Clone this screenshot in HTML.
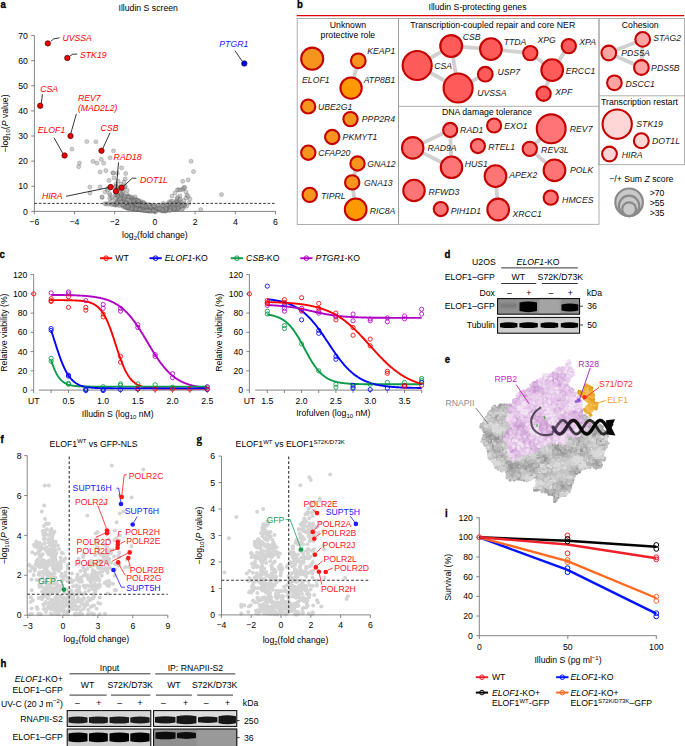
<!DOCTYPE html>
<html><head><meta charset="utf-8"><style>
html,body{margin:0;padding:0;background:#fff;}
svg{display:block;}
svg{font-family:"Liberation Sans",sans-serif;font-size:8.7px;}
</style></head><body>
<svg width="685" height="746" viewBox="0 0 685 746">
<defs>
<filter id="bl" x="-20%" y="-50%" width="140%" height="200%"><feGaussianBlur stdDeviation="0.6"/></filter>
<filter id="bl2" x="-20%" y="-50%" width="140%" height="200%"><feGaussianBlur stdDeviation="1.2"/></filter>
</defs>
<rect width="685" height="746" fill="#fff"/>
<text transform="matrix(1,0,0,1.042,0.60,7.90)" font-size="9.6" font-weight="bold" stroke="#000" stroke-width="0.3">a</text>
<text transform="matrix(1,0,0,1.042,148.20,10.71)" text-anchor="middle">Illudin S screen</text>
<line x1="34.40" y1="35.60" x2="34.40" y2="211.40" stroke="#666" stroke-width="0.8" />
<line x1="34.40" y1="211.40" x2="275.60" y2="211.40" stroke="#666" stroke-width="0.8" />
<line x1="31.20" y1="211.40" x2="34.40" y2="211.40" stroke="#666" stroke-width="0.8" />
<text transform="matrix(1,0,0,1.042,27.80,214.51)" text-anchor="end">0</text>
<line x1="31.20" y1="186.27" x2="34.40" y2="186.27" stroke="#666" stroke-width="0.8" />
<text transform="matrix(1,0,0,1.042,27.80,189.38)" text-anchor="end">10</text>
<line x1="31.20" y1="161.14" x2="34.40" y2="161.14" stroke="#666" stroke-width="0.8" />
<text transform="matrix(1,0,0,1.042,27.80,164.25)" text-anchor="end">20</text>
<line x1="31.20" y1="136.01" x2="34.40" y2="136.01" stroke="#666" stroke-width="0.8" />
<text transform="matrix(1,0,0,1.042,27.80,139.12)" text-anchor="end">30</text>
<line x1="31.20" y1="110.88" x2="34.40" y2="110.88" stroke="#666" stroke-width="0.8" />
<text transform="matrix(1,0,0,1.042,27.80,113.99)" text-anchor="end">40</text>
<line x1="31.20" y1="85.75" x2="34.40" y2="85.75" stroke="#666" stroke-width="0.8" />
<text transform="matrix(1,0,0,1.042,27.80,88.86)" text-anchor="end">50</text>
<line x1="31.20" y1="60.62" x2="34.40" y2="60.62" stroke="#666" stroke-width="0.8" />
<text transform="matrix(1,0,0,1.042,27.80,63.73)" text-anchor="end">60</text>
<line x1="31.20" y1="35.49" x2="34.40" y2="35.49" stroke="#666" stroke-width="0.8" />
<text transform="matrix(1,0,0,1.042,27.80,38.60)" text-anchor="end">70</text>
<line x1="34.30" y1="211.40" x2="34.30" y2="214.30" stroke="#666" stroke-width="0.8" />
<text transform="matrix(1,0,0,1.042,34.30,224.71)" text-anchor="middle">−6</text>
<line x1="74.50" y1="211.40" x2="74.50" y2="214.30" stroke="#666" stroke-width="0.8" />
<text transform="matrix(1,0,0,1.042,74.50,224.71)" text-anchor="middle">−4</text>
<line x1="114.70" y1="211.40" x2="114.70" y2="214.30" stroke="#666" stroke-width="0.8" />
<text transform="matrix(1,0,0,1.042,114.70,224.71)" text-anchor="middle">−2</text>
<line x1="154.90" y1="211.40" x2="154.90" y2="214.30" stroke="#666" stroke-width="0.8" />
<text transform="matrix(1,0,0,1.042,154.90,224.71)" text-anchor="middle">0</text>
<line x1="195.10" y1="211.40" x2="195.10" y2="214.30" stroke="#666" stroke-width="0.8" />
<text transform="matrix(1,0,0,1.042,195.10,224.71)" text-anchor="middle">2</text>
<line x1="235.30" y1="211.40" x2="235.30" y2="214.30" stroke="#666" stroke-width="0.8" />
<text transform="matrix(1,0,0,1.042,235.30,224.71)" text-anchor="middle">4</text>
<line x1="275.50" y1="211.40" x2="275.50" y2="214.30" stroke="#666" stroke-width="0.8" />
<text transform="matrix(1,0,0,1.042,275.50,224.71)" text-anchor="middle">6</text>
<text transform="matrix(1,0,0,1.042,154.90,238.11)" text-anchor="middle">log<tspan font-size="6" dy="2">2</tspan><tspan dy="-2">(fold change)</tspan></text>
<text transform="translate(7.6,123.5) rotate(-90)" text-anchor="middle" y="0">−log<tspan font-size="6" dy="2">10</tspan><tspan dy="-2">(</tspan><tspan font-style="italic">P</tspan> value)</text>
<g fill="#9a9a9a" stroke="#484848" stroke-width="0.6" fill-opacity="0.48" stroke-opacity="0.42">
<circle cx="86.8" cy="141.5" r="2.05"/>
<circle cx="95.9" cy="141.8" r="2.05"/>
<circle cx="72.0" cy="149.1" r="2.05"/>
<circle cx="113.5" cy="150.8" r="2.05"/>
<circle cx="79.4" cy="163.1" r="2.05"/>
<circle cx="78.7" cy="166.7" r="2.05"/>
<circle cx="93.1" cy="161.4" r="2.05"/>
<circle cx="97.0" cy="163.1" r="2.05"/>
<circle cx="103.7" cy="163.1" r="2.05"/>
<circle cx="110.1" cy="157.8" r="2.05"/>
<circle cx="101.2" cy="159.3" r="2.05"/>
<circle cx="100.1" cy="172.0" r="2.05"/>
<circle cx="105.8" cy="170.6" r="2.05"/>
<circle cx="121.6" cy="167.9" r="2.05"/>
<circle cx="125.7" cy="173.5" r="2.05"/>
<circle cx="113.2" cy="173.0" r="2.05"/>
<circle cx="117.3" cy="173.3" r="2.05"/>
<circle cx="89.8" cy="187.1" r="2.05"/>
<circle cx="90.0" cy="193.1" r="2.05"/>
<circle cx="100.1" cy="186.9" r="2.05"/>
<circle cx="102.2" cy="197.4" r="2.05"/>
<circle cx="109.0" cy="180.4" r="2.05"/>
<circle cx="125.2" cy="178.9" r="2.05"/>
<circle cx="101.9" cy="197.0" r="2.05"/>
<circle cx="191.0" cy="161.3" r="2.05"/>
<circle cx="193.5" cy="171.6" r="2.05"/>
<circle cx="182.7" cy="181.3" r="2.05"/>
<circle cx="188.2" cy="179.9" r="2.05"/>
<circle cx="178.5" cy="189.6" r="2.05"/>
<circle cx="182.1" cy="189.6" r="2.05"/>
<circle cx="184.0" cy="187.7" r="2.05"/>
<circle cx="221.5" cy="194.6" r="2.05"/>
<circle cx="200.7" cy="209.6" r="2.05"/>
<circle cx="112.9" cy="172.9" r="2.05"/>
<circle cx="118.0" cy="181.0" r="2.05"/>
<circle cx="121.0" cy="184.0" r="2.05"/>
<circle cx="124.0" cy="182.0" r="2.05"/>
<circle cx="108.0" cy="188.0" r="2.05"/>
<circle cx="105.0" cy="192.0" r="2.05"/>
<circle cx="110.0" cy="195.0" r="2.05"/>
<circle cx="114.0" cy="178.0" r="2.05"/>
<circle cx="116.0" cy="184.0" r="2.05"/>
<circle cx="177.4" cy="190.0" r="2.05"/>
<circle cx="179.9" cy="190.0" r="2.05"/>
<circle cx="183.4" cy="188.7" r="2.05"/>
<circle cx="184.8" cy="187.3" r="2.05"/>
<circle cx="186.0" cy="192.0" r="2.05"/>
<circle cx="187.0" cy="195.0" r="2.05"/>
<circle cx="175.0" cy="193.0" r="2.05"/>
<circle cx="172.0" cy="196.0" r="2.05"/>
<circle cx="180.0" cy="196.0" r="2.05"/>
<circle cx="186.0" cy="198.0" r="2.05"/>
<circle cx="190.0" cy="199.0" r="2.05"/>
<circle cx="189.0" cy="203.0" r="2.05"/>
<circle cx="184.0" cy="204.0" r="2.05"/>
<circle cx="147.9" cy="210.9" r="2.05"/>
<circle cx="152.2" cy="210.1" r="2.05"/>
<circle cx="133.2" cy="205.9" r="2.05"/>
<circle cx="136.6" cy="209.3" r="2.05"/>
<circle cx="139.9" cy="209.2" r="2.05"/>
<circle cx="130.9" cy="196.9" r="2.05"/>
<circle cx="108.3" cy="204.1" r="2.05"/>
<circle cx="186.6" cy="206.2" r="2.05"/>
<circle cx="145.1" cy="205.1" r="2.05"/>
<circle cx="144.4" cy="207.3" r="2.05"/>
<circle cx="125.4" cy="207.5" r="2.05"/>
<circle cx="148.6" cy="210.5" r="2.05"/>
<circle cx="126.6" cy="201.7" r="2.05"/>
<circle cx="141.8" cy="209.0" r="2.05"/>
<circle cx="167.6" cy="207.1" r="2.05"/>
<circle cx="127.5" cy="196.5" r="2.05"/>
<circle cx="163.3" cy="210.9" r="2.05"/>
<circle cx="172.4" cy="203.6" r="2.05"/>
<circle cx="133.1" cy="202.8" r="2.05"/>
<circle cx="170.2" cy="206.6" r="2.05"/>
<circle cx="163.9" cy="207.6" r="2.05"/>
<circle cx="155.4" cy="209.6" r="2.05"/>
<circle cx="180.7" cy="202.3" r="2.05"/>
<circle cx="131.8" cy="201.8" r="2.05"/>
<circle cx="161.1" cy="210.3" r="2.05"/>
<circle cx="135.8" cy="203.8" r="2.05"/>
<circle cx="129.1" cy="207.9" r="2.05"/>
<circle cx="138.7" cy="203.5" r="2.05"/>
<circle cx="137.0" cy="201.3" r="2.05"/>
<circle cx="149.8" cy="209.3" r="2.05"/>
<circle cx="154.8" cy="206.4" r="2.05"/>
<circle cx="120.6" cy="202.5" r="2.05"/>
<circle cx="161.4" cy="210.9" r="2.05"/>
<circle cx="115.0" cy="203.7" r="2.05"/>
<circle cx="119.5" cy="204.4" r="2.05"/>
<circle cx="138.5" cy="207.4" r="2.05"/>
<circle cx="107.3" cy="189.9" r="2.05"/>
<circle cx="123.7" cy="199.9" r="2.05"/>
<circle cx="163.2" cy="205.8" r="2.05"/>
<circle cx="177.1" cy="201.3" r="2.05"/>
<circle cx="131.9" cy="202.9" r="2.05"/>
<circle cx="140.4" cy="210.0" r="2.05"/>
<circle cx="143.0" cy="210.4" r="2.05"/>
<circle cx="147.0" cy="210.5" r="2.05"/>
<circle cx="134.9" cy="200.3" r="2.05"/>
<circle cx="139.1" cy="209.5" r="2.05"/>
<circle cx="129.7" cy="208.0" r="2.05"/>
<circle cx="177.8" cy="197.4" r="2.05"/>
<circle cx="131.3" cy="208.4" r="2.05"/>
<circle cx="137.4" cy="208.5" r="2.05"/>
<circle cx="171.1" cy="201.1" r="2.05"/>
<circle cx="139.2" cy="209.5" r="2.05"/>
<circle cx="152.6" cy="205.2" r="2.05"/>
<circle cx="172.1" cy="204.6" r="2.05"/>
<circle cx="131.5" cy="200.5" r="2.05"/>
<circle cx="142.7" cy="204.7" r="2.05"/>
<circle cx="140.8" cy="201.4" r="2.05"/>
<circle cx="188.1" cy="196.5" r="2.05"/>
<circle cx="169.5" cy="207.3" r="2.05"/>
<circle cx="127.5" cy="208.0" r="2.05"/>
<circle cx="135.0" cy="203.2" r="2.05"/>
<circle cx="177.6" cy="206.4" r="2.05"/>
<circle cx="134.4" cy="208.2" r="2.05"/>
<circle cx="139.7" cy="205.6" r="2.05"/>
<circle cx="176.4" cy="200.9" r="2.05"/>
<circle cx="123.4" cy="207.0" r="2.05"/>
<circle cx="117.6" cy="189.6" r="2.05"/>
<circle cx="170.0" cy="210.0" r="2.05"/>
<circle cx="158.5" cy="210.2" r="2.05"/>
<circle cx="179.9" cy="206.4" r="2.05"/>
<circle cx="168.2" cy="205.3" r="2.05"/>
<circle cx="142.0" cy="203.0" r="2.05"/>
<circle cx="174.1" cy="209.7" r="2.05"/>
<circle cx="184.6" cy="206.0" r="2.05"/>
<circle cx="134.5" cy="208.8" r="2.05"/>
<circle cx="155.4" cy="209.1" r="2.05"/>
<circle cx="167.3" cy="208.5" r="2.05"/>
<circle cx="173.2" cy="209.2" r="2.05"/>
<circle cx="128.8" cy="206.9" r="2.05"/>
<circle cx="136.0" cy="209.1" r="2.05"/>
<circle cx="180.4" cy="206.9" r="2.05"/>
<circle cx="112.3" cy="199.5" r="2.05"/>
<circle cx="159.1" cy="209.0" r="2.05"/>
<circle cx="134.3" cy="206.2" r="2.05"/>
<circle cx="136.4" cy="209.5" r="2.05"/>
<circle cx="175.3" cy="203.2" r="2.05"/>
<circle cx="149.9" cy="210.0" r="2.05"/>
<circle cx="115.3" cy="205.2" r="2.05"/>
<circle cx="129.0" cy="206.9" r="2.05"/>
<circle cx="139.0" cy="206.1" r="2.05"/>
<circle cx="158.1" cy="205.5" r="2.05"/>
<circle cx="125.0" cy="202.3" r="2.05"/>
<circle cx="126.7" cy="203.8" r="2.05"/>
<circle cx="141.1" cy="203.0" r="2.05"/>
<circle cx="169.2" cy="202.0" r="2.05"/>
<circle cx="182.8" cy="208.5" r="2.05"/>
<circle cx="132.1" cy="207.6" r="2.05"/>
<circle cx="138.6" cy="204.7" r="2.05"/>
<circle cx="174.6" cy="203.5" r="2.05"/>
<circle cx="132.2" cy="208.3" r="2.05"/>
<circle cx="176.9" cy="198.6" r="2.05"/>
<circle cx="134.9" cy="205.8" r="2.05"/>
<circle cx="172.9" cy="207.6" r="2.05"/>
<circle cx="130.1" cy="206.2" r="2.05"/>
<circle cx="128.1" cy="208.2" r="2.05"/>
<circle cx="155.8" cy="209.7" r="2.05"/>
<circle cx="127.9" cy="203.3" r="2.05"/>
<circle cx="152.7" cy="205.2" r="2.05"/>
<circle cx="174.6" cy="208.8" r="2.05"/>
<circle cx="135.7" cy="202.2" r="2.05"/>
<circle cx="146.2" cy="204.4" r="2.05"/>
<circle cx="177.6" cy="208.4" r="2.05"/>
<circle cx="151.7" cy="207.6" r="2.05"/>
<circle cx="128.5" cy="208.1" r="2.05"/>
<circle cx="132.3" cy="197.9" r="2.05"/>
<circle cx="139.1" cy="203.2" r="2.05"/>
<circle cx="139.8" cy="202.7" r="2.05"/>
<circle cx="133.0" cy="206.9" r="2.05"/>
<circle cx="146.1" cy="210.5" r="2.05"/>
<circle cx="132.2" cy="207.7" r="2.05"/>
<circle cx="139.0" cy="209.2" r="2.05"/>
<circle cx="140.4" cy="208.7" r="2.05"/>
<circle cx="167.0" cy="210.3" r="2.05"/>
<circle cx="151.7" cy="211.3" r="2.05"/>
<circle cx="157.9" cy="208.7" r="2.05"/>
<circle cx="138.9" cy="207.0" r="2.05"/>
<circle cx="184.6" cy="204.8" r="2.05"/>
<circle cx="151.8" cy="206.5" r="2.05"/>
<circle cx="116.9" cy="186.8" r="2.05"/>
<circle cx="136.0" cy="201.5" r="2.05"/>
<circle cx="128.1" cy="205.6" r="2.05"/>
<circle cx="126.8" cy="207.4" r="2.05"/>
<circle cx="136.2" cy="208.9" r="2.05"/>
<circle cx="126.8" cy="196.9" r="2.05"/>
<circle cx="166.1" cy="210.1" r="2.05"/>
<circle cx="127.5" cy="204.0" r="2.05"/>
<circle cx="127.2" cy="194.4" r="2.05"/>
<circle cx="172.6" cy="206.3" r="2.05"/>
<circle cx="147.8" cy="209.6" r="2.05"/>
<circle cx="134.4" cy="206.8" r="2.05"/>
<circle cx="128.1" cy="203.5" r="2.05"/>
<circle cx="136.7" cy="208.3" r="2.05"/>
<circle cx="133.7" cy="209.1" r="2.05"/>
<circle cx="139.1" cy="209.0" r="2.05"/>
<circle cx="115.4" cy="195.2" r="2.05"/>
<circle cx="132.8" cy="199.3" r="2.05"/>
<circle cx="119.4" cy="205.7" r="2.05"/>
<circle cx="160.7" cy="205.2" r="2.05"/>
<circle cx="143.6" cy="205.5" r="2.05"/>
<circle cx="177.8" cy="205.6" r="2.05"/>
<circle cx="179.4" cy="200.3" r="2.05"/>
<circle cx="151.6" cy="207.8" r="2.05"/>
<circle cx="122.9" cy="205.7" r="2.05"/>
<circle cx="145.1" cy="210.5" r="2.05"/>
<circle cx="177.0" cy="205.1" r="2.05"/>
<circle cx="123.0" cy="202.0" r="2.05"/>
<circle cx="122.7" cy="195.6" r="2.05"/>
<circle cx="157.5" cy="207.9" r="2.05"/>
<circle cx="136.5" cy="203.1" r="2.05"/>
<circle cx="146.0" cy="206.2" r="2.05"/>
<circle cx="141.4" cy="204.8" r="2.05"/>
<circle cx="160.1" cy="209.1" r="2.05"/>
<circle cx="137.3" cy="203.0" r="2.05"/>
<circle cx="133.5" cy="208.6" r="2.05"/>
<circle cx="132.7" cy="201.5" r="2.05"/>
<circle cx="134.9" cy="209.2" r="2.05"/>
<circle cx="136.0" cy="203.8" r="2.05"/>
<circle cx="131.9" cy="204.6" r="2.05"/>
<circle cx="127.1" cy="203.7" r="2.05"/>
<circle cx="143.6" cy="202.7" r="2.05"/>
<circle cx="165.8" cy="211.0" r="2.05"/>
<circle cx="151.4" cy="209.5" r="2.05"/>
<circle cx="145.3" cy="207.5" r="2.05"/>
<circle cx="133.8" cy="205.0" r="2.05"/>
<circle cx="182.5" cy="204.3" r="2.05"/>
<circle cx="183.8" cy="200.5" r="2.05"/>
<circle cx="148.9" cy="211.1" r="2.05"/>
<circle cx="127.8" cy="203.6" r="2.05"/>
<circle cx="134.5" cy="207.2" r="2.05"/>
<circle cx="143.6" cy="204.3" r="2.05"/>
<circle cx="136.9" cy="209.3" r="2.05"/>
<circle cx="150.8" cy="207.4" r="2.05"/>
<circle cx="167.6" cy="208.8" r="2.05"/>
<circle cx="179.4" cy="204.0" r="2.05"/>
<circle cx="127.4" cy="208.0" r="2.05"/>
<circle cx="141.4" cy="203.6" r="2.05"/>
<circle cx="145.9" cy="209.9" r="2.05"/>
<circle cx="132.9" cy="208.2" r="2.05"/>
<circle cx="162.9" cy="205.5" r="2.05"/>
<circle cx="129.4" cy="196.8" r="2.05"/>
<circle cx="154.7" cy="211.3" r="2.05"/>
<circle cx="165.1" cy="208.7" r="2.05"/>
<circle cx="164.9" cy="211.0" r="2.05"/>
<circle cx="163.5" cy="210.8" r="2.05"/>
<circle cx="130.7" cy="200.7" r="2.05"/>
<circle cx="177.0" cy="208.5" r="2.05"/>
<circle cx="131.6" cy="206.0" r="2.05"/>
<circle cx="152.6" cy="211.0" r="2.05"/>
<circle cx="149.5" cy="210.5" r="2.05"/>
<circle cx="163.4" cy="203.2" r="2.05"/>
<circle cx="142.3" cy="210.2" r="2.05"/>
<circle cx="143.4" cy="210.3" r="2.05"/>
<circle cx="135.9" cy="200.6" r="2.05"/>
<circle cx="183.0" cy="205.5" r="2.05"/>
<circle cx="124.2" cy="204.7" r="2.05"/>
<circle cx="134.9" cy="207.9" r="2.05"/>
<circle cx="178.3" cy="203.7" r="2.05"/>
<circle cx="178.4" cy="208.6" r="2.05"/>
<circle cx="136.9" cy="206.8" r="2.05"/>
<circle cx="180.1" cy="199.2" r="2.05"/>
<circle cx="172.5" cy="204.3" r="2.05"/>
<circle cx="170.3" cy="207.6" r="2.05"/>
<circle cx="149.8" cy="205.2" r="2.05"/>
<circle cx="170.0" cy="203.0" r="2.05"/>
<circle cx="170.0" cy="210.2" r="2.05"/>
<circle cx="143.1" cy="205.9" r="2.05"/>
<circle cx="167.4" cy="205.0" r="2.05"/>
<circle cx="118.2" cy="199.0" r="2.05"/>
<circle cx="138.7" cy="201.4" r="2.05"/>
<circle cx="127.5" cy="206.0" r="2.05"/>
<circle cx="136.6" cy="203.7" r="2.05"/>
<circle cx="155.4" cy="211.3" r="2.05"/>
<circle cx="125.6" cy="206.4" r="2.05"/>
<circle cx="130.4" cy="208.6" r="2.05"/>
<circle cx="144.9" cy="204.3" r="2.05"/>
<circle cx="137.8" cy="200.3" r="2.05"/>
<circle cx="146.6" cy="209.7" r="2.05"/>
<circle cx="117.2" cy="201.3" r="2.05"/>
<circle cx="137.0" cy="204.2" r="2.05"/>
<circle cx="170.4" cy="208.9" r="2.05"/>
<circle cx="140.2" cy="205.1" r="2.05"/>
<circle cx="143.1" cy="207.7" r="2.05"/>
<circle cx="116.3" cy="186.8" r="2.05"/>
<circle cx="140.8" cy="209.4" r="2.05"/>
<circle cx="163.4" cy="210.0" r="2.05"/>
<circle cx="163.5" cy="210.4" r="2.05"/>
<circle cx="137.0" cy="204.3" r="2.05"/>
<circle cx="176.1" cy="209.0" r="2.05"/>
<circle cx="178.0" cy="209.2" r="2.05"/>
<circle cx="149.0" cy="205.3" r="2.05"/>
<circle cx="173.7" cy="203.6" r="2.05"/>
<circle cx="178.1" cy="208.9" r="2.05"/>
<circle cx="166.2" cy="205.5" r="2.05"/>
<circle cx="130.3" cy="205.9" r="2.05"/>
<circle cx="125.9" cy="206.9" r="2.05"/>
<circle cx="134.5" cy="198.8" r="2.05"/>
<circle cx="148.8" cy="204.5" r="2.05"/>
<circle cx="121.7" cy="194.5" r="2.05"/>
<circle cx="155.8" cy="211.3" r="2.05"/>
<circle cx="116.4" cy="204.5" r="2.05"/>
<circle cx="157.8" cy="205.7" r="2.05"/>
<circle cx="116.6" cy="193.0" r="2.05"/>
<circle cx="149.5" cy="211.1" r="2.05"/>
<circle cx="145.6" cy="206.0" r="2.05"/>
<circle cx="166.2" cy="209.4" r="2.05"/>
<circle cx="154.3" cy="210.7" r="2.05"/>
<circle cx="132.1" cy="206.9" r="2.05"/>
<circle cx="158.7" cy="205.3" r="2.05"/>
<circle cx="137.3" cy="200.4" r="2.05"/>
<circle cx="138.3" cy="200.6" r="2.05"/>
<circle cx="181.3" cy="206.3" r="2.05"/>
<circle cx="123.0" cy="192.6" r="2.05"/>
<circle cx="143.3" cy="204.7" r="2.05"/>
<circle cx="177.6" cy="204.2" r="2.05"/>
<circle cx="116.6" cy="202.8" r="2.05"/>
<circle cx="137.9" cy="209.0" r="2.05"/>
<circle cx="166.0" cy="210.1" r="2.05"/>
<circle cx="153.0" cy="210.3" r="2.05"/>
<circle cx="172.7" cy="201.6" r="2.05"/>
<circle cx="169.6" cy="210.5" r="2.05"/>
<circle cx="142.3" cy="205.4" r="2.05"/>
<circle cx="138.2" cy="205.2" r="2.05"/>
<circle cx="150.3" cy="207.0" r="2.05"/>
<circle cx="167.4" cy="204.0" r="2.05"/>
<circle cx="131.1" cy="203.6" r="2.05"/>
<circle cx="136.2" cy="208.4" r="2.05"/>
<circle cx="128.1" cy="207.5" r="2.05"/>
<circle cx="162.1" cy="209.5" r="2.05"/>
<circle cx="165.8" cy="208.1" r="2.05"/>
<circle cx="143.6" cy="202.5" r="2.05"/>
<circle cx="119.1" cy="200.9" r="2.05"/>
<circle cx="182.0" cy="209.1" r="2.05"/>
<circle cx="112.4" cy="204.4" r="2.05"/>
<circle cx="153.8" cy="205.8" r="2.05"/>
<circle cx="133.9" cy="200.0" r="2.05"/>
<circle cx="135.4" cy="199.4" r="2.05"/>
<circle cx="159.4" cy="208.2" r="2.05"/>
<circle cx="139.3" cy="209.5" r="2.05"/>
<circle cx="149.1" cy="210.3" r="2.05"/>
<circle cx="131.7" cy="208.8" r="2.05"/>
<circle cx="129.6" cy="201.3" r="2.05"/>
<circle cx="133.5" cy="201.0" r="2.05"/>
<circle cx="145.0" cy="210.6" r="2.05"/>
<circle cx="123.7" cy="199.5" r="2.05"/>
<circle cx="146.9" cy="210.5" r="2.05"/>
<circle cx="127.8" cy="206.0" r="2.05"/>
<circle cx="174.4" cy="208.5" r="2.05"/>
<circle cx="128.4" cy="197.2" r="2.05"/>
<circle cx="178.1" cy="207.3" r="2.05"/>
<circle cx="135.6" cy="209.4" r="2.05"/>
<circle cx="115.7" cy="186.4" r="2.05"/>
<circle cx="109.8" cy="198.5" r="2.05"/>
<circle cx="124.9" cy="187.0" r="2.05"/>
<circle cx="116.2" cy="205.0" r="2.05"/>
<circle cx="120.6" cy="195.3" r="2.05"/>
<circle cx="111.3" cy="204.2" r="2.05"/>
<circle cx="109.5" cy="193.6" r="2.05"/>
<circle cx="114.8" cy="203.4" r="2.05"/>
<circle cx="124.9" cy="201.0" r="2.05"/>
<circle cx="106.1" cy="203.9" r="2.05"/>
<circle cx="117.9" cy="196.7" r="2.05"/>
<circle cx="125.0" cy="202.5" r="2.05"/>
<circle cx="104.9" cy="203.7" r="2.05"/>
<circle cx="135.1" cy="196.8" r="2.05"/>
<circle cx="114.0" cy="204.6" r="2.05"/>
<circle cx="125.1" cy="186.4" r="2.05"/>
<circle cx="117.1" cy="193.6" r="2.05"/>
<circle cx="121.3" cy="189.5" r="2.05"/>
<circle cx="116.5" cy="202.1" r="2.05"/>
<circle cx="110.1" cy="188.4" r="2.05"/>
<circle cx="126.3" cy="202.8" r="2.05"/>
<circle cx="120.9" cy="196.0" r="2.05"/>
<circle cx="125.7" cy="199.0" r="2.05"/>
<circle cx="123.0" cy="191.1" r="2.05"/>
<circle cx="122.9" cy="186.6" r="2.05"/>
<circle cx="127.2" cy="190.2" r="2.05"/>
<circle cx="121.7" cy="204.8" r="2.05"/>
<circle cx="121.3" cy="194.1" r="2.05"/>
<circle cx="117.2" cy="195.3" r="2.05"/>
<circle cx="116.1" cy="198.2" r="2.05"/>
<circle cx="116.0" cy="194.5" r="2.05"/>
<circle cx="111.8" cy="197.6" r="2.05"/>
<circle cx="123.7" cy="197.8" r="2.05"/>
<circle cx="128.0" cy="196.7" r="2.05"/>
<circle cx="121.0" cy="201.9" r="2.05"/>
<circle cx="120.6" cy="197.4" r="2.05"/>
<circle cx="109.3" cy="202.8" r="2.05"/>
<circle cx="116.9" cy="203.6" r="2.05"/>
<circle cx="120.2" cy="198.0" r="2.05"/>
<circle cx="125.2" cy="196.2" r="2.05"/>
<circle cx="123.3" cy="204.8" r="2.05"/>
<circle cx="118.1" cy="190.8" r="2.05"/>
<circle cx="117.8" cy="189.7" r="2.05"/>
<circle cx="117.7" cy="196.4" r="2.05"/>
<circle cx="119.6" cy="199.1" r="2.05"/>
</g>
<line x1="34.40" y1="203.40" x2="275.60" y2="203.40" stroke="#222" stroke-width="0.9" stroke-dasharray="2.6 1.8"/>
<polyline points="50.80,41.40 53.50,39.00 59.50,37.80" fill="none" stroke="#111" stroke-width="0.85" />
<circle cx="47.80" cy="43.40" r="2.70" fill="#e60000" stroke="#5a0000" stroke-width="0.7" />
<text transform="matrix(1,0,0,1.042,62.40,41.21)" fill="#ff0000" font-style="italic">UVSSA</text>
<polyline points="69.90,56.20 72.50,54.30 77.20,54.00" fill="none" stroke="#111" stroke-width="0.85" />
<circle cx="67.30" cy="58.00" r="2.70" fill="#e60000" stroke="#5a0000" stroke-width="0.7" />
<text transform="matrix(1,0,0,1.042,80.00,58.11)" fill="#ff0000" font-style="italic">STK19</text>
<polyline points="42.40,94.20 41.30,103.50" fill="none" stroke="#111" stroke-width="0.85" />
<circle cx="40.20" cy="105.80" r="2.70" fill="#e60000" stroke="#5a0000" stroke-width="0.7" />
<text transform="matrix(1,0,0,1.042,40.20,92.41)" fill="#ff0000" font-style="italic">CSA</text>
<polyline points="76.40,113.80 70.80,133.50" fill="none" stroke="#111" stroke-width="0.85" />
<circle cx="70.50" cy="136.00" r="2.70" fill="#e60000" stroke="#5a0000" stroke-width="0.7" />
<text transform="matrix(1,0,0,1.042,77.90,100.51)" fill="#ff0000" font-style="italic">REV7</text>
<text transform="matrix(1,0,0,1.042,77.90,111.11)" fill="#ff0000" font-style="italic">(MAD2L2)</text>
<polyline points="54.00,137.70 62.70,153.20" fill="none" stroke="#111" stroke-width="0.85" />
<circle cx="64.60" cy="155.50" r="2.70" fill="#e60000" stroke="#5a0000" stroke-width="0.7" />
<text transform="matrix(1,0,0,1.042,37.70,132.71)" fill="#ff0000" font-style="italic">ELOF1</text>
<polyline points="110.00,132.80 102.90,148.40" fill="none" stroke="#111" stroke-width="0.85" />
<circle cx="101.50" cy="150.70" r="2.70" fill="#e60000" stroke="#5a0000" stroke-width="0.7" />
<text transform="matrix(1,0,0,1.042,100.60,130.61)" fill="#ff0000" font-style="italic">CSB</text>
<polyline points="118.50,162.40 116.20,189.00" fill="none" stroke="#111" stroke-width="0.85" />
<polyline points="66.00,196.30 108.30,187.60" fill="none" stroke="#111" stroke-width="0.85" />
<polyline points="136.40,178.20 132.20,178.20 123.60,186.20" fill="none" stroke="#111" stroke-width="0.85" />
<circle cx="110.70" cy="187.00" r="2.70" fill="#e60000" stroke="#5a0000" stroke-width="0.7" />
<circle cx="115.90" cy="191.20" r="2.70" fill="#e60000" stroke="#5a0000" stroke-width="0.7" />
<circle cx="121.50" cy="187.70" r="2.70" fill="#e60000" stroke="#5a0000" stroke-width="0.7" />
<text transform="matrix(1,0,0,1.042,113.60,160.31)" fill="#ff0000" font-style="italic">RAD18</text>
<text transform="matrix(1,0,0,1.042,139.90,182.51)" fill="#ff0000" font-style="italic">DOT1L</text>
<text transform="matrix(1,0,0,1.042,41.90,198.81)" fill="#ff0000" font-style="italic">HIRA</text>
<polyline points="235.00,50.80 242.20,61.20" fill="none" stroke="#111" stroke-width="0.85" />
<circle cx="244.30" cy="63.50" r="2.70" fill="#0000e6" stroke="#00005a" stroke-width="0.7" />
<text transform="matrix(1,0,0,1.042,219.30,46.71)" fill="#1a1aff" font-style="italic">PTGR1</text>
<text transform="matrix(1,0,0,1.042,297.00,7.90)" font-size="9.6" font-weight="bold" stroke="#000" stroke-width="0.3">b</text>
<text transform="matrix(1,0,0,1.042,477.50,9.81)" text-anchor="middle">Illudin S-protecting genes</text>
<line x1="296.80" y1="15.60" x2="684.20" y2="15.60" stroke="#e00000" stroke-width="1.1" />
<rect x="297.20" y="18.50" width="101.30" height="205.90" fill="none" stroke="#999" stroke-width="0.8" />
<rect x="398.50" y="18.50" width="200.50" height="205.80" fill="none" stroke="#999" stroke-width="0.8" />
<line x1="398.50" y1="106.30" x2="599.00" y2="106.30" stroke="#999" stroke-width="0.8" />
<rect x="599.00" y="18.50" width="85.40" height="146.20" fill="none" stroke="#999" stroke-width="0.8" />
<line x1="599.00" y1="95.80" x2="684.40" y2="95.80" stroke="#999" stroke-width="0.8" />
<text transform="matrix(1,0,0,1.042,347.90,28.11)" text-anchor="middle">Unknown</text>
<text transform="matrix(1,0,0,1.042,347.90,37.71)" text-anchor="middle">protective role</text>
<text transform="matrix(1,0,0,1.042,410.30,28.01)">Transcription-coupled repair and core NER</text>
<text transform="matrix(1,0,0,1.042,442.00,114.91)">DNA damage tolerance</text>
<text transform="matrix(1,0,0,1.042,640.20,28.01)" text-anchor="middle">Cohesion</text>
<text transform="matrix(1,0,0,1.042,601.00,104.81)">Transcription restart</text>
<text transform="matrix(1,0,0,1.042,641.30,181.71)" text-anchor="middle">−/+ Sum <tspan font-style="italic">Z</tspan> score</text>
<line x1="358.30" y1="60.80" x2="351.10" y2="88.10" stroke="#d0d0d0" stroke-width="3.8" />
<line x1="357.50" y1="163.50" x2="352.20" y2="182.40" stroke="#d0d0d0" stroke-width="3.8" />
<line x1="352.20" y1="182.40" x2="355.70" y2="209.40" stroke="#d0d0d0" stroke-width="3.8" />
<line x1="417.20" y1="65.50" x2="451.20" y2="46.10" stroke="#d0d0d0" stroke-width="3.8" />
<line x1="417.20" y1="65.50" x2="458.10" y2="88.00" stroke="#d0d0d0" stroke-width="3.8" />
<line x1="451.20" y1="46.10" x2="458.10" y2="88.00" stroke="#d0d0d0" stroke-width="3.8" />
<line x1="458.10" y1="88.00" x2="485.30" y2="74.20" stroke="#d0d0d0" stroke-width="3.8" />
<line x1="451.20" y1="46.10" x2="490.90" y2="49.10" stroke="#d0d0d0" stroke-width="3.8" />
<line x1="490.90" y1="49.10" x2="530.30" y2="53.10" stroke="#d0d0d0" stroke-width="3.8" />
<line x1="530.30" y1="53.10" x2="552.20" y2="70.10" stroke="#d0d0d0" stroke-width="3.8" />
<line x1="552.20" y1="70.10" x2="568.80" y2="46.10" stroke="#d0d0d0" stroke-width="3.8" />
<line x1="552.20" y1="70.10" x2="543.60" y2="93.70" stroke="#d0d0d0" stroke-width="3.8" />
<line x1="412.70" y1="147.90" x2="450.20" y2="129.90" stroke="#d0d0d0" stroke-width="3.8" />
<line x1="412.70" y1="147.90" x2="451.50" y2="167.30" stroke="#d0d0d0" stroke-width="3.8" />
<line x1="450.20" y1="129.90" x2="451.50" y2="167.30" stroke="#d0d0d0" stroke-width="3.8" />
<line x1="495.50" y1="176.10" x2="498.20" y2="209.50" stroke="#d0d0d0" stroke-width="3.8" />
<line x1="551.20" y1="128.80" x2="529.80" y2="148.90" stroke="#d0d0d0" stroke-width="3.8" />
<line x1="529.80" y1="148.90" x2="554.50" y2="170.30" stroke="#d0d0d0" stroke-width="3.8" />
<line x1="608.80" y1="53.00" x2="642.70" y2="39.40" stroke="#d0d0d0" stroke-width="3.8" />
<line x1="608.80" y1="53.00" x2="641.40" y2="67.50" stroke="#d0d0d0" stroke-width="3.8" />
<line x1="642.70" y1="39.40" x2="641.40" y2="67.50" stroke="#d0d0d0" stroke-width="3.8" />
<circle cx="312.20" cy="58.70" r="11.05" fill="#f7941d" stroke="#c40000" stroke-width="2.1" />
<circle cx="358.30" cy="60.80" r="7.35" fill="#f7941d" stroke="#c40000" stroke-width="2.1" />
<circle cx="351.10" cy="88.10" r="10.65" fill="#ff9900" stroke="#c40000" stroke-width="2.1" />
<circle cx="308.20" cy="106.50" r="7.05" fill="#f7941d" stroke="#c40000" stroke-width="2.1" />
<circle cx="350.50" cy="119.10" r="7.15" fill="#f7941d" stroke="#c40000" stroke-width="2.1" />
<circle cx="332.20" cy="137.00" r="7.15" fill="#f7941d" stroke="#c40000" stroke-width="2.1" />
<circle cx="308.30" cy="152.70" r="7.15" fill="#f7941d" stroke="#c40000" stroke-width="2.1" />
<circle cx="357.50" cy="163.50" r="7.15" fill="#f7941d" stroke="#c40000" stroke-width="2.1" />
<circle cx="352.20" cy="182.40" r="7.15" fill="#f7941d" stroke="#c40000" stroke-width="2.1" />
<circle cx="309.70" cy="194.90" r="7.15" fill="#f7941d" stroke="#c40000" stroke-width="2.1" />
<circle cx="355.70" cy="209.40" r="10.85" fill="#ff9900" stroke="#c40000" stroke-width="2.1" />
<circle cx="417.20" cy="65.50" r="14.55" fill="#ff5b5b" stroke="#c40000" stroke-width="2.1" />
<circle cx="451.20" cy="46.10" r="10.95" fill="#ff5b5b" stroke="#c40000" stroke-width="2.1" />
<circle cx="490.90" cy="49.10" r="10.85" fill="#ff5b5b" stroke="#c40000" stroke-width="2.1" />
<circle cx="458.10" cy="88.00" r="14.55" fill="#ff5b5b" stroke="#c40000" stroke-width="2.1" />
<circle cx="485.30" cy="74.20" r="7.35" fill="#ff5b5b" stroke="#c40000" stroke-width="2.1" />
<circle cx="530.30" cy="53.10" r="7.15" fill="#ff5b5b" stroke="#c40000" stroke-width="2.1" />
<circle cx="568.80" cy="46.10" r="7.15" fill="#ff5b5b" stroke="#c40000" stroke-width="2.1" />
<circle cx="552.20" cy="70.10" r="10.85" fill="#ff5b5b" stroke="#c40000" stroke-width="2.1" />
<circle cx="543.60" cy="93.70" r="7.15" fill="#ff5b5b" stroke="#c40000" stroke-width="2.1" />
<circle cx="450.20" cy="129.90" r="7.05" fill="#ff7474" stroke="#c40000" stroke-width="2.1" />
<circle cx="412.70" cy="147.90" r="10.75" fill="#ff7474" stroke="#c40000" stroke-width="2.1" />
<circle cx="451.50" cy="167.30" r="10.75" fill="#ff7474" stroke="#c40000" stroke-width="2.1" />
<circle cx="414.00" cy="190.50" r="10.75" fill="#ff7474" stroke="#c40000" stroke-width="2.1" />
<circle cx="440.80" cy="209.10" r="7.05" fill="#ff7474" stroke="#c40000" stroke-width="2.1" />
<circle cx="494.10" cy="125.50" r="7.05" fill="#ff7474" stroke="#c40000" stroke-width="2.1" />
<circle cx="477.90" cy="146.10" r="7.05" fill="#ff7474" stroke="#c40000" stroke-width="2.1" />
<circle cx="551.20" cy="128.80" r="14.45" fill="#ff7474" stroke="#c40000" stroke-width="2.1" />
<circle cx="529.80" cy="148.90" r="7.15" fill="#ff7474" stroke="#c40000" stroke-width="2.1" />
<circle cx="554.50" cy="170.30" r="10.85" fill="#ff7474" stroke="#c40000" stroke-width="2.1" />
<circle cx="495.50" cy="176.10" r="10.85" fill="#ff7474" stroke="#c40000" stroke-width="2.1" />
<circle cx="498.20" cy="209.50" r="10.85" fill="#ff7474" stroke="#c40000" stroke-width="2.1" />
<circle cx="550.80" cy="197.60" r="7.15" fill="#ff7474" stroke="#c40000" stroke-width="2.1" />
<circle cx="642.70" cy="39.40" r="7.35" fill="#ffa3a3" stroke="#c40000" stroke-width="2.1" />
<circle cx="608.80" cy="53.00" r="7.35" fill="#ffa3a3" stroke="#c40000" stroke-width="2.1" />
<circle cx="641.40" cy="67.50" r="7.35" fill="#ffa3a3" stroke="#c40000" stroke-width="2.1" />
<circle cx="614.40" cy="82.80" r="7.35" fill="#ffa3a3" stroke="#c40000" stroke-width="2.1" />
<circle cx="617.20" cy="124.20" r="14.65" fill="#ffd6d6" stroke="#c40000" stroke-width="2.1" />
<circle cx="641.30" cy="140.70" r="7.45" fill="#ffd6d6" stroke="#c40000" stroke-width="2.1" />
<circle cx="609.50" cy="154.00" r="7.35" fill="#ffd6d6" stroke="#c40000" stroke-width="2.1" />
<text transform="matrix(1,0,0,1.042,302.00,83.11)" fill="#1a1a1a" font-style="italic">ELOF1</text>
<text transform="matrix(1,0,0,1.042,367.20,53.81)" fill="#1a1a1a" font-style="italic">KEAP1</text>
<text transform="matrix(1,0,0,1.042,363.70,83.11)" fill="#1a1a1a" font-style="italic">ATP8B1</text>
<text transform="matrix(1,0,0,1.042,318.00,109.61)" fill="#1a1a1a" font-style="italic">UBE2G1</text>
<text transform="matrix(1,0,0,1.042,361.80,122.11)" fill="#1a1a1a" font-style="italic">PPP2R4</text>
<text transform="matrix(1,0,0,1.042,342.60,140.11)" fill="#1a1a1a" font-style="italic">PKMYT1</text>
<text transform="matrix(1,0,0,1.042,318.20,156.31)" fill="#1a1a1a" font-style="italic">CFAP20</text>
<text transform="matrix(1,0,0,1.042,367.20,167.11)" fill="#1a1a1a" font-style="italic">GNA12</text>
<text transform="matrix(1,0,0,1.042,364.10,185.51)" fill="#1a1a1a" font-style="italic">GNA13</text>
<text transform="matrix(1,0,0,1.042,321.00,199.41)" fill="#1a1a1a" font-style="italic">TIPRL</text>
<text transform="matrix(1,0,0,1.042,369.80,213.91)" fill="#1a1a1a" font-style="italic">RIC8A</text>
<text transform="matrix(1,0,0,1.042,434.30,68.61)" fill="#1a1a1a" font-style="italic">CSA</text>
<text transform="matrix(1,0,0,1.042,462.80,40.11)" fill="#1a1a1a" font-style="italic">CSB</text>
<text transform="matrix(1,0,0,1.042,503.70,44.81)" fill="#1a1a1a" font-style="italic">TTDA</text>
<text transform="matrix(1,0,0,1.042,477.20,95.91)" fill="#1a1a1a" font-style="italic">UVSSA</text>
<text transform="matrix(1,0,0,1.042,497.50,75.31)" fill="#1a1a1a" font-style="italic">USP7</text>
<text transform="matrix(1,0,0,1.042,537.50,43.11)" fill="#1a1a1a" font-style="italic">XPG</text>
<text transform="matrix(1,0,0,1.042,579.30,44.81)" fill="#1a1a1a" font-style="italic">XPA</text>
<text transform="matrix(1,0,0,1.042,565.80,73.71)" fill="#1a1a1a" font-style="italic">ERCC1</text>
<text transform="matrix(1,0,0,1.042,555.30,95.11)" fill="#1a1a1a" font-style="italic">XPF</text>
<text transform="matrix(1,0,0,1.042,460.10,133.01)" fill="#1a1a1a" font-style="italic">RAD1</text>
<text transform="matrix(1,0,0,1.042,427.60,151.01)" fill="#1a1a1a" font-style="italic">RAD9A</text>
<text transform="matrix(1,0,0,1.042,464.70,166.81)" fill="#1a1a1a" font-style="italic">HUS1</text>
<text transform="matrix(1,0,0,1.042,428.50,194.51)" fill="#1a1a1a" font-style="italic">RFWD3</text>
<text transform="matrix(1,0,0,1.042,450.70,213.51)" fill="#1a1a1a" font-style="italic">PIH1D1</text>
<text transform="matrix(1,0,0,1.042,504.30,129.01)" fill="#1a1a1a" font-style="italic">EXO1</text>
<text transform="matrix(1,0,0,1.042,488.20,149.61)" fill="#1a1a1a" font-style="italic">RTEL1</text>
<text transform="matrix(1,0,0,1.042,569.80,131.91)" fill="#1a1a1a" font-style="italic">REV7</text>
<text transform="matrix(1,0,0,1.042,541.10,153.31)" fill="#1a1a1a" font-style="italic">REV3L</text>
<text transform="matrix(1,0,0,1.042,570.00,173.41)" fill="#1a1a1a" font-style="italic">POLK</text>
<text transform="matrix(1,0,0,1.042,509.20,178.31)" fill="#1a1a1a" font-style="italic">APEX2</text>
<text transform="matrix(1,0,0,1.042,512.50,216.61)" fill="#1a1a1a" font-style="italic">XRCC1</text>
<text transform="matrix(1,0,0,1.042,562.10,202.61)" fill="#1a1a1a" font-style="italic">HMCES</text>
<text transform="matrix(1,0,0,1.042,653.20,40.91)" fill="#1a1a1a" font-style="italic">STAG2</text>
<text transform="matrix(1,0,0,1.042,621.30,56.11)" fill="#1a1a1a" font-style="italic">PDS5A</text>
<text transform="matrix(1,0,0,1.042,651.10,70.61)" fill="#1a1a1a" font-style="italic">PDS5B</text>
<text transform="matrix(1,0,0,1.042,625.40,86.71)" fill="#1a1a1a" font-style="italic">DSCC1</text>
<text transform="matrix(1,0,0,1.042,636.30,127.31)" fill="#1a1a1a" font-style="italic">STK19</text>
<text transform="matrix(1,0,0,1.042,652.00,144.41)" fill="#1a1a1a" font-style="italic">DOT1L</text>
<text transform="matrix(1,0,0,1.042,621.80,157.51)" fill="#1a1a1a" font-style="italic">HIRA</text>
<circle cx="629.10" cy="202.30" r="13.80" fill="#c9c9c9" stroke="#8a8a8a" stroke-width="2.2" />
<circle cx="629.10" cy="205.90" r="10.20" fill="#c9c9c9" stroke="#8a8a8a" stroke-width="2.2" />
<circle cx="629.10" cy="209.20" r="6.90" fill="#c9c9c9" stroke="#8a8a8a" stroke-width="2.2" />
<text transform="matrix(1,0,0,1.042,649.70,196.21)">&gt;70</text>
<text transform="matrix(1,0,0,1.042,649.70,205.71)">&gt;55</text>
<text transform="matrix(1,0,0,1.042,649.70,215.51)">&gt;35</text>
<text transform="matrix(1,0,0,1.042,-0.50,258.20)" font-size="9.6" font-weight="bold" stroke="#000" stroke-width="0.3">c</text>
<line x1="100.00" y1="258.20" x2="112.20" y2="258.20" stroke="#ff0000" stroke-width="1.9" />
<circle cx="106.10" cy="258.20" r="2.30" fill="none" stroke="#ff0000" stroke-width="1.0" />
<text transform="matrix(1,0,0,1.042,115.30,261.11)">WT</text>
<line x1="149.50" y1="258.20" x2="161.70" y2="258.20" stroke="#0000ff" stroke-width="1.9" />
<circle cx="155.60" cy="258.20" r="2.30" fill="none" stroke="#0000ff" stroke-width="1.0" />
<text transform="matrix(1,0,0,1.042,164.80,261.11)"><tspan font-style="italic">ELOF1</tspan>-KO</text>
<line x1="230.80" y1="258.20" x2="243.00" y2="258.20" stroke="#0b9a47" stroke-width="1.9" />
<circle cx="236.90" cy="258.20" r="2.30" fill="none" stroke="#0b9a47" stroke-width="1.0" />
<text transform="matrix(1,0,0,1.042,246.10,261.11)"><tspan font-style="italic">CSB</tspan>-KO</text>
<line x1="300.30" y1="258.20" x2="312.50" y2="258.20" stroke="#b000c4" stroke-width="1.9" />
<circle cx="306.40" cy="258.20" r="2.30" fill="none" stroke="#b000c4" stroke-width="1.0" />
<text transform="matrix(1,0,0,1.042,315.60,261.11)"><tspan font-style="italic">PTGR1</tspan>-KO</text>
<line x1="33.70" y1="274.40" x2="33.70" y2="390.10" stroke="#666" stroke-width="0.8" />
<line x1="30.60" y1="390.10" x2="33.70" y2="390.10" stroke="#666" stroke-width="0.8" />
<text transform="matrix(1,0,0,1.042,27.40,393.21)" text-anchor="end">0</text>
<line x1="30.60" y1="370.85" x2="33.70" y2="370.85" stroke="#666" stroke-width="0.8" />
<text transform="matrix(1,0,0,1.042,27.40,373.96)" text-anchor="end">20</text>
<line x1="30.60" y1="351.60" x2="33.70" y2="351.60" stroke="#666" stroke-width="0.8" />
<text transform="matrix(1,0,0,1.042,27.40,354.71)" text-anchor="end">40</text>
<line x1="30.60" y1="332.35" x2="33.70" y2="332.35" stroke="#666" stroke-width="0.8" />
<text transform="matrix(1,0,0,1.042,27.40,335.46)" text-anchor="end">60</text>
<line x1="30.60" y1="313.10" x2="33.70" y2="313.10" stroke="#666" stroke-width="0.8" />
<text transform="matrix(1,0,0,1.042,27.40,316.21)" text-anchor="end">80</text>
<line x1="30.60" y1="293.85" x2="33.70" y2="293.85" stroke="#666" stroke-width="0.8" />
<text transform="matrix(1,0,0,1.042,27.40,296.96)" text-anchor="end">100</text>
<line x1="30.60" y1="274.60" x2="33.70" y2="274.60" stroke="#666" stroke-width="0.8" />
<text transform="matrix(1,0,0,1.042,27.40,277.71)" text-anchor="end">120</text>
<line x1="38.70" y1="390.10" x2="207.58" y2="390.10" stroke="#666" stroke-width="0.8" />
<line x1="33.70" y1="390.10" x2="33.70" y2="393.20" stroke="#666" stroke-width="0.8" />
<line x1="51.14" y1="390.10" x2="51.14" y2="393.00" stroke="#666" stroke-width="0.8" />
<line x1="68.47" y1="390.10" x2="68.47" y2="393.00" stroke="#666" stroke-width="0.8" />
<line x1="85.81" y1="390.10" x2="85.81" y2="393.00" stroke="#666" stroke-width="0.8" />
<line x1="103.15" y1="390.10" x2="103.15" y2="393.00" stroke="#666" stroke-width="0.8" />
<line x1="120.49" y1="390.10" x2="120.49" y2="393.00" stroke="#666" stroke-width="0.8" />
<line x1="137.82" y1="390.10" x2="137.82" y2="393.00" stroke="#666" stroke-width="0.8" />
<line x1="155.16" y1="390.10" x2="155.16" y2="393.00" stroke="#666" stroke-width="0.8" />
<line x1="172.50" y1="390.10" x2="172.50" y2="393.00" stroke="#666" stroke-width="0.8" />
<line x1="189.84" y1="390.10" x2="189.84" y2="393.00" stroke="#666" stroke-width="0.8" />
<line x1="207.18" y1="390.10" x2="207.18" y2="393.00" stroke="#666" stroke-width="0.8" />
<text transform="matrix(1,0,0,1.042,33.70,404.41)" text-anchor="middle">UT</text>
<text transform="matrix(1,0,0,1.042,68.47,404.41)" text-anchor="middle">0.5</text>
<text transform="matrix(1,0,0,1.042,103.15,404.41)" text-anchor="middle">1.0</text>
<text transform="matrix(1,0,0,1.042,137.82,404.41)" text-anchor="middle">1.5</text>
<text transform="matrix(1,0,0,1.042,172.50,404.41)" text-anchor="middle">2.0</text>
<text transform="matrix(1,0,0,1.042,207.18,404.41)" text-anchor="middle">2.5</text>
<text transform="matrix(1,0,0,1.042,117.80,417.11)" text-anchor="middle">Illudin S (log<tspan font-size="6" dy="2">10</tspan><tspan dy="-2"> nM)</tspan></text>
<text transform="translate(6.9,332.6) rotate(-90)" text-anchor="middle">Relative viability (%)</text>
<polyline points="51.14,294.91 51.83,294.92 52.52,294.92 53.22,294.93 53.91,294.93 54.60,294.94 55.30,294.94 55.99,294.95 56.69,294.96 57.38,294.97 58.07,294.97 58.77,294.98 59.46,294.99 60.15,295.00 60.85,295.01 61.54,295.02 62.23,295.03 62.93,295.04 63.62,295.05 64.31,295.06 65.01,295.08 65.70,295.09 66.39,295.10 67.09,295.12 67.78,295.13 68.47,295.15 69.17,295.17 69.86,295.19 70.56,295.20 71.25,295.22 71.94,295.24 72.64,295.27 73.33,295.29 74.02,295.31 74.72,295.34 75.41,295.37 76.10,295.39 76.80,295.42 77.49,295.45 78.18,295.49 78.88,295.52 79.57,295.55 80.26,295.59 80.96,295.63 81.65,295.67 82.34,295.72 83.04,295.76 83.73,295.81 84.43,295.86 85.12,295.91 85.81,295.97 86.51,296.02 87.20,296.09 87.89,296.15 88.59,296.22 89.28,296.29 89.97,296.36 90.67,296.44 91.36,296.52 92.05,296.60 92.75,296.69 93.44,296.78 94.13,296.88 94.83,296.98 95.52,297.09 96.22,297.21 96.91,297.32 97.60,297.45 98.30,297.58 98.99,297.71 99.68,297.86 100.38,298.00 101.07,298.16 101.76,298.32 102.46,298.50 103.15,298.68 103.84,298.86 104.54,299.06 105.23,299.26 105.92,299.48 106.62,299.70 107.31,299.94 108.00,300.18 108.70,300.44 109.39,300.71 110.08,300.99 110.78,301.28 111.47,301.58 112.17,301.90 112.86,302.23 113.55,302.58 114.25,302.94 114.94,303.32 115.63,303.71 116.33,304.11 117.02,304.54 117.71,304.98 118.41,305.43 119.10,305.91 119.79,306.40 120.49,306.92 121.18,307.45 121.87,308.00 122.57,308.57 123.26,309.16 123.95,309.78 124.65,310.41 125.34,311.07 126.04,311.74 126.73,312.44 127.42,313.16 128.12,313.90 128.81,314.67 129.50,315.46 130.20,316.27 130.89,317.10 131.58,317.95 132.28,318.83 132.97,319.72 133.66,320.64 134.36,321.58 135.05,322.54 135.74,323.52 136.44,324.52 137.13,325.53 137.82,326.57 138.52,327.62 139.21,328.69 139.91,329.77 140.60,330.86 141.29,331.97 141.99,333.09 142.68,334.22 143.37,335.36 144.07,336.51 144.76,337.67 145.45,338.83 146.15,339.99 146.84,341.16 147.53,342.33 148.23,343.49 148.92,344.66 149.61,345.82 150.31,346.98 151.00,348.13 151.69,349.27 152.39,350.41 153.08,351.53 153.78,352.64 154.47,353.75 155.16,354.83 155.86,355.91 156.55,356.96 157.24,358.00 157.94,359.03 158.63,360.03 159.32,361.02 160.02,361.99 160.71,362.94 161.40,363.86 162.10,364.77 162.79,365.65 163.48,366.51 164.18,367.35 164.87,368.17 165.56,368.97 166.26,369.74 166.95,370.49 167.65,371.22 168.34,371.93 169.03,372.62 169.73,373.28 170.42,373.92 171.11,374.54 171.81,375.14 172.50,375.72 173.19,376.28 173.89,376.82 174.58,377.34 175.27,377.84 175.97,378.33 176.66,378.79 177.35,379.24 178.05,379.67 178.74,380.08 179.44,380.48 180.13,380.86 180.82,381.23 181.52,381.58 182.21,381.92 182.90,382.24 183.60,382.55 184.29,382.85 184.98,383.13 185.68,383.40 186.37,383.66 187.06,383.91 187.76,384.15 188.45,384.38 189.14,384.60 189.84,384.81 190.53,385.01 191.22,385.20 191.92,385.38 192.61,385.56 193.30,385.72 194.00,385.88 194.69,386.04 195.39,386.18 196.08,386.32 196.77,386.45 197.47,386.58 198.16,386.70 198.85,386.81 199.55,386.92 200.24,387.03 200.93,387.13 201.63,387.22 202.32,387.31 203.01,387.40 203.71,387.48 204.40,387.56 205.09,387.64 205.79,387.71 206.48,387.77 207.18,387.84" fill="none" stroke="#b000c4" stroke-width="1.9" stroke-linejoin="round"/>
<polyline points="51.14,300.12 51.83,300.12 52.52,300.12 53.22,300.12 53.91,300.12 54.60,300.12 55.30,300.13 55.99,300.13 56.69,300.13 57.38,300.13 58.07,300.14 58.77,300.14 59.46,300.14 60.15,300.14 60.85,300.15 61.54,300.15 62.23,300.16 62.93,300.16 63.62,300.17 64.31,300.18 65.01,300.18 65.70,300.19 66.39,300.20 67.09,300.21 67.78,300.22 68.47,300.23 69.17,300.24 69.86,300.26 70.56,300.27 71.25,300.29 71.94,300.31 72.64,300.33 73.33,300.35 74.02,300.37 74.72,300.40 75.41,300.43 76.10,300.46 76.80,300.50 77.49,300.54 78.18,300.58 78.88,300.63 79.57,300.68 80.26,300.74 80.96,300.80 81.65,300.87 82.34,300.95 83.04,301.04 83.73,301.13 84.43,301.23 85.12,301.35 85.81,301.47 86.51,301.61 87.20,301.75 87.89,301.92 88.59,302.10 89.28,302.30 89.97,302.51 90.67,302.75 91.36,303.01 92.05,303.29 92.75,303.60 93.44,303.94 94.13,304.31 94.83,304.72 95.52,305.16 96.22,305.64 96.91,306.17 97.60,306.73 98.30,307.35 98.99,308.02 99.68,308.75 100.38,309.53 101.07,310.38 101.76,311.29 102.46,312.27 103.15,313.32 103.84,314.44 104.54,315.64 105.23,316.92 105.92,318.28 106.62,319.72 107.31,321.23 108.00,322.83 108.70,324.50 109.39,326.24 110.08,328.06 110.78,329.94 111.47,331.88 112.17,333.88 112.86,335.92 113.55,338.00 114.25,340.11 114.94,342.24 115.63,344.38 116.33,346.52 117.02,348.65 117.71,350.76 118.41,352.84 119.10,354.88 119.79,356.88 120.49,358.82 121.18,360.70 121.87,362.52 122.57,364.26 123.26,365.94 123.95,367.53 124.65,369.05 125.34,370.48 126.04,371.84 126.73,373.12 127.42,374.32 128.12,375.44 128.81,376.49 129.50,377.47 130.20,378.38 130.89,379.23 131.58,380.01 132.28,380.74 132.97,381.41 133.66,382.03 134.36,382.60 135.05,383.12 135.74,383.60 136.44,384.04 137.13,384.45 137.82,384.82 138.52,385.16 139.21,385.47 139.91,385.75 140.60,386.01 141.29,386.25 141.99,386.47 142.68,386.66 143.37,386.84 144.07,387.01 144.76,387.16 145.45,387.29 146.15,387.42 146.84,387.53 147.53,387.63 148.23,387.73 148.92,387.81 149.61,387.89 150.31,387.96 151.00,388.02 151.69,388.08 152.39,388.13 153.08,388.18 153.78,388.22 154.47,388.26 155.16,388.30 155.86,388.33 156.55,388.36 157.24,388.39 157.94,388.41 158.63,388.44 159.32,388.46 160.02,388.47 160.71,388.49 161.40,388.51 162.10,388.52 162.79,388.53 163.48,388.54 164.18,388.55 164.87,388.56 165.56,388.57 166.26,388.58 166.95,388.59 167.65,388.59 168.34,388.60 169.03,388.60 169.73,388.61 170.42,388.61 171.11,388.62 171.81,388.62 172.50,388.62 173.19,388.63 173.89,388.63 174.58,388.63 175.27,388.63 175.97,388.64 176.66,388.64 177.35,388.64 178.05,388.64 178.74,388.64 179.44,388.64 180.13,388.65 180.82,388.65 181.52,388.65 182.21,388.65 182.90,388.65 183.60,388.65 184.29,388.65 184.98,388.65 185.68,388.65 186.37,388.65 187.06,388.65 187.76,388.65 188.45,388.65 189.14,388.65 189.84,388.65 190.53,388.65 191.22,388.65 191.92,388.65 192.61,388.65 193.30,388.65 194.00,388.65 194.69,388.65 195.39,388.65 196.08,388.66 196.77,388.66 197.47,388.66 198.16,388.66 198.85,388.66 199.55,388.66 200.24,388.66 200.93,388.66 201.63,388.66 202.32,388.66 203.01,388.66 203.71,388.66 204.40,388.66 205.09,388.66 205.79,388.66 206.48,388.66 207.18,388.66" fill="none" stroke="#ff0000" stroke-width="1.9" stroke-linejoin="round"/>
<polyline points="51.14,360.21 51.83,362.34 52.52,364.34 53.22,366.23 53.91,368.01 54.60,369.66 55.30,371.20 55.99,372.63 56.69,373.94 57.38,375.15 58.07,376.26 58.77,377.27 59.46,378.20 60.15,379.04 60.85,379.81 61.54,380.50 62.23,381.13 62.93,381.70 63.62,382.21 64.31,382.67 65.01,383.08 65.70,383.46 66.39,383.79 67.09,384.09 67.78,384.36 68.47,384.60 69.17,384.82 69.86,385.01 70.56,385.19 71.25,385.34 71.94,385.48 72.64,385.61 73.33,385.72 74.02,385.82 74.72,385.90 75.41,385.98 76.10,386.05 76.80,386.12 77.49,386.17 78.18,386.22 78.88,386.27 79.57,386.31 80.26,386.34 80.96,386.37 81.65,386.40 82.34,386.43 83.04,386.45 83.73,386.47 84.43,386.49 85.12,386.50 85.81,386.52 86.51,386.53 87.20,386.54 87.89,386.55 88.59,386.56 89.28,386.57 89.97,386.58 90.67,386.58 91.36,386.59 92.05,386.59 92.75,386.60 93.44,386.60 94.13,386.61 94.83,386.61 95.52,386.61 96.22,386.61 96.91,386.62 97.60,386.62 98.30,386.62 98.99,386.62 99.68,386.62 100.38,386.62 101.07,386.63 101.76,386.63 102.46,386.63 103.15,386.63 103.84,386.63 104.54,386.63 105.23,386.63 105.92,386.63 106.62,386.63 107.31,386.63 108.00,386.63 108.70,386.63 109.39,386.63 110.08,386.63 110.78,386.63 111.47,386.63 112.17,386.63 112.86,386.63 113.55,386.63 114.25,386.63 114.94,386.63 115.63,386.63 116.33,386.63 117.02,386.63 117.71,386.63 118.41,386.63 119.10,386.63 119.79,386.63 120.49,386.63 121.18,386.63 121.87,386.63 122.57,386.63 123.26,386.63 123.95,386.63 124.65,386.63 125.34,386.63 126.04,386.63 126.73,386.63 127.42,386.63 128.12,386.63 128.81,386.63 129.50,386.63 130.20,386.63 130.89,386.63 131.58,386.63 132.28,386.63 132.97,386.63 133.66,386.63 134.36,386.63 135.05,386.63 135.74,386.63 136.44,386.63 137.13,386.63 137.82,386.63 138.52,386.63 139.21,386.63 139.91,386.63 140.60,386.63 141.29,386.63 141.99,386.63 142.68,386.63 143.37,386.63 144.07,386.63 144.76,386.63 145.45,386.63 146.15,386.63 146.84,386.63 147.53,386.63 148.23,386.63 148.92,386.63 149.61,386.63 150.31,386.63 151.00,386.63 151.69,386.63 152.39,386.63 153.08,386.63 153.78,386.63 154.47,386.63 155.16,386.63 155.86,386.63 156.55,386.63 157.24,386.63 157.94,386.63 158.63,386.63 159.32,386.63 160.02,386.63 160.71,386.63 161.40,386.63 162.10,386.63 162.79,386.63 163.48,386.63 164.18,386.63 164.87,386.63 165.56,386.63 166.26,386.63 166.95,386.63 167.65,386.63 168.34,386.63 169.03,386.63 169.73,386.63 170.42,386.63 171.11,386.63 171.81,386.63 172.50,386.63 173.19,386.63 173.89,386.63 174.58,386.63 175.27,386.63 175.97,386.63 176.66,386.63 177.35,386.63 178.05,386.63 178.74,386.63 179.44,386.63 180.13,386.63 180.82,386.63 181.52,386.63 182.21,386.63 182.90,386.63 183.60,386.63 184.29,386.63 184.98,386.63 185.68,386.63 186.37,386.63 187.06,386.63 187.76,386.63 188.45,386.63 189.14,386.63 189.84,386.63 190.53,386.63 191.22,386.63 191.92,386.63 192.61,386.63 193.30,386.63 194.00,386.63 194.69,386.63 195.39,386.63 196.08,386.63 196.77,386.63 197.47,386.63 198.16,386.63 198.85,386.63 199.55,386.63 200.24,386.63 200.93,386.63 201.63,386.63 202.32,386.63 203.01,386.63 203.71,386.63 204.40,386.63 205.09,386.63 205.79,386.63 206.48,386.63 207.18,386.63" fill="none" stroke="#0b9a47" stroke-width="1.9" stroke-linejoin="round"/>
<polyline points="51.14,330.42 51.83,332.50 52.52,334.62 53.22,336.77 53.91,338.93 54.60,341.11 55.30,343.28 55.99,345.45 56.69,347.60 57.38,349.72 58.07,351.80 58.77,353.84 59.46,355.84 60.15,357.77 60.85,359.65 61.54,361.45 62.23,363.19 62.93,364.86 63.62,366.44 64.31,367.96 65.01,369.39 65.70,370.75 66.39,372.03 67.09,373.24 67.78,374.37 68.47,375.44 69.17,376.43 69.86,377.36 70.56,378.22 71.25,379.03 71.94,379.78 72.64,380.47 73.33,381.11 74.02,381.70 74.72,382.25 75.41,382.76 76.10,383.22 76.80,383.65 77.49,384.05 78.18,384.41 78.88,384.75 79.57,385.06 80.26,385.34 80.96,385.60 81.65,385.83 82.34,386.05 83.04,386.25 83.73,386.43 84.43,386.60 85.12,386.75 85.81,386.89 86.51,387.02 87.20,387.14 87.89,387.24 88.59,387.34 89.28,387.43 89.97,387.51 90.67,387.59 91.36,387.66 92.05,387.72 92.75,387.77 93.44,387.83 94.13,387.87 94.83,387.92 95.52,387.96 96.22,387.99 96.91,388.03 97.60,388.06 98.30,388.08 98.99,388.11 99.68,388.13 100.38,388.15 101.07,388.17 101.76,388.19 102.46,388.20 103.15,388.22 103.84,388.23 104.54,388.24 105.23,388.25 105.92,388.26 106.62,388.27 107.31,388.28 108.00,388.29 108.70,388.30 109.39,388.30 110.08,388.31 110.78,388.31 111.47,388.32 112.17,388.32 112.86,388.33 113.55,388.33 114.25,388.33 114.94,388.34 115.63,388.34 116.33,388.34 117.02,388.34 117.71,388.35 118.41,388.35 119.10,388.35 119.79,388.35 120.49,388.35 121.18,388.35 121.87,388.36 122.57,388.36 123.26,388.36 123.95,388.36 124.65,388.36 125.34,388.36 126.04,388.36 126.73,388.36 127.42,388.36 128.12,388.36 128.81,388.36 129.50,388.36 130.20,388.36 130.89,388.36 131.58,388.36 132.28,388.36 132.97,388.36 133.66,388.36 134.36,388.37 135.05,388.37 135.74,388.37 136.44,388.37 137.13,388.37 137.82,388.37 138.52,388.37 139.21,388.37 139.91,388.37 140.60,388.37 141.29,388.37 141.99,388.37 142.68,388.37 143.37,388.37 144.07,388.37 144.76,388.37 145.45,388.37 146.15,388.37 146.84,388.37 147.53,388.37 148.23,388.37 148.92,388.37 149.61,388.37 150.31,388.37 151.00,388.37 151.69,388.37 152.39,388.37 153.08,388.37 153.78,388.37 154.47,388.37 155.16,388.37 155.86,388.37 156.55,388.37 157.24,388.37 157.94,388.37 158.63,388.37 159.32,388.37 160.02,388.37 160.71,388.37 161.40,388.37 162.10,388.37 162.79,388.37 163.48,388.37 164.18,388.37 164.87,388.37 165.56,388.37 166.26,388.37 166.95,388.37 167.65,388.37 168.34,388.37 169.03,388.37 169.73,388.37 170.42,388.37 171.11,388.37 171.81,388.37 172.50,388.37 173.19,388.37 173.89,388.37 174.58,388.37 175.27,388.37 175.97,388.37 176.66,388.37 177.35,388.37 178.05,388.37 178.74,388.37 179.44,388.37 180.13,388.37 180.82,388.37 181.52,388.37 182.21,388.37 182.90,388.37 183.60,388.37 184.29,388.37 184.98,388.37 185.68,388.37 186.37,388.37 187.06,388.37 187.76,388.37 188.45,388.37 189.14,388.37 189.84,388.37 190.53,388.37 191.22,388.37 191.92,388.37 192.61,388.37 193.30,388.37 194.00,388.37 194.69,388.37 195.39,388.37 196.08,388.37 196.77,388.37 197.47,388.37 198.16,388.37 198.85,388.37 199.55,388.37 200.24,388.37 200.93,388.37 201.63,388.37 202.32,388.37 203.01,388.37 203.71,388.37 204.40,388.37 205.09,388.37 205.79,388.37 206.48,388.37 207.18,388.37" fill="none" stroke="#0000ff" stroke-width="1.9" stroke-linejoin="round"/>
<circle cx="51.14" cy="358.34" r="2.10" fill="none" stroke="#0b9a47" stroke-width="0.85" />
<circle cx="51.14" cy="361.23" r="2.10" fill="none" stroke="#0b9a47" stroke-width="0.85" />
<circle cx="68.47" cy="383.36" r="2.10" fill="none" stroke="#0b9a47" stroke-width="0.85" />
<circle cx="68.47" cy="384.33" r="2.10" fill="none" stroke="#0b9a47" stroke-width="0.85" />
<circle cx="85.81" cy="388.66" r="2.10" fill="none" stroke="#0b9a47" stroke-width="0.85" />
<circle cx="103.15" cy="386.73" r="2.10" fill="none" stroke="#0b9a47" stroke-width="0.85" />
<circle cx="120.49" cy="383.84" r="2.10" fill="none" stroke="#0b9a47" stroke-width="0.85" />
<circle cx="120.49" cy="385.29" r="2.10" fill="none" stroke="#0b9a47" stroke-width="0.85" />
<circle cx="137.82" cy="383.84" r="2.10" fill="none" stroke="#0b9a47" stroke-width="0.85" />
<circle cx="155.16" cy="384.81" r="2.10" fill="none" stroke="#0b9a47" stroke-width="0.85" />
<circle cx="172.50" cy="387.21" r="2.10" fill="none" stroke="#0b9a47" stroke-width="0.85" />
<circle cx="207.18" cy="387.21" r="2.10" fill="none" stroke="#0b9a47" stroke-width="0.85" />
<circle cx="51.14" cy="328.50" r="2.10" fill="none" stroke="#0000ff" stroke-width="0.85" />
<circle cx="51.14" cy="330.43" r="2.10" fill="none" stroke="#0000ff" stroke-width="0.85" />
<circle cx="68.47" cy="375.18" r="2.10" fill="none" stroke="#0000ff" stroke-width="0.85" />
<circle cx="68.47" cy="376.14" r="2.10" fill="none" stroke="#0000ff" stroke-width="0.85" />
<circle cx="85.81" cy="389.62" r="2.10" fill="none" stroke="#0000ff" stroke-width="0.85" />
<circle cx="85.81" cy="390.58" r="2.10" fill="none" stroke="#0000ff" stroke-width="0.85" />
<circle cx="103.15" cy="389.62" r="2.10" fill="none" stroke="#0000ff" stroke-width="0.85" />
<circle cx="103.15" cy="390.58" r="2.10" fill="none" stroke="#0000ff" stroke-width="0.85" />
<circle cx="120.49" cy="389.62" r="2.10" fill="none" stroke="#0000ff" stroke-width="0.85" />
<circle cx="137.82" cy="389.14" r="2.10" fill="none" stroke="#0000ff" stroke-width="0.85" />
<circle cx="207.18" cy="389.62" r="2.10" fill="none" stroke="#0000ff" stroke-width="0.85" />
<circle cx="51.14" cy="292.89" r="2.10" fill="none" stroke="#b000c4" stroke-width="0.85" />
<circle cx="68.47" cy="291.93" r="2.10" fill="none" stroke="#b000c4" stroke-width="0.85" />
<circle cx="68.47" cy="293.85" r="2.10" fill="none" stroke="#b000c4" stroke-width="0.85" />
<circle cx="85.81" cy="300.59" r="2.10" fill="none" stroke="#b000c4" stroke-width="0.85" />
<circle cx="103.15" cy="304.44" r="2.10" fill="none" stroke="#b000c4" stroke-width="0.85" />
<circle cx="103.15" cy="308.29" r="2.10" fill="none" stroke="#b000c4" stroke-width="0.85" />
<circle cx="120.49" cy="308.29" r="2.10" fill="none" stroke="#b000c4" stroke-width="0.85" />
<circle cx="120.49" cy="311.18" r="2.10" fill="none" stroke="#b000c4" stroke-width="0.85" />
<circle cx="137.82" cy="324.65" r="2.10" fill="none" stroke="#b000c4" stroke-width="0.85" />
<circle cx="137.82" cy="327.54" r="2.10" fill="none" stroke="#b000c4" stroke-width="0.85" />
<circle cx="155.16" cy="354.49" r="2.10" fill="none" stroke="#b000c4" stroke-width="0.85" />
<circle cx="155.16" cy="356.41" r="2.10" fill="none" stroke="#b000c4" stroke-width="0.85" />
<circle cx="172.50" cy="373.74" r="2.10" fill="none" stroke="#b000c4" stroke-width="0.85" />
<circle cx="172.50" cy="377.59" r="2.10" fill="none" stroke="#b000c4" stroke-width="0.85" />
<circle cx="207.18" cy="386.73" r="2.10" fill="none" stroke="#b000c4" stroke-width="0.85" />
<circle cx="51.14" cy="298.66" r="2.10" fill="none" stroke="#ff0000" stroke-width="0.85" />
<circle cx="51.14" cy="300.59" r="2.10" fill="none" stroke="#ff0000" stroke-width="0.85" />
<circle cx="51.14" cy="301.55" r="2.10" fill="none" stroke="#ff0000" stroke-width="0.85" />
<circle cx="68.47" cy="296.74" r="2.10" fill="none" stroke="#ff0000" stroke-width="0.85" />
<circle cx="68.47" cy="307.33" r="2.10" fill="none" stroke="#ff0000" stroke-width="0.85" />
<circle cx="85.81" cy="307.33" r="2.10" fill="none" stroke="#ff0000" stroke-width="0.85" />
<circle cx="85.81" cy="310.21" r="2.10" fill="none" stroke="#ff0000" stroke-width="0.85" />
<circle cx="103.15" cy="314.06" r="2.10" fill="none" stroke="#ff0000" stroke-width="0.85" />
<circle cx="103.15" cy="316.95" r="2.10" fill="none" stroke="#ff0000" stroke-width="0.85" />
<circle cx="120.49" cy="356.41" r="2.10" fill="none" stroke="#ff0000" stroke-width="0.85" />
<circle cx="120.49" cy="362.19" r="2.10" fill="none" stroke="#ff0000" stroke-width="0.85" />
<circle cx="137.82" cy="388.66" r="2.10" fill="none" stroke="#ff0000" stroke-width="0.85" />
<circle cx="155.16" cy="389.14" r="2.10" fill="none" stroke="#ff0000" stroke-width="0.85" />
<circle cx="172.50" cy="389.14" r="2.10" fill="none" stroke="#ff0000" stroke-width="0.85" />
<circle cx="189.84" cy="389.14" r="2.10" fill="none" stroke="#ff0000" stroke-width="0.85" />
<circle cx="207.18" cy="389.14" r="2.10" fill="none" stroke="#ff0000" stroke-width="0.85" />
<circle cx="33.70" cy="293.85" r="2.10" fill="none" stroke="#ff0000" stroke-width="0.85" />
<line x1="249.40" y1="274.40" x2="249.40" y2="390.10" stroke="#666" stroke-width="0.8" />
<line x1="246.30" y1="390.10" x2="249.40" y2="390.10" stroke="#666" stroke-width="0.8" />
<line x1="246.30" y1="370.85" x2="249.40" y2="370.85" stroke="#666" stroke-width="0.8" />
<line x1="246.30" y1="351.60" x2="249.40" y2="351.60" stroke="#666" stroke-width="0.8" />
<line x1="246.30" y1="332.35" x2="249.40" y2="332.35" stroke="#666" stroke-width="0.8" />
<line x1="246.30" y1="313.10" x2="249.40" y2="313.10" stroke="#666" stroke-width="0.8" />
<line x1="246.30" y1="293.85" x2="249.40" y2="293.85" stroke="#666" stroke-width="0.8" />
<line x1="246.30" y1="274.60" x2="249.40" y2="274.60" stroke="#666" stroke-width="0.8" />
<line x1="255.20" y1="390.10" x2="421.95" y2="390.10" stroke="#666" stroke-width="0.8" />
<line x1="249.40" y1="390.10" x2="249.40" y2="393.20" stroke="#666" stroke-width="0.8" />
<line x1="267.30" y1="390.10" x2="267.30" y2="393.00" stroke="#666" stroke-width="0.8" />
<line x1="284.45" y1="390.10" x2="284.45" y2="393.00" stroke="#666" stroke-width="0.8" />
<line x1="301.60" y1="390.10" x2="301.60" y2="393.00" stroke="#666" stroke-width="0.8" />
<line x1="318.75" y1="390.10" x2="318.75" y2="393.00" stroke="#666" stroke-width="0.8" />
<line x1="335.90" y1="390.10" x2="335.90" y2="393.00" stroke="#666" stroke-width="0.8" />
<line x1="353.05" y1="390.10" x2="353.05" y2="393.00" stroke="#666" stroke-width="0.8" />
<line x1="370.20" y1="390.10" x2="370.20" y2="393.00" stroke="#666" stroke-width="0.8" />
<line x1="387.35" y1="390.10" x2="387.35" y2="393.00" stroke="#666" stroke-width="0.8" />
<line x1="404.50" y1="390.10" x2="404.50" y2="393.00" stroke="#666" stroke-width="0.8" />
<line x1="421.65" y1="390.10" x2="421.65" y2="393.00" stroke="#666" stroke-width="0.8" />
<text transform="matrix(1,0,0,1.042,249.60,404.11)" text-anchor="middle">UT</text>
<text transform="matrix(1,0,0,1.042,267.30,404.11)" text-anchor="middle">1.5</text>
<text transform="matrix(1,0,0,1.042,301.60,404.11)" text-anchor="middle">2.0</text>
<text transform="matrix(1,0,0,1.042,335.90,404.11)" text-anchor="middle">2.5</text>
<text transform="matrix(1,0,0,1.042,370.20,404.11)" text-anchor="middle">3.0</text>
<text transform="matrix(1,0,0,1.042,404.50,404.11)" text-anchor="middle">3.5</text>
<text transform="matrix(1,0,0,1.042,333.30,416.01)" text-anchor="middle">Irofulven (log<tspan font-size="6" dy="2">10</tspan><tspan dy="-2"> nM)</tspan></text>
<text transform="translate(221.9,332.6) rotate(-90)" text-anchor="middle">Relative viability (%)</text>
<text transform="matrix(1,0,0,1.042,243.20,393.21)" text-anchor="end">0</text>
<text transform="matrix(1,0,0,1.042,243.20,373.96)" text-anchor="end">20</text>
<text transform="matrix(1,0,0,1.042,243.20,354.71)" text-anchor="end">40</text>
<text transform="matrix(1,0,0,1.042,243.20,335.46)" text-anchor="end">60</text>
<text transform="matrix(1,0,0,1.042,243.20,316.21)" text-anchor="end">80</text>
<text transform="matrix(1,0,0,1.042,243.20,296.96)" text-anchor="end">100</text>
<text transform="matrix(1,0,0,1.042,243.20,277.71)" text-anchor="end">120</text>
<polyline points="267.30,314.50 267.99,314.60 268.67,314.71 269.36,314.83 270.04,314.96 270.73,315.09 271.42,315.23 272.10,315.39 272.79,315.55 273.47,315.73 274.16,315.92 274.85,316.12 275.53,316.33 276.22,316.56 276.90,316.81 277.59,317.07 278.28,317.34 278.96,317.64 279.65,317.96 280.33,318.29 281.02,318.65 281.71,319.03 282.39,319.43 283.08,319.86 283.76,320.31 284.45,320.79 285.14,321.29 285.82,321.83 286.51,322.39 287.19,322.99 287.88,323.62 288.57,324.28 289.25,324.97 289.94,325.70 290.62,326.46 291.31,327.26 292.00,328.09 292.68,328.96 293.37,329.86 294.05,330.80 294.74,331.78 295.43,332.78 296.11,333.82 296.80,334.89 297.48,335.99 298.17,337.12 298.86,338.28 299.54,339.46 300.23,340.67 300.91,341.89 301.60,343.13 302.29,344.38 302.97,345.65 303.66,346.92 304.34,348.20 305.03,349.48 305.72,350.76 306.40,352.03 307.09,353.29 307.77,354.54 308.46,355.78 309.15,357.00 309.83,358.20 310.52,359.38 311.20,360.53 311.89,361.65 312.58,362.75 313.26,363.81 313.95,364.85 314.63,365.85 315.32,366.81 316.01,367.74 316.69,368.64 317.38,369.50 318.06,370.33 318.75,371.12 319.44,371.87 320.12,372.59 320.81,373.28 321.49,373.93 322.18,374.56 322.87,375.15 323.55,375.71 324.24,376.23 324.92,376.74 325.61,377.21 326.30,377.66 326.98,378.08 327.67,378.48 328.35,378.85 329.04,379.20 329.73,379.53 330.41,379.84 331.10,380.14 331.78,380.41 332.47,380.67 333.16,380.91 333.84,381.14 334.53,381.35 335.21,381.55 335.90,381.73 336.59,381.91 337.27,382.07 337.96,382.22 338.64,382.36 339.33,382.49 340.02,382.62 340.70,382.73 341.39,382.84 342.07,382.94 342.76,383.04 343.45,383.12 344.13,383.21 344.82,383.28 345.50,383.35 346.19,383.42 346.88,383.48 347.56,383.54 348.25,383.59 348.93,383.64 349.62,383.69 350.31,383.73 350.99,383.78 351.68,383.81 352.36,383.85 353.05,383.88 353.74,383.91 354.42,383.94 355.11,383.97 355.79,383.99 356.48,384.01 357.17,384.04 357.85,384.06 358.54,384.07 359.22,384.09 359.91,384.11 360.60,384.12 361.28,384.14 361.97,384.15 362.65,384.16 363.34,384.17 364.03,384.18 364.71,384.19 365.40,384.20 366.08,384.21 366.77,384.22 367.46,384.23 368.14,384.23 368.83,384.24 369.51,384.25 370.20,384.25 370.89,384.26 371.57,384.26 372.26,384.27 372.94,384.27 373.63,384.27 374.32,384.28 375.00,384.28 375.69,384.28 376.37,384.29 377.06,384.29 377.75,384.29 378.43,384.29 379.12,384.30 379.80,384.30 380.49,384.30 381.18,384.30 381.86,384.30 382.55,384.30 383.23,384.31 383.92,384.31 384.61,384.31 385.29,384.31 385.98,384.31 386.66,384.31 387.35,384.31 388.04,384.31 388.72,384.31 389.41,384.32 390.09,384.32 390.78,384.32 391.47,384.32 392.15,384.32 392.84,384.32 393.52,384.32 394.21,384.32 394.90,384.32 395.58,384.32 396.27,384.32 396.95,384.32 397.64,384.32 398.33,384.32 399.01,384.32 399.70,384.32 400.38,384.32 401.07,384.32 401.76,384.32 402.44,384.32 403.13,384.32 403.81,384.32 404.50,384.32 405.19,384.32 405.87,384.32 406.56,384.32 407.24,384.32 407.93,384.32 408.62,384.32 409.30,384.32 409.99,384.32 410.67,384.32 411.36,384.32 412.05,384.32 412.73,384.32 413.42,384.32 414.10,384.32 414.79,384.32 415.48,384.32 416.16,384.32 416.85,384.32 417.53,384.32 418.22,384.32 418.91,384.32 419.59,384.32 420.28,384.32 420.96,384.32 421.65,384.32" fill="none" stroke="#0b9a47" stroke-width="1.9" stroke-linejoin="round"/>
<polyline points="267.30,299.24 267.99,299.32 268.67,299.39 269.36,299.47 270.04,299.55 270.73,299.63 271.42,299.72 272.10,299.81 272.79,299.91 273.47,300.01 274.16,300.11 274.85,300.22 275.53,300.34 276.22,300.46 276.90,300.58 277.59,300.71 278.28,300.85 278.96,300.99 279.65,301.13 280.33,301.29 281.02,301.45 281.71,301.62 282.39,301.79 283.08,301.97 283.76,302.16 284.45,302.36 285.14,302.57 285.82,302.78 286.51,303.00 287.19,303.23 287.88,303.48 288.57,303.73 289.25,303.99 289.94,304.26 290.62,304.54 291.31,304.84 292.00,305.14 292.68,305.46 293.37,305.79 294.05,306.13 294.74,306.49 295.43,306.86 296.11,307.24 296.80,307.64 297.48,308.05 298.17,308.47 298.86,308.91 299.54,309.37 300.23,309.84 300.91,310.33 301.60,310.83 302.29,311.35 302.97,311.89 303.66,312.44 304.34,313.01 305.03,313.60 305.72,314.21 306.40,314.83 307.09,315.47 307.77,316.13 308.46,316.81 309.15,317.51 309.83,318.22 310.52,318.95 311.20,319.70 311.89,320.47 312.58,321.26 313.26,322.06 313.95,322.88 314.63,323.72 315.32,324.57 316.01,325.44 316.69,326.32 317.38,327.22 318.06,328.14 318.75,329.06 319.44,330.01 320.12,330.96 320.81,331.92 321.49,332.90 322.18,333.88 322.87,334.88 323.55,335.88 324.24,336.89 324.92,337.91 325.61,338.93 326.30,339.95 326.98,340.98 327.67,342.01 328.35,343.04 329.04,344.07 329.73,345.10 330.41,346.13 331.10,347.15 331.78,348.17 332.47,349.19 333.16,350.20 333.84,351.20 334.53,352.19 335.21,353.17 335.90,354.15 336.59,355.11 337.27,356.06 337.96,357.00 338.64,357.92 339.33,358.83 340.02,359.73 340.70,360.61 341.39,361.48 342.07,362.33 342.76,363.16 343.45,363.98 344.13,364.78 344.82,365.56 345.50,366.32 346.19,367.07 346.88,367.80 347.56,368.51 348.25,369.20 348.93,369.88 349.62,370.53 350.31,371.17 350.99,371.79 351.68,372.39 352.36,372.98 353.05,373.55 353.74,374.10 354.42,374.63 355.11,375.15 355.79,375.65 356.48,376.13 357.17,376.60 357.85,377.05 358.54,377.49 359.22,377.91 359.91,378.32 360.60,378.71 361.28,379.09 361.97,379.46 362.65,379.81 363.34,380.15 364.03,380.48 364.71,380.79 365.40,381.10 366.08,381.39 366.77,381.67 367.46,381.94 368.14,382.20 368.83,382.45 369.51,382.69 370.20,382.92 370.89,383.14 371.57,383.35 372.26,383.56 372.94,383.75 373.63,383.94 374.32,384.12 375.00,384.29 375.69,384.46 376.37,384.62 377.06,384.77 377.75,384.92 378.43,385.06 379.12,385.19 379.80,385.32 380.49,385.44 381.18,385.56 381.86,385.67 382.55,385.78 383.23,385.89 383.92,385.99 384.61,386.08 385.29,386.17 385.98,386.26 386.66,386.34 387.35,386.42 388.04,386.50 388.72,386.57 389.41,386.64 390.09,386.71 390.78,386.78 391.47,386.84 392.15,386.90 392.84,386.95 393.52,387.01 394.21,387.06 394.90,387.11 395.58,387.15 396.27,387.20 396.95,387.24 397.64,387.28 398.33,387.32 399.01,387.36 399.70,387.40 400.38,387.43 401.07,387.46 401.76,387.49 402.44,387.52 403.13,387.55 403.81,387.58 404.50,387.61 405.19,387.63 405.87,387.66 406.56,387.68 407.24,387.70 407.93,387.72 408.62,387.74 409.30,387.76 409.99,387.78 410.67,387.80 411.36,387.81 412.05,387.83 412.73,387.85 413.42,387.86 414.10,387.87 414.79,387.89 415.48,387.90 416.16,387.91 416.85,387.92 417.53,387.94 418.22,387.95 418.91,387.96 419.59,387.97 420.28,387.98 420.96,387.98 421.65,387.99" fill="none" stroke="#0000ff" stroke-width="1.9" stroke-linejoin="round"/>
<polyline points="267.30,305.08 267.99,305.11 268.67,305.14 269.36,305.17 270.04,305.20 270.73,305.24 271.42,305.27 272.10,305.31 272.79,305.35 273.47,305.39 274.16,305.43 274.85,305.47 275.53,305.52 276.22,305.56 276.90,305.61 277.59,305.66 278.28,305.71 278.96,305.77 279.65,305.83 280.33,305.88 281.02,305.94 281.71,306.01 282.39,306.07 283.08,306.14 283.76,306.21 284.45,306.28 285.14,306.36 285.82,306.43 286.51,306.51 287.19,306.59 287.88,306.68 288.57,306.77 289.25,306.86 289.94,306.95 290.62,307.04 291.31,307.14 292.00,307.24 292.68,307.35 293.37,307.45 294.05,307.56 294.74,307.67 295.43,307.79 296.11,307.91 296.80,308.03 297.48,308.15 298.17,308.27 298.86,308.40 299.54,308.53 300.23,308.66 300.91,308.80 301.60,308.94 302.29,309.08 302.97,309.22 303.66,309.36 304.34,309.50 305.03,309.65 305.72,309.80 306.40,309.95 307.09,310.10 307.77,310.25 308.46,310.40 309.15,310.56 309.83,310.71 310.52,310.86 311.20,311.02 311.89,311.18 312.58,311.33 313.26,311.49 313.95,311.64 314.63,311.79 315.32,311.95 316.01,312.10 316.69,312.25 317.38,312.40 318.06,312.55 318.75,312.70 319.44,312.85 320.12,312.99 320.81,313.13 321.49,313.27 322.18,313.41 322.87,313.55 323.55,313.69 324.24,313.82 324.92,313.95 325.61,314.08 326.30,314.20 326.98,314.32 327.67,314.44 328.35,314.56 329.04,314.68 329.73,314.79 330.41,314.90 331.10,315.00 331.78,315.11 332.47,315.21 333.16,315.31 333.84,315.40 334.53,315.49 335.21,315.58 335.90,315.67 336.59,315.76 337.27,315.84 337.96,315.92 338.64,315.99 339.33,316.07 340.02,316.14 340.70,316.21 341.39,316.28 342.07,316.34 342.76,316.41 343.45,316.47 344.13,316.52 344.82,316.58 345.50,316.64 346.19,316.69 346.88,316.74 347.56,316.79 348.25,316.83 348.93,316.88 349.62,316.92 350.31,316.96 350.99,317.00 351.68,317.04 352.36,317.08 353.05,317.11 353.74,317.15 354.42,317.18 355.11,317.21 355.79,317.24 356.48,317.27 357.17,317.30 357.85,317.32 358.54,317.35 359.22,317.37 359.91,317.40 360.60,317.42 361.28,317.44 361.97,317.46 362.65,317.48 363.34,317.50 364.03,317.52 364.71,317.53 365.40,317.55 366.08,317.57 366.77,317.58 367.46,317.60 368.14,317.61 368.83,317.62 369.51,317.64 370.20,317.65 370.89,317.66 371.57,317.67 372.26,317.68 372.94,317.69 373.63,317.70 374.32,317.71 375.00,317.72 375.69,317.73 376.37,317.74 377.06,317.74 377.75,317.75 378.43,317.76 379.12,317.77 379.80,317.77 380.49,317.78 381.18,317.79 381.86,317.79 382.55,317.80 383.23,317.80 383.92,317.81 384.61,317.81 385.29,317.82 385.98,317.82 386.66,317.82 387.35,317.83 388.04,317.83 388.72,317.84 389.41,317.84 390.09,317.84 390.78,317.85 391.47,317.85 392.15,317.85 392.84,317.85 393.52,317.86 394.21,317.86 394.90,317.86 395.58,317.86 396.27,317.87 396.95,317.87 397.64,317.87 398.33,317.87 399.01,317.87 399.70,317.88 400.38,317.88 401.07,317.88 401.76,317.88 402.44,317.88 403.13,317.88 403.81,317.88 404.50,317.89 405.19,317.89 405.87,317.89 406.56,317.89 407.24,317.89 407.93,317.89 408.62,317.89 409.30,317.89 409.99,317.89 410.67,317.89 411.36,317.90 412.05,317.90 412.73,317.90 413.42,317.90 414.10,317.90 414.79,317.90 415.48,317.90 416.16,317.90 416.85,317.90 417.53,317.90 418.22,317.90 418.91,317.90 419.59,317.90 420.28,317.90 420.96,317.90 421.65,317.90" fill="none" stroke="#b000c4" stroke-width="1.9" stroke-linejoin="round"/>
<polyline points="267.30,302.05 267.99,302.06 268.67,302.08 269.36,302.10 270.04,302.12 270.73,302.14 271.42,302.16 272.10,302.18 272.79,302.20 273.47,302.22 274.16,302.25 274.85,302.27 275.53,302.30 276.22,302.32 276.90,302.35 277.59,302.38 278.28,302.41 278.96,302.44 279.65,302.47 280.33,302.50 281.02,302.53 281.71,302.57 282.39,302.60 283.08,302.64 283.76,302.68 284.45,302.72 285.14,302.76 285.82,302.80 286.51,302.84 287.19,302.89 287.88,302.93 288.57,302.98 289.25,303.03 289.94,303.08 290.62,303.13 291.31,303.19 292.00,303.24 292.68,303.30 293.37,303.36 294.05,303.42 294.74,303.49 295.43,303.56 296.11,303.62 296.80,303.70 297.48,303.77 298.17,303.85 298.86,303.92 299.54,304.00 300.23,304.09 300.91,304.17 301.60,304.26 302.29,304.36 302.97,304.45 303.66,304.55 304.34,304.65 305.03,304.76 305.72,304.87 306.40,304.98 307.09,305.09 307.77,305.21 308.46,305.34 309.15,305.46 309.83,305.59 310.52,305.73 311.20,305.87 311.89,306.01 312.58,306.16 313.26,306.32 313.95,306.47 314.63,306.64 315.32,306.81 316.01,306.98 316.69,307.16 317.38,307.34 318.06,307.53 318.75,307.73 319.44,307.93 320.12,308.14 320.81,308.35 321.49,308.57 322.18,308.80 322.87,309.03 323.55,309.27 324.24,309.52 324.92,309.77 325.61,310.03 326.30,310.30 326.98,310.58 327.67,310.86 328.35,311.15 329.04,311.45 329.73,311.76 330.41,312.08 331.10,312.40 331.78,312.73 332.47,313.07 333.16,313.43 333.84,313.79 334.53,314.15 335.21,314.53 335.90,314.92 336.59,315.32 337.27,315.72 337.96,316.14 338.64,316.56 339.33,317.00 340.02,317.45 340.70,317.90 341.39,318.37 342.07,318.84 342.76,319.33 343.45,319.82 344.13,320.33 344.82,320.85 345.50,321.37 346.19,321.91 346.88,322.45 347.56,323.01 348.25,323.58 348.93,324.15 349.62,324.74 350.31,325.34 350.99,325.94 351.68,326.56 352.36,327.18 353.05,327.82 353.74,328.46 354.42,329.11 355.11,329.77 355.79,330.44 356.48,331.11 357.17,331.80 357.85,332.49 358.54,333.19 359.22,333.89 359.91,334.61 360.60,335.32 361.28,336.05 361.97,336.78 362.65,337.51 363.34,338.25 364.03,339.00 364.71,339.75 365.40,340.50 366.08,341.25 366.77,342.01 367.46,342.77 368.14,343.53 368.83,344.30 369.51,345.06 370.20,345.83 370.89,346.59 371.57,347.35 372.26,348.12 372.94,348.88 373.63,349.64 374.32,350.40 375.00,351.15 375.69,351.90 376.37,352.65 377.06,353.40 377.75,354.14 378.43,354.87 379.12,355.60 379.80,356.33 380.49,357.04 381.18,357.76 381.86,358.46 382.55,359.16 383.23,359.85 383.92,360.54 384.61,361.21 385.29,361.88 385.98,362.54 386.66,363.19 387.35,363.83 388.04,364.47 388.72,365.09 389.41,365.71 390.09,366.31 390.78,366.91 391.47,367.50 392.15,368.07 392.84,368.64 393.52,369.20 394.21,369.74 394.90,370.28 395.58,370.80 396.27,371.32 396.95,371.83 397.64,372.32 398.33,372.81 399.01,373.28 399.70,373.75 400.38,374.20 401.07,374.65 401.76,375.09 402.44,375.51 403.13,375.93 403.81,376.33 404.50,376.73 405.19,377.12 405.87,377.50 406.56,377.86 407.24,378.22 407.93,378.58 408.62,378.92 409.30,379.25 409.99,379.57 410.67,379.89 411.36,380.20 412.05,380.50 412.73,380.79 413.42,381.07 414.10,381.35 414.79,381.62 415.48,381.88 416.16,382.13 416.85,382.38 417.53,382.62 418.22,382.85 418.91,383.08 419.59,383.30 420.28,383.51 420.96,383.72 421.65,383.92" fill="none" stroke="#ff0000" stroke-width="1.9" stroke-linejoin="round"/>
<circle cx="267.30" cy="311.18" r="2.10" fill="none" stroke="#0b9a47" stroke-width="0.85" />
<circle cx="267.30" cy="314.06" r="2.10" fill="none" stroke="#0b9a47" stroke-width="0.85" />
<circle cx="284.45" cy="325.61" r="2.10" fill="none" stroke="#0b9a47" stroke-width="0.85" />
<circle cx="284.45" cy="328.50" r="2.10" fill="none" stroke="#0b9a47" stroke-width="0.85" />
<circle cx="301.60" cy="343.90" r="2.10" fill="none" stroke="#0b9a47" stroke-width="0.85" />
<circle cx="318.75" cy="370.85" r="2.10" fill="none" stroke="#0b9a47" stroke-width="0.85" />
<circle cx="335.90" cy="384.33" r="2.10" fill="none" stroke="#0b9a47" stroke-width="0.85" />
<circle cx="335.90" cy="387.21" r="2.10" fill="none" stroke="#0b9a47" stroke-width="0.85" />
<circle cx="353.05" cy="387.21" r="2.10" fill="none" stroke="#0b9a47" stroke-width="0.85" />
<circle cx="370.20" cy="384.33" r="2.10" fill="none" stroke="#0b9a47" stroke-width="0.85" />
<circle cx="387.35" cy="382.40" r="2.10" fill="none" stroke="#0b9a47" stroke-width="0.85" />
<circle cx="404.50" cy="382.40" r="2.10" fill="none" stroke="#0b9a47" stroke-width="0.85" />
<circle cx="421.65" cy="378.55" r="2.10" fill="none" stroke="#0b9a47" stroke-width="0.85" />
<circle cx="421.65" cy="380.48" r="2.10" fill="none" stroke="#0b9a47" stroke-width="0.85" />
<circle cx="267.30" cy="286.15" r="2.10" fill="none" stroke="#0000ff" stroke-width="0.85" />
<circle cx="284.45" cy="304.44" r="2.10" fill="none" stroke="#0000ff" stroke-width="0.85" />
<circle cx="301.60" cy="319.84" r="2.10" fill="none" stroke="#0000ff" stroke-width="0.85" />
<circle cx="318.75" cy="330.43" r="2.10" fill="none" stroke="#0000ff" stroke-width="0.85" />
<circle cx="318.75" cy="333.31" r="2.10" fill="none" stroke="#0000ff" stroke-width="0.85" />
<circle cx="335.90" cy="356.41" r="2.10" fill="none" stroke="#0000ff" stroke-width="0.85" />
<circle cx="335.90" cy="359.30" r="2.10" fill="none" stroke="#0000ff" stroke-width="0.85" />
<circle cx="353.05" cy="385.29" r="2.10" fill="none" stroke="#0000ff" stroke-width="0.85" />
<circle cx="353.05" cy="388.18" r="2.10" fill="none" stroke="#0000ff" stroke-width="0.85" />
<circle cx="370.20" cy="389.62" r="2.10" fill="none" stroke="#0000ff" stroke-width="0.85" />
<circle cx="387.35" cy="388.18" r="2.10" fill="none" stroke="#0000ff" stroke-width="0.85" />
<circle cx="404.50" cy="386.25" r="2.10" fill="none" stroke="#0000ff" stroke-width="0.85" />
<circle cx="421.65" cy="382.40" r="2.10" fill="none" stroke="#0000ff" stroke-width="0.85" />
<circle cx="267.30" cy="305.40" r="2.10" fill="none" stroke="#b000c4" stroke-width="0.85" />
<circle cx="284.45" cy="308.29" r="2.10" fill="none" stroke="#b000c4" stroke-width="0.85" />
<circle cx="284.45" cy="311.18" r="2.10" fill="none" stroke="#b000c4" stroke-width="0.85" />
<circle cx="301.60" cy="308.29" r="2.10" fill="none" stroke="#b000c4" stroke-width="0.85" />
<circle cx="301.60" cy="311.18" r="2.10" fill="none" stroke="#b000c4" stroke-width="0.85" />
<circle cx="318.75" cy="311.18" r="2.10" fill="none" stroke="#b000c4" stroke-width="0.85" />
<circle cx="318.75" cy="313.10" r="2.10" fill="none" stroke="#b000c4" stroke-width="0.85" />
<circle cx="335.90" cy="315.99" r="2.10" fill="none" stroke="#b000c4" stroke-width="0.85" />
<circle cx="335.90" cy="316.95" r="2.10" fill="none" stroke="#b000c4" stroke-width="0.85" />
<circle cx="353.05" cy="314.06" r="2.10" fill="none" stroke="#b000c4" stroke-width="0.85" />
<circle cx="353.05" cy="320.80" r="2.10" fill="none" stroke="#b000c4" stroke-width="0.85" />
<circle cx="370.20" cy="318.88" r="2.10" fill="none" stroke="#b000c4" stroke-width="0.85" />
<circle cx="370.20" cy="320.80" r="2.10" fill="none" stroke="#b000c4" stroke-width="0.85" />
<circle cx="387.35" cy="317.91" r="2.10" fill="none" stroke="#b000c4" stroke-width="0.85" />
<circle cx="387.35" cy="321.76" r="2.10" fill="none" stroke="#b000c4" stroke-width="0.85" />
<circle cx="404.50" cy="315.99" r="2.10" fill="none" stroke="#b000c4" stroke-width="0.85" />
<circle cx="404.50" cy="318.88" r="2.10" fill="none" stroke="#b000c4" stroke-width="0.85" />
<circle cx="421.65" cy="309.25" r="2.10" fill="none" stroke="#b000c4" stroke-width="0.85" />
<circle cx="421.65" cy="314.06" r="2.10" fill="none" stroke="#b000c4" stroke-width="0.85" />
<circle cx="267.30" cy="300.59" r="2.10" fill="none" stroke="#ff0000" stroke-width="0.85" />
<circle cx="267.30" cy="302.51" r="2.10" fill="none" stroke="#ff0000" stroke-width="0.85" />
<circle cx="267.30" cy="303.48" r="2.10" fill="none" stroke="#ff0000" stroke-width="0.85" />
<circle cx="284.45" cy="299.62" r="2.10" fill="none" stroke="#ff0000" stroke-width="0.85" />
<circle cx="284.45" cy="302.51" r="2.10" fill="none" stroke="#ff0000" stroke-width="0.85" />
<circle cx="301.60" cy="297.70" r="2.10" fill="none" stroke="#ff0000" stroke-width="0.85" />
<circle cx="301.60" cy="310.21" r="2.10" fill="none" stroke="#ff0000" stroke-width="0.85" />
<circle cx="318.75" cy="303.48" r="2.10" fill="none" stroke="#ff0000" stroke-width="0.85" />
<circle cx="318.75" cy="308.29" r="2.10" fill="none" stroke="#ff0000" stroke-width="0.85" />
<circle cx="335.90" cy="313.10" r="2.10" fill="none" stroke="#ff0000" stroke-width="0.85" />
<circle cx="335.90" cy="319.84" r="2.10" fill="none" stroke="#ff0000" stroke-width="0.85" />
<circle cx="353.05" cy="327.54" r="2.10" fill="none" stroke="#ff0000" stroke-width="0.85" />
<circle cx="353.05" cy="335.24" r="2.10" fill="none" stroke="#ff0000" stroke-width="0.85" />
<circle cx="370.20" cy="339.09" r="2.10" fill="none" stroke="#ff0000" stroke-width="0.85" />
<circle cx="370.20" cy="345.83" r="2.10" fill="none" stroke="#ff0000" stroke-width="0.85" />
<circle cx="387.35" cy="371.33" r="2.10" fill="none" stroke="#ff0000" stroke-width="0.85" />
<circle cx="387.35" cy="373.26" r="2.10" fill="none" stroke="#ff0000" stroke-width="0.85" />
<circle cx="404.50" cy="385.29" r="2.10" fill="none" stroke="#ff0000" stroke-width="0.85" />
<circle cx="404.50" cy="386.25" r="2.10" fill="none" stroke="#ff0000" stroke-width="0.85" />
<circle cx="421.65" cy="385.29" r="2.10" fill="none" stroke="#ff0000" stroke-width="0.85" />
<circle cx="249.40" cy="293.85" r="2.10" fill="none" stroke="#ff0000" stroke-width="0.85" />
<text transform="matrix(1,0,0,1.042,444.40,258.10)" font-size="9.6" font-weight="bold" stroke="#000" stroke-width="0.3">d</text>
<text transform="matrix(1,0,0,1.042,483.90,264.91)" text-anchor="middle">U2OS</text>
<text transform="matrix(1,0,0,1.042,538.10,264.91)" text-anchor="middle"><tspan font-style="italic">ELOF1</tspan>-KO</text>
<line x1="501.20" y1="267.90" x2="577.80" y2="267.90" stroke="#000" stroke-width="0.8" />
<text transform="matrix(1,0,0,1.042,494.90,279.61)" text-anchor="end">ELOF1–GFP</text>
<text transform="matrix(1,0,0,1.042,518.30,279.61)" text-anchor="middle">WT</text>
<text transform="matrix(1,0,0,1.042,560.30,279.61)" text-anchor="middle">S72K/D73K</text>
<line x1="501.20" y1="283.50" x2="536.20" y2="283.50" stroke="#000" stroke-width="0.8" />
<line x1="542.00" y1="283.50" x2="577.80" y2="283.50" stroke="#000" stroke-width="0.8" />
<text transform="matrix(1,0,0,1.042,494.90,296.01)" text-anchor="end">Dox</text>
<text transform="matrix(1,0,0,1.042,509.40,296.01)" text-anchor="middle">–</text>
<text transform="matrix(1,0,0,1.042,528.80,296.01)" text-anchor="middle">+</text>
<text transform="matrix(1,0,0,1.042,551.00,296.01)" text-anchor="middle">–</text>
<text transform="matrix(1,0,0,1.042,570.30,296.01)" text-anchor="middle">+</text>
<text transform="matrix(1,0,0,1.042,586.70,296.01)">kDa</text>
<text transform="matrix(1,0,0,1.042,494.90,309.31)" text-anchor="end">ELOF1–GFP</text>
<text transform="matrix(1,0,0,1.042,494.90,328.01)" text-anchor="end">Tubulin</text>
<text transform="matrix(1,0,0,1.042,587.20,309.31)">36</text>
<text transform="matrix(1,0,0,1.042,587.20,328.11)">50</text>
<line x1="580.20" y1="306.20" x2="583.00" y2="306.20" stroke="#000" stroke-width="0.8" />
<line x1="580.20" y1="325.00" x2="583.00" y2="325.00" stroke="#000" stroke-width="0.8" />
<g>
<rect x="497.60" y="298.60" width="82.00" height="15.60" fill="#8f8f8f" stroke="none" stroke-width="1" />
<rect x="538.50" y="298.60" width="22.00" height="15.60" fill="#a4a4a4" stroke="none" stroke-width="1" filter="url(#bl2)"/>
<rect x="500.00" y="303.50" width="17.00" height="4.50" fill="#7a7a7a" stroke="none" stroke-width="1" filter="url(#bl2)"/>
<path d="M519.50,302.60 Q528.25,300.30 537.00,302.60 L537.00,311.00 Q528.25,313.30 519.50,311.00 Z" fill="#000" opacity="1.0" filter="url(#bl)"/>
<path d="M561.50,304.42 Q569.90,302.60 578.30,304.42 L578.30,310.58 Q569.90,312.40 561.50,310.58 Z" fill="#000" opacity="1.0" filter="url(#bl)"/>
<rect x="497.60" y="298.60" width="82.00" height="15.60" fill="none" stroke="#000" stroke-width="1.0" />
<rect x="497.60" y="317.40" width="82.00" height="15.80" fill="#cfcfcf" stroke="none" stroke-width="1" />
<path d="M500.00,323.24 Q508.70,321.50 517.40,323.24 L517.40,327.16 Q508.70,328.90 500.00,327.16 Z" fill="#000" opacity="1.0" filter="url(#bl)"/>
<path d="M519.40,323.24 Q528.60,321.50 537.80,323.24 L537.80,327.16 Q528.60,328.90 519.40,327.16 Z" fill="#000" opacity="1.0" filter="url(#bl)"/>
<path d="M540.60,323.24 Q549.40,321.50 558.20,323.24 L558.20,327.16 Q549.40,328.90 540.60,327.16 Z" fill="#000" opacity="1.0" filter="url(#bl)"/>
<path d="M560.80,323.24 Q569.45,321.50 578.10,323.24 L578.10,327.16 Q569.45,328.90 560.80,327.16 Z" fill="#000" opacity="1.0" filter="url(#bl)"/>
<rect x="497.60" y="317.40" width="82.00" height="15.80" fill="none" stroke="#000" stroke-width="1.0" />
</g>
<text transform="matrix(1,0,0,1.042,444.80,363.10)" font-size="9.6" font-weight="bold" stroke="#000" stroke-width="0.3">e</text>
<path d="M490.3 435.3h0M492.8 434.7h0M531.4 418.7h0M532.8 414.9h0M542.2 420.9h0M580.1 450.8h0M496.8 438.2h0M558.0 443.1h0M557.2 418.0h0M550.7 489.8h0M577.4 449.2h0M511.0 433.7h0M545.3 424.2h0M518.2 446.1h0M594.8 433.6h0M546.6 459.1h0M530.3 434.1h0M581.3 435.5h0M542.6 423.7h0M565.9 450.2h0M597.4 429.1h0M599.1 445.1h0M544.6 461.4h0M530.2 462.9h0M512.2 435.8h0M555.3 496.3h0M582.7 449.4h0M571.3 451.4h0M558.2 415.8h0M516.1 467.7h0M538.7 427.0h0M588.8 423.3h0M546.6 422.7h0M513.1 471.7h0M600.5 441.3h0M598.7 462.8h0M510.7 463.3h0M524.7 466.0h0M544.5 489.3h0M498.6 437.9h0M526.0 414.9h0M594.3 427.6h0M491.5 436.7h0M489.5 436.8h0M510.2 466.8h0M576.2 439.7h0M505.3 437.8h0M555.0 489.9h0M530.0 470.9h0M564.7 422.2h0M544.1 419.2h0M543.0 426.2h0M525.2 461.5h0M549.4 421.7h0M596.7 462.3h0M527.9 431.5h0M534.8 469.3h0M588.0 425.8h0M499.5 406.0h0M536.4 421.2h0M525.2 431.2h0M597.5 432.9h0M532.9 463.3h0M500.9 455.1h0M512.6 469.6h0M536.0 467.9h0M490.9 439.0h0M552.7 444.7h0M495.3 439.6h0M560.4 450.1h0M534.8 423.4h0M498.2 451.5h0M601.4 431.7h0M494.9 436.9h0M604.3 431.5h0M584.5 446.2h0M538.7 424.8h0M526.5 463.1h0M520.7 465.1h0M538.9 421.1h0M588.8 431.5h0M509.4 464.9h0M549.0 494.2h0M562.2 486.0h0M548.7 427.6h0M566.1 420.3h0M516.7 420.0h0M516.0 465.1h0M598.5 431.5h0M517.2 413.5h0M601.3 429.0h0M558.7 449.1h0M556.8 449.4h0M599.3 466.0h0M529.1 465.3h0M546.9 457.6h0M562.2 420.1h0M580.2 437.5h0M561.0 416.2h0M523.4 466.1h0M557.9 444.9h0M499.4 438.9h0M574.6 440.9h0M591.1 431.1h0M564.1 485.0h0M503.1 450.0h0M579.4 471.9h0M496.4 443.0h0M531.3 474.8h0M575.2 451.6h0M580.1 448.7h0M546.0 491.2h0M524.7 433.6h0M545.0 457.1h0M493.2 444.8h0M511.4 465.7h0M592.6 429.6h0M576.6 450.9h0M592.5 464.2h0M518.2 463.7h0M524.8 469.0h0M596.4 465.2h0M510.4 468.9h0M526.0 467.6h0M564.5 449.0h0M511.9 465.3h0M544.6 460.2h0M487.3 437.5h0M502.2 437.4h0M578.3 449.1h0M513.9 473.3h0M596.9 459.5h0M570.8 484.8h0M562.1 451.6h0M555.0 447.6h0M552.2 494.7h0M569.1 450.3h0M563.1 487.0h0M562.0 423.1h0M594.7 435.6h0M564.4 419.9h0M561.4 451.5h0M490.9 441.8h0M539.2 457.9h0M556.6 445.5h0M500.9 404.9h0M565.1 453.2h0M579.2 441.5h0M512.9 468.2h0M558.8 454.8h0M494.4 441.4h0M592.3 433.8h0M554.9 496.9h0M550.2 425.6h0M577.2 467.8h0M496.5 439.6h0M534.6 490.0h0M527.2 470.1h0M572.9 479.4h0M544.7 425.8h0M560.0 423.4h0M489.2 435.3h0M539.3 422.9h0M574.6 472.1h0M552.8 492.8h0M562.9 453.6h0M546.3 444.8h0M556.1 446.7h0M582.6 450.9h0M596.7 427.2h0M491.1 433.7h0" stroke="#959595" stroke-width="3.30" stroke-linecap="round" fill="none"/>
<path d="M547.9 491.8h0M520.1 448.3h0M570.4 422.1h0M558.0 441.5h0M578.8 438.2h0M586.4 450.0h0M544.7 474.2h0M594.9 463.0h0M526.0 461.7h0M514.2 479.9h0M530.5 466.7h0M572.3 435.2h0M518.5 468.1h0M550.5 421.0h0M495.2 449.9h0M553.1 449.8h0M502.9 423.9h0M548.3 455.3h0M572.1 470.1h0M526.5 465.9h0M496.3 420.2h0M588.6 455.6h0M514.3 463.7h0M559.1 481.9h0M508.8 437.2h0M593.4 460.3h0M531.1 465.3h0M570.2 431.7h0M558.1 421.7h0M574.2 473.8h0M570.8 472.2h0M494.5 435.8h0M558.2 453.9h0M511.9 437.1h0M506.3 435.5h0M542.3 456.9h0M519.2 419.9h0M548.1 424.0h0M532.2 465.4h0M495.0 452.2h0M531.3 421.9h0M487.0 435.8h0M567.3 489.3h0M566.9 427.7h0M521.0 432.0h0M543.4 455.7h0M515.0 460.8h0M566.5 453.4h0M554.7 501.5h0M506.8 433.9h0M536.1 426.1h0M505.2 435.9h0M492.9 447.3h0M560.6 488.0h0M558.0 451.8h0M546.4 489.8h0M515.1 425.3h0M560.8 454.3h0M594.3 431.2h0M580.6 420.8h0M512.8 463.8h0M516.4 430.2h0M514.9 470.7h0M556.4 421.4h0M516.0 437.9h0M494.2 445.2h0M490.6 443.1h0M527.1 409.2h0M486.3 433.9h0M593.4 465.2h0M492.5 449.2h0M581.2 448.2h0M557.9 497.5h0M524.1 467.4h0M536.8 477.6h0M506.4 439.2h0M523.2 431.0h0M568.2 485.4h0M539.4 489.3h0M553.3 444.0h0M565.0 488.3h0M511.2 436.1h0M504.3 407.9h0M519.0 432.0h0M537.9 450.0h0M596.0 430.8h0M576.4 436.9h0M537.3 422.9h0M542.3 462.2h0M508.6 467.2h0M502.9 455.5h0M537.3 458.3h0M603.1 444.8h0M512.0 433.8h0M602.7 430.3h0M508.2 471.3h0M552.8 413.6h0M545.0 427.4h0M568.3 425.9h0M575.0 446.8h0M518.5 471.1h0M600.0 445.8h0M524.5 415.1h0M525.4 409.6h0M596.6 462.7h0M558.5 447.1h0M528.1 433.2h0M562.8 425.5h0M537.1 471.0h0M488.0 431.5h0M532.8 419.1h0M543.3 419.2h0M496.5 417.1h0M527.4 419.3h0M488.3 451.3h0M551.5 427.6h0M547.1 463.4h0M500.4 451.6h0M517.9 465.4h0M515.0 435.2h0M592.7 435.4h0M600.2 425.6h0M534.5 419.3h0M499.3 421.0h0M492.4 438.7h0M582.9 419.3h0M548.2 441.7h0M513.2 444.9h0M585.2 451.7h0M595.2 461.9h0M586.0 423.5h0M494.7 406.2h0M536.7 490.2h0M508.6 461.1h0M578.3 434.9h0M520.3 469.9h0M591.9 427.9h0M545.3 455.6h0M570.5 435.3h0M535.2 457.6h0M520.6 432.9h0M523.9 480.1h0M526.3 471.2h0M576.0 469.6h0M572.2 448.8h0M554.5 419.4h0M573.9 444.3h0M514.5 413.8h0M562.7 455.8h0M560.6 484.7h0M501.9 409.3h0M530.3 430.2h0M602.2 426.9h0M549.4 462.8h0M546.7 426.8h0M536.2 435.3h0M594.8 459.9h0M514.9 468.2h0M591.0 456.0h0M555.3 445.3h0M562.2 489.0h0M598.6 461.4h0M497.1 408.1h0M570.7 482.8h0M533.2 469.9h0M507.1 460.7h0M499.3 436.2h0M520.5 439.7h0M552.9 453.5h0M539.0 466.9h0M499.0 415.3h0M509.2 472.8h0M570.9 447.3h0M515.2 432.0h0M558.5 495.3h0M560.3 483.9h0M539.2 465.7h0M518.4 447.7h0M506.2 437.4h0M512.9 441.9h0M586.9 447.7h0M580.2 434.2h0M601.9 447.2h0M550.0 442.2h0M521.4 429.0h0M512.6 477.5h0M495.3 415.0h0M484.3 431.6h0M511.0 474.9h0M506.5 440.8h0M540.7 427.3h0M518.7 479.0h0M493.9 417.6h0M502.9 456.9h0M588.9 464.0h0M500.7 441.3h0M564.6 457.4h0M516.3 463.9h0M506.7 463.2h0M576.7 473.4h0M546.5 425.9h0M601.1 434.2h0M546.1 420.9h0M553.4 441.7h0M514.5 465.2h0M562.6 421.4h0" stroke="#a0a0a0" stroke-width="3.30" stroke-linecap="round" fill="none"/>
<path d="M516.9 478.7h0M538.0 411.8h0M585.0 415.6h0M517.5 432.2h0M566.4 423.5h0M533.4 475.1h0M492.1 437.3h0M516.1 428.2h0M498.0 407.7h0M603.2 435.7h0M515.3 439.9h0M599.4 430.1h0M528.3 467.8h0M556.0 444.1h0M530.8 426.2h0M523.4 468.2h0M545.5 492.0h0M568.0 415.3h0M504.2 404.8h0M558.1 417.3h0M562.1 483.4h0M514.4 445.4h0M586.2 445.6h0M555.9 419.5h0M556.4 424.2h0M572.0 467.1h0M589.0 421.1h0M508.5 444.3h0M591.4 464.8h0M518.1 425.2h0M586.9 453.6h0M551.2 418.0h0M538.1 415.0h0M501.1 456.9h0M506.6 472.0h0M558.7 491.7h0M502.8 418.0h0M563.3 415.1h0M550.8 439.2h0M530.4 432.0h0M604.4 435.0h0M490.4 415.4h0M569.0 471.4h0M570.4 433.8h0M564.2 489.6h0M583.1 455.4h0M600.4 434.8h0M520.9 467.7h0M580.4 415.4h0M541.0 457.6h0M504.8 424.7h0M520.7 461.4h0M525.3 450.3h0M581.5 418.9h0M494.1 452.8h0M489.1 433.2h0M556.6 453.8h0M504.3 460.2h0M562.6 447.8h0M554.8 483.8h0M565.5 428.7h0M521.3 445.5h0M557.0 416.2h0M528.7 443.9h0M596.2 468.1h0M590.8 425.6h0M547.4 461.7h0M554.9 478.8h0M542.2 488.0h0M527.4 429.4h0M553.2 483.3h0M502.9 405.4h0M561.2 445.6h0M547.4 476.7h0M566.5 487.6h0M529.2 452.0h0M591.3 429.6h0M483.3 425.3h0M511.2 471.2h0M529.2 461.7h0M604.1 459.9h0M568.3 421.6h0M582.7 437.9h0M532.0 448.9h0M574.3 434.7h0M519.3 473.1h0M596.5 441.4h0M540.6 425.3h0M570.2 467.6h0M531.4 469.3h0M555.1 421.3h0M492.6 409.8h0M572.4 446.8h0M584.6 446.7h0M566.6 415.3h0M530.5 459.2h0M518.0 433.3h0M570.3 460.8h0M527.4 448.0h0M534.3 467.5h0M582.0 433.6h0M598.3 434.7h0M500.1 407.9h0M558.9 424.1h0M542.5 473.9h0M566.9 479.9h0M542.2 431.8h0M561.4 481.0h0M542.7 427.0h0M506.3 456.3h0M506.1 452.2h0M515.4 430.2h0M582.1 415.6h0M517.3 435.0h0M540.9 461.8h0M564.3 455.8h0M510.8 437.7h0M584.6 422.2h0M565.1 445.5h0M496.3 457.2h0M553.0 475.1h0M515.0 437.0h0M548.9 457.4h0M589.2 427.4h0M570.2 454.2h0M546.6 443.4h0M513.2 472.7h0M522.1 451.7h0M566.2 483.3h0M555.2 493.5h0M575.1 433.1h0M498.6 455.4h0M566.9 457.2h0M496.7 411.1h0M508.3 462.9h0M496.5 414.8h0M560.3 455.0h0M526.3 432.2h0M538.7 452.2h0M495.9 446.8h0M494.5 409.8h0M532.1 417.4h0M500.5 439.8h0M532.7 472.3h0M511.4 427.5h0M569.5 455.2h0M555.1 491.6h0M559.0 478.9h0M520.6 436.0h0M569.0 417.4h0M512.7 475.1h0M558.5 419.2h0M515.4 418.7h0M542.4 462.7h0M488.7 438.8h0M506.0 467.2h0M554.2 455.5h0M522.7 464.2h0M571.1 439.4h0M486.9 431.4h0M528.9 462.9h0M525.3 429.9h0M557.4 428.3h0M606.0 445.5h0M502.1 434.8h0M577.9 453.6h0M599.2 425.0h0M556.3 440.3h0M514.1 469.3h0M548.9 474.9h0M486.7 441.5h0M553.0 491.6h0M488.0 440.9h0M505.5 449.9h0M596.9 438.7h0M570.5 487.3h0M568.4 435.6h0M536.5 475.0h0M496.9 453.1h0M604.7 433.5h0M566.0 451.4h0M514.3 428.2h0M601.5 464.9h0M540.5 419.1h0M492.8 408.0h0M553.5 451.9h0M514.7 447.1h0M530.1 417.8h0M496.5 460.1h0M540.9 421.8h0M545.0 421.4h0M518.7 476.7h0M564.0 451.4h0M600.3 450.8h0M540.7 470.8h0M498.5 442.2h0M508.6 405.8h0M498.1 442.8h0M602.6 443.8h0M535.0 415.1h0M484.7 437.2h0M510.1 480.1h0M533.3 466.9h0M504.0 465.6h0M541.3 442.0h0M543.9 470.1h0M517.2 445.8h0M513.1 415.9h0M555.0 417.7h0M572.5 456.7h0M514.1 444.0h0M577.3 444.8h0M493.0 433.4h0M541.5 423.5h0M606.2 433.7h0M532.6 436.0h0M591.4 443.5h0M536.8 463.2h0M534.6 461.0h0M504.8 432.2h0M505.9 458.2h0M574.4 432.2h0M511.0 440.2h0M590.4 427.3h0M496.7 442.0h0M501.4 470.7h0M534.3 413.6h0M539.2 459.7h0M552.9 488.3h0M529.1 411.7h0M512.2 431.0h0M550.8 493.8h0M529.3 448.0h0M545.4 443.2h0M554.9 453.2h0M529.0 426.8h0M572.8 470.7h0M486.3 427.2h0M586.0 432.1h0M570.8 448.8h0M540.8 429.6h0M512.7 449.1h0M562.2 481.3h0M578.4 417.9h0M510.8 461.9h0M488.2 443.2h0M597.1 443.9h0M567.0 437.5h0M528.9 414.8h0M565.1 491.9h0M521.1 473.3h0M506.7 407.9h0M570.2 429.9h0M594.6 429.2h0M578.2 444.0h0M497.0 451.1h0M589.2 458.0h0M566.5 421.8h0M538.5 419.7h0M560.9 490.0h0M564.0 414.0h0M558.7 494.2h0M540.2 454.0h0M481.2 425.4h0M561.2 425.3h0M580.2 455.1h0M581.0 453.7h0M517.0 462.2h0M549.4 467.2h0M536.2 418.1h0M535.2 471.8h0M525.2 460.2h0M597.3 447.9h0M556.1 500.1h0M499.3 449.9h0M569.3 445.9h0M578.2 438.8h0M569.2 451.9h0M583.1 444.0h0M557.2 455.1h0M552.2 425.3h0M505.5 417.2h0M584.9 419.0h0M505.4 438.8h0M589.5 462.2h0M508.3 469.9h0M575.5 437.3h0M584.1 455.8h0M554.4 449.9h0M508.5 433.7h0M537.9 454.8h0" stroke="#ababab" stroke-width="3.30" stroke-linecap="round" fill="none"/>
<path d="M561.0 417.1h0M586.5 433.6h0M590.3 422.9h0M587.3 451.6h0M498.2 447.9h0M598.0 438.0h0M568.6 420.2h0M588.0 438.1h0M482.4 427.1h0M579.4 431.7h0M577.2 443.3h0M535.9 455.0h0M502.7 441.3h0M548.4 460.2h0M538.4 462.8h0M502.7 431.4h0M536.6 445.6h0M544.2 477.6h0M532.3 413.5h0M583.2 448.3h0M512.7 412.3h0M500.9 461.9h0M501.2 446.8h0M502.3 447.1h0M518.8 412.1h0M518.9 461.5h0M509.1 440.0h0M572.8 473.0h0M577.0 448.2h0M549.2 488.1h0M486.7 439.3h0M533.5 427.8h0M574.3 467.0h0M595.4 425.9h0M530.4 415.4h0M603.4 450.2h0M525.3 444.2h0M592.4 446.1h0M606.5 441.7h0M518.1 442.8h0M549.3 439.0h0M590.0 463.4h0M551.3 491.8h0M506.8 409.4h0M594.9 465.9h0M565.9 448.1h0M484.1 439.6h0M483.2 429.6h0M561.3 428.2h0M515.1 407.8h0M512.2 439.3h0M492.8 451.6h0M536.7 426.8h0M560.0 491.6h0M568.9 491.7h0M575.5 453.7h0M599.0 427.4h0M548.2 479.6h0M580.9 441.3h0M520.9 476.8h0M549.9 415.7h0M586.1 441.8h0M556.0 493.9h0M524.0 473.5h0M505.2 456.0h0M506.0 443.4h0M498.6 410.2h0M580.6 439.0h0M522.1 429.8h0M548.1 472.2h0M583.2 453.4h0M492.1 411.3h0M486.2 444.9h0M559.0 483.0h0M564.7 495.4h0M512.9 409.2h0M550.6 412.0h0M552.1 418.9h0M522.3 417.1h0M564.8 418.2h0M598.1 467.4h0M534.1 441.9h0M536.3 465.5h0M560.1 441.6h0M510.2 473.1h0M566.4 486.2h0M590.0 460.2h0M552.2 465.5h0M531.1 411.2h0M527.1 436.8h0M522.6 412.1h0M570.3 419.4h0M549.0 412.1h0M528.6 413.9h0M526.4 434.3h0M569.4 426.8h0M528.3 471.8h0M567.0 431.5h0M552.1 471.0h0M575.0 421.4h0M549.0 489.7h0M578.5 434.3h0M574.9 449.7h0M557.3 442.0h0M589.0 433.9h0M500.2 423.7h0M500.6 420.0h0M599.1 433.2h0M587.0 463.3h0M555.5 415.2h0M497.0 449.7h0M560.3 447.1h0M543.3 440.3h0M583.9 426.8h0M528.0 416.8h0M501.9 443.4h0M537.0 420.0h0M538.9 413.8h0M568.5 439.2h0M503.0 433.4h0M567.1 480.7h0M564.1 483.6h0M540.4 444.7h0M543.0 469.0h0M538.5 474.1h0M588.2 451.1h0M566.6 467.1h0M576.9 433.1h0M562.0 461.3h0M572.6 450.8h0M534.7 438.2h0M566.8 455.9h0M509.0 440.9h0M543.1 429.5h0M500.0 448.9h0M484.1 427.5h0M524.1 422.8h0M535.4 464.0h0M554.4 441.9h0M556.3 451.7h0M514.9 475.0h0M554.2 467.0h0M523.0 471.5h0M530.2 462.2h0M585.2 468.1h0M502.3 453.3h0M491.2 419.3h0M569.2 457.4h0M554.4 499.3h0M534.2 409.3h0M589.0 435.5h0M550.5 459.1h0M515.4 414.7h0M549.3 447.9h0M553.5 485.6h0M559.4 490.3h0M528.5 428.9h0M518.7 435.2h0M600.6 459.8h0M604.6 458.2h0M518.1 429.8h0M574.3 419.8h0M516.4 475.1h0M568.9 487.9h0M564.1 424.2h0M590.5 446.7h0M557.0 483.0h0M570.1 475.8h0M582.5 441.0h0M538.7 448.1h0M516.5 472.3h0M513.3 443.6h0M524.1 450.9h0M560.8 420.2h0M511.4 428.9h0M548.4 469.4h0M523.4 413.0h0M551.1 443.2h0M543.0 480.9h0M548.8 443.1h0M546.9 430.9h0M592.2 431.6h0M584.0 457.2h0M502.0 421.6h0M557.4 485.8h0M573.5 453.5h0M550.2 473.6h0M516.5 442.1h0M560.6 422.0h0M573.0 432.2h0M570.7 474.3h0M535.2 446.8h0M482.8 439.3h0M577.0 471.5h0M502.5 439.8h0M480.8 427.1h0M582.4 416.7h0M588.9 441.7h0M579.1 445.7h0M534.2 472.9h0M589.3 419.7h0M506.0 466.1h0M598.2 459.7h0M604.5 448.3h0M527.4 445.7h0M535.3 454.2h0M491.2 450.7h0M521.3 426.9h0M534.6 420.7h0M534.8 426.0h0M484.0 429.9h0M558.7 484.9h0M493.2 457.6h0M600.3 467.1h0M551.0 419.0h0M483.5 423.3h0M530.8 446.8h0M506.5 418.1h0M587.2 428.3h0M484.0 435.2h0M572.0 436.7h0M506.7 404.9h0M562.5 449.9h0M562.2 430.2h0M586.0 462.1h0M494.1 457.5h0M555.4 475.2h0M553.0 458.1h0M496.2 467.4h0M504.5 416.2h0M590.2 457.5h0M570.5 437.5h0M598.3 438.7h0M524.4 445.4h0M520.8 436.9h0M578.2 419.3h0M509.4 445.0h0M519.1 440.1h0M537.2 409.6h0M524.8 440.1h0M489.2 425.2h0M546.4 442.2h0M573.0 441.9h0M540.4 455.5h0M585.1 453.7h0M553.4 455.5h0M495.0 419.7h0M521.1 464.0h0M532.0 429.0h0M542.9 479.3h0M554.4 427.8h0M532.2 421.8h0M533.2 473.8h0M545.1 475.8h0M540.3 415.8h0M578.4 470.2h0M523.4 440.1h0M556.1 461.9h0M535.1 417.5h0M588.8 458.9h0M585.4 443.0h0M573.0 419.0h0M521.3 475.7h0M528.4 426.2h0M605.4 445.5h0M500.1 453.9h0M503.0 410.9h0M532.7 433.4h0M574.5 469.1h0M551.2 468.8h0M534.2 477.1h0M521.3 479.6h0M510.7 431.2h0M520.7 411.5h0M546.7 473.7h0M568.9 424.1h0M490.2 417.1h0M487.9 445.9h0M556.8 497.1h0M496.2 455.1h0M508.9 411.8h0M558.9 457.9h0M586.5 417.2h0M496.1 435.2h0M587.3 465.9h0M552.2 447.4h0M536.3 461.0h0M575.2 440.2h0M597.1 437.9h0M522.0 445.2h0M494.2 423.3h0M506.3 422.0h0M493.0 417.1h0M499.3 420.3h0M602.0 459.2h0M541.2 452.0h0M546.8 467.7h0M548.4 445.2h0M506.7 468.8h0M511.4 407.8h0M577.4 419.2h0M516.3 477.2h0M586.9 420.1h0M547.2 475.5h0M589.0 453.6h0M607.3 436.0h0M594.2 467.2h0M585.1 461.1h0M528.2 421.7h0M565.4 447.8h0M538.7 453.4h0M522.2 447.1h0M581.5 416.9h0M516.8 469.9h0M550.3 477.9h0M488.6 430.3h0M490.7 431.7h0M529.0 419.1h0M504.3 456.9h0M525.1 413.0h0M532.2 423.4h0M503.1 419.0h0M525.5 464.0h0M551.5 472.2h0M536.7 411.3h0M548.6 461.9h0M593.3 442.3h0M553.9 422.9h0M527.3 426.8h0M528.9 457.4h0M509.0 434.7h0M542.3 459.7h0M554.4 457.2h0M507.9 410.3h0M508.1 423.4h0M536.6 459.5h0M490.6 447.7h0M511.5 445.0h0M549.1 419.6h0M565.1 460.9h0M585.0 440.2h0M525.5 435.1h0M540.2 439.4h0M582.6 421.2h0M551.1 423.8h0M545.4 428.8h0M562.0 459.0h0M518.6 470.3h0M490.2 411.4h0M569.1 479.3h0M580.3 463.7h0M557.3 487.1h0M551.9 489.5h0M515.2 412.1h0M588.4 429.3h0M497.1 445.9h0M557.2 490.9h0M516.0 449.8h0M522.4 449.8h0M540.8 489.4h0" stroke="#b5b5b5" stroke-width="3.30" stroke-linecap="round" fill="none"/>
<path d="M595.0 449.1h0M541.4 473.8h0M544.7 445.3h0M571.5 455.4h0M494.8 411.0h0M545.3 415.1h0M557.2 489.1h0M589.9 467.3h0M547.4 455.8h0M529.9 427.6h0M554.8 429.2h0M555.3 470.7h0M511.9 419.0h0M552.6 473.8h0M544.9 441.5h0M550.7 463.7h0M555.3 452.2h0M500.3 413.6h0M521.3 441.5h0M560.4 469.5h0M531.0 443.0h0M562.6 477.6h0M586.4 426.1h0M496.1 409.3h0M505.2 421.5h0M498.8 411.2h0M548.0 481.8h0M510.5 444.2h0M562.2 416.7h0M600.1 450.2h0M594.9 437.9h0M604.8 448.8h0M540.0 442.9h0M532.2 425.4h0M538.9 441.5h0M536.4 429.0h0M541.5 447.4h0M483.5 437.6h0M498.9 459.8h0M484.3 444.1h0M500.0 433.1h0M586.1 443.0h0M534.0 444.8h0M576.1 441.0h0M550.0 414.2h0M511.2 409.0h0M522.2 461.0h0M594.7 458.0h0M568.0 429.0h0M551.2 447.4h0M555.4 458.8h0M544.5 450.8h0M584.0 424.0h0M567.2 446.0h0M516.7 432.7h0M486.3 429.0h0M510.3 477.2h0M553.9 439.2h0M507.1 477.8h0M549.0 437.0h0M496.4 465.7h0M551.1 461.2h0M487.4 448.0h0M574.4 476.2h0M570.0 488.7h0M592.6 438.1h0M514.6 441.2h0M492.0 455.7h0M568.8 480.9h0M532.9 458.7h0M600.1 463.5h0M584.7 431.5h0M522.1 423.6h0M572.0 475.6h0M584.5 460.0h0M507.2 473.5h0M506.7 431.5h0M526.6 473.4h0M514.2 417.7h0M505.4 454.0h0M528.1 470.1h0M494.3 414.0h0M517.4 407.4h0M504.9 443.2h0M500.8 417.7h0M501.2 443.7h0M563.4 490.8h0M522.8 426.9h0M563.1 458.3h0M522.8 455.6h0M580.9 446.2h0M600.2 438.8h0M548.1 425.9h0M608.0 443.3h0M502.0 451.8h0M572.8 443.6h0M577.0 466.0h0M561.3 471.2h0M490.5 429.3h0M498.1 453.9h0M540.6 478.9h0M570.8 457.5h0M566.6 475.6h0M536.4 470.0h0M561.0 479.5h0M523.3 459.8h0M587.5 455.7h0M594.7 423.1h0M537.1 478.9h0M550.7 454.9h0M514.1 432.8h0M516.5 474.1h0M606.8 442.9h0M521.9 479.3h0M564.7 472.9h0M605.0 443.2h0M490.3 445.9h0M568.5 473.4h0M503.9 419.0h0M589.3 447.7h0M602.8 438.9h0M598.5 441.7h0M494.3 422.0h0M532.9 432.2h0M522.8 435.7h0M515.9 450.9h0M533.1 448.0h0M536.2 487.7h0M518.5 409.8h0M584.8 437.1h0M579.3 466.9h0M588.8 448.9h0M548.0 436.0h0M530.5 473.5h0M572.6 482.2h0M545.0 417.1h0M535.3 428.0h0M540.1 459.8h0M581.5 443.0h0M566.4 458.9h0M588.8 466.1h0M516.4 415.3h0M510.7 413.0h0M516.1 440.3h0M492.9 413.2h0M542.2 491.8h0M547.0 439.0h0M493.3 421.8h0M550.6 478.9h0M500.5 445.5h0M540.3 417.5h0M528.9 440.2h0M543.0 477.6h0M545.5 463.3h0M586.9 435.8h0M488.6 413.5h0M520.6 443.0h0M546.3 428.8h0M539.2 477.2h0M550.0 475.4h0M544.0 487.0h0M542.9 475.9h0M506.2 449.6h0M605.0 442.0h0M572.8 445.6h0M525.4 448.2h0M576.1 454.8h0M542.2 440.8h0M530.1 439.3h0M543.2 449.5h0M562.7 464.9h0M574.0 417.8h0M570.4 481.2h0M600.3 428.1h0M505.5 440.8h0M556.4 481.2h0M555.0 485.1h0M523.4 434.1h0M496.6 421.6h0M506.3 446.9h0M586.2 437.9h0M556.5 473.1h0M541.4 486.2h0M569.4 490.0h0M536.3 474.2h0M491.0 457.4h0M521.5 471.6h0M501.2 409.7h0M580.9 469.4h0M570.6 469.5h0M520.5 420.0h0M504.0 463.6h0M493.1 442.7h0M559.4 472.2h0M481.5 424.3h0M591.1 433.6h0M495.5 447.2h0M530.8 453.1h0M508.4 432.0h0M534.1 465.8h0M526.7 416.9h0M580.7 423.3h0M508.5 419.9h0M524.4 410.8h0M582.0 445.5h0M558.9 478.1h0M561.9 427.5h0M492.9 453.2h0M573.4 418.3h0M567.1 429.3h0M505.0 409.1h0M530.4 435.4h0M582.7 435.2h0M570.7 428.2h0M570.4 415.5h0M553.5 421.8h0M502.2 415.1h0M568.0 437.5h0M565.3 472.3h0M542.0 453.1h0M592.4 424.9h0M548.3 414.0h0M499.2 467.6h0M532.1 451.5h0M551.4 429.5h0M504.5 461.3h0M493.5 442.0h0M512.8 427.3h0M502.3 464.8h0M513.1 447.9h0M586.0 438.9h0M502.9 407.1h0M553.9 443.6h0M524.4 417.0h0M518.3 449.0h0M489.2 421.5h0M513.4 424.1h0M525.5 418.9h0M509.0 426.3h0M576.5 452.8h0M553.1 467.3h0M540.9 437.7h0M558.5 425.6h0M537.0 449.5h0M532.2 461.5h0M508.3 477.0h0M500.8 437.6h0M567.0 425.1h0M556.6 457.4h0M546.2 452.8h0M602.6 431.4h0M600.9 462.0h0M499.1 422.8h0M505.9 429.5h0M566.0 465.7h0M536.9 439.1h0M569.1 453.9h0M583.1 439.6h0M573.0 438.9h0M589.9 449.7h0M539.3 416.8h0M574.0 455.7h0M505.2 446.2h0M526.0 422.3h0M510.1 441.4h0M582.6 423.4h0M556.4 459.9h0M564.6 433.7h0M564.4 481.0h0M516.9 454.1h0M527.4 459.4h0M567.5 469.9h0M484.7 420.3h0M534.7 443.8h0M562.7 445.3h0M543.3 490.1h0M531.9 437.0h0M536.1 440.8h0M563.1 472.2h0M491.5 420.8h0M508.5 427.9h0M574.6 466.0h0M499.4 457.5h0M488.2 415.4h0M542.0 443.0h0M485.2 445.3h0M555.1 473.0h0M576.4 435.6h0M576.7 429.7h0M593.1 461.7h0M525.5 427.2h0M548.2 414.8h0M540.1 464.1h0M526.2 457.5h0M487.4 422.0h0M576.1 416.8h0M560.3 475.7h0M506.6 413.9h0M518.2 440.7h0M582.2 468.8h0M570.8 479.2h0M587.4 457.8h0M549.0 473.7h0M554.4 463.8h0M568.9 447.9h0M508.5 475.8h0M523.5 443.6h0M537.1 415.8h0M498.4 445.4h0M514.5 420.9h0M559.4 487.3h0M529.1 423.1h0M592.1 457.3h0M551.4 465.2h0M510.5 459.3h0M502.5 468.7h0M529.2 407.4h0M524.8 453.5h0M507.3 475.5h0M588.3 444.1h0M578.1 464.2h0M510.8 422.1h0M490.8 448.8h0M545.0 466.2h0" stroke="#bfbfbf" stroke-width="3.30" stroke-linecap="round" fill="none"/>
<path d="M551.0 448.9h0M518.3 475.6h0M536.4 453.6h0M556.6 468.0h0M530.3 445.9h0M547.4 412.2h0M525.4 455.9h0M528.2 441.4h0M561.4 464.2h0M520.6 460.3h0M505.4 470.0h0M528.8 473.8h0M541.3 431.2h0M577.1 423.1h0M565.0 466.3h0M559.4 428.2h0M530.1 437.0h0M560.9 461.7h0M535.1 458.8h0M545.4 481.0h0M490.1 459.1h0M546.9 465.8h0M511.1 411.9h0M503.1 462.2h0M570.1 462.8h0M585.2 434.0h0M551.9 438.7h0M508.5 428.8h0M492.0 419.6h0M518.7 414.1h0M591.2 439.8h0M547.0 417.2h0M507.1 425.4h0M494.0 406.8h0M528.1 436.2h0M508.5 407.2h0M531.9 455.0h0M547.0 486.8h0M537.0 452.0h0M600.1 437.0h0M513.3 461.5h0M564.8 427.8h0M516.7 447.8h0M586.7 429.7h0M507.1 423.9h0M507.0 415.1h0M509.4 448.3h0M521.1 424.8h0M572.7 455.0h0M549.5 451.2h0M538.7 470.7h0M522.9 475.9h0M584.8 417.5h0M534.5 428.8h0M539.0 433.4h0M514.2 459.3h0M595.5 447.6h0M569.0 442.9h0M579.0 447.7h0M578.6 429.0h0M550.1 444.7h0M498.6 462.8h0M564.4 459.0h0M556.9 436.1h0M527.3 450.2h0M494.4 464.0h0M568.9 465.7h0M516.0 443.6h0M488.3 427.5h0M562.3 467.4h0M592.5 423.2h0M593.2 447.7h0M591.2 451.6h0M568.4 467.2h0M550.9 453.7h0M509.9 424.1h0M594.3 443.7h0M541.3 477.7h0M546.2 470.8h0M516.6 411.4h0M566.5 472.8h0M552.8 417.4h0M508.5 414.2h0M532.8 410.8h0M578.6 450.8h0M512.2 430.1h0M550.6 452.1h0M536.3 434.0h0M550.7 438.2h0M565.0 435.8h0M566.4 435.4h0M563.4 442.1h0M525.0 425.6h0M548.7 453.0h0M488.7 419.4h0M591.1 441.7h0M538.9 475.6h0M526.8 480.8h0M506.1 418.8h0M505.4 411.7h0M602.3 433.6h0M485.2 423.7h0M488.7 449.1h0M539.2 470.2h0M535.4 448.9h0M538.4 439.7h0M500.9 424.7h0M515.5 449.3h0M553.1 469.8h0M492.1 458.7h0M505.5 412.8h0M597.2 424.9h0M519.2 407.8h0M502.2 414.1h0M525.2 437.9h0M569.1 468.8h0M567.5 416.9h0M543.2 417.3h0M527.9 454.8h0M550.3 485.1h0M546.1 483.1h0M544.3 453.0h0M527.5 440.0h0M565.4 477.7h0M588.0 439.4h0M580.7 459.3h0M606.5 447.1h0M561.0 458.8h0M526.0 456.3h0M547.1 481.3h0M521.0 413.5h0M604.9 440.0h0M516.4 409.2h0M527.1 412.1h0M494.7 455.2h0M528.0 438.0h0M501.0 466.8h0M500.3 435.0h0M530.6 422.8h0M605.3 437.3h0M507.0 459.0h0M495.4 466.9h0M561.1 458.0h0M500.9 410.8h0M513.2 478.9h0M563.2 474.1h0M529.1 476.2h0M564.1 480.1h0M538.1 429.5h0M511.0 447.5h0M566.3 433.9h0M509.4 457.3h0M556.7 475.4h0M544.8 437.3h0M556.4 495.7h0M549.0 485.8h0M522.9 437.1h0M552.2 429.2h0M564.3 441.6h0M522.1 440.9h0M546.6 413.4h0M592.1 443.3h0M568.8 434.3h0M546.4 415.3h0M582.7 425.1h0M556.0 476.7h0M536.0 431.8h0M571.0 445.4h0M501.1 427.1h0M520.4 415.9h0M530.9 457.6h0M555.0 478.1h0M522.9 457.5h0M528.8 458.8h0M494.6 432.9h0M510.3 455.8h0M526.0 441.8h0M516.6 425.4h0M570.7 465.5h0M552.5 434.1h0M516.0 460.0h0M572.4 478.3h0M542.7 466.8h0M496.7 434.2h0M566.0 461.4h0M534.5 407.0h0M488.5 454.2h0M553.2 432.1h0M566.6 443.1h0M491.3 427.0h0M545.0 447.3h0M504.1 433.4h0M558.6 468.0h0M563.3 494.2h0M486.4 417.3h0M586.1 459.4h0M526.1 424.9h0M570.1 443.0h0M544.3 439.3h0M594.0 451.0h0M561.1 443.6h0M569.5 483.4h0M585.3 435.9h0M539.0 485.6h0M519.0 426.8h0M554.7 487.3h0M590.0 453.8h0M505.2 448.1h0M540.8 475.5h0M518.0 452.0h0M581.2 457.1h0M560.8 477.5h0M530.9 440.8h0M506.7 411.4h0M540.9 466.9h0M506.3 427.4h0M503.4 425.9h0M579.2 427.8h0M572.2 428.7h0M550.3 457.2h0M598.6 443.4h0M600.6 443.3h0M488.9 457.4h0M543.9 483.9h0M558.2 462.0h0M590.6 435.3h0M510.5 452.3h0M571.1 459.0h0M498.7 417.7h0M585.5 441.7h0M555.1 461.7h0M524.9 471.3h0M584.5 450.2h0M520.3 409.0h0M509.3 421.9h0M569.1 441.9h0M502.5 460.1h0M552.8 416.0h0M526.9 451.7h0M528.3 450.0h0M577.4 431.2h0M523.1 473.8h0M603.0 453.0h0M593.3 448.8h0M562.5 475.2h0M538.5 480.2h0M514.5 409.6h0M597.2 436.1h0M578.0 455.6h0M505.1 466.8h0M565.4 470.1h0M599.5 447.4h0M556.9 470.1h0M540.0 450.1h0M511.0 417.8h0M562.7 479.0h0M534.1 411.4h0M535.4 435.8h0M515.1 478.3h0M530.1 451.2h0M581.9 460.0h0M559.4 473.5h0M602.6 456.0h0M533.4 441.2h0M586.4 421.8h0M560.6 474.2h0M532.7 443.4h0M567.1 472.0h0M499.3 432.8h0M529.0 453.6h0M536.0 447.9h0M567.9 459.5h0M531.2 414.0h0M500.4 460.1h0M557.4 480.3h0M564.9 414.8h0M518.4 438.2h0M535.4 431.7h0M500.8 465.1h0M588.4 467.4h0M573.5 466.1h0M574.5 423.2h0M565.3 440.2h0M519.1 457.1h0M484.3 441.7h0M540.0 469.6h0M574.3 430.0h0M590.8 460.8h0M562.7 439.9h0M594.5 438.9h0M511.4 424.8h0M500.3 421.7h0M570.9 417.3h0M556.8 425.5h0M556.1 471.7h0M563.1 470.3h0M582.4 431.1h0M513.2 425.4h0M552.0 461.9h0M544.6 448.7h0M524.5 475.4h0M588.1 445.9h0M516.0 421.3h0M498.2 469.3h0" stroke="#c8c8c8" stroke-width="3.30" stroke-linecap="round" fill="none"/>
<path d="M526.9 453.6h0M497.0 461.0h0M499.1 413.1h0M502.2 467.6h0M523.1 409.2h0M513.4 418.0h0M500.3 414.7h0M520.9 451.5h0M597.0 450.0h0M564.1 476.2h0M524.2 456.8h0M534.7 456.0h0M542.5 415.3h0M560.7 467.6h0M574.7 446.0h0M551.2 483.1h0M490.7 412.8h0M552.2 481.8h0M500.4 468.8h0M507.2 454.3h0M506.9 446.2h0M519.1 453.1h0M526.7 423.2h0M579.9 429.2h0M528.1 477.1h0M545.2 479.3h0M606.0 436.8h0M549.1 430.8h0M598.1 457.1h0M487.0 424.3h0M537.4 484.0h0M548.4 429.9h0M561.3 429.4h0M522.6 454.1h0M558.7 459.8h0M546.9 446.8h0M544.3 410.8h0M548.7 450.2h0M493.4 430.3h0M529.2 408.8h0M593.0 453.4h0M523.2 419.9h0M486.5 443.5h0M526.7 407.8h0M499.0 428.2h0M481.9 441.5h0M520.4 423.5h0M524.5 478.3h0M547.1 469.8h0M550.3 482.1h0M543.0 465.9h0M532.9 457.4h0M521.3 408.0h0M600.0 457.6h0M602.8 457.8h0M547.2 480.0h0M548.4 417.9h0M504.5 428.0h0M518.1 424.0h0M571.4 423.6h0M504.6 450.8h0M516.7 417.6h0M488.0 423.4h0M572.4 422.1h0M522.5 422.1h0M550.8 435.6h0M559.5 474.9h0M513.9 423.3h0M566.4 441.0h0M490.4 426.0h0M561.0 439.1h0M504.3 424.0h0M560.6 493.5h0M554.2 425.3h0M543.0 445.2h0M552.8 459.8h0M492.2 424.3h0M533.1 408.3h0M521.1 417.6h0M571.9 433.4h0M565.1 493.4h0M543.0 447.8h0M547.1 419.0h0M535.1 438.8h0M498.4 430.0h0M512.8 413.7h0M542.4 411.3h0M594.6 441.7h0M513.2 420.9h0M508.8 455.2h0M538.1 432.3h0M552.9 476.9h0M568.3 476.2h0M558.3 437.2h0M493.5 415.8h0M568.4 431.1h0M510.4 419.5h0M572.6 463.2h0M542.9 484.8h0M569.3 477.9h0M538.3 487.4h0M593.9 445.1h0M554.5 436.3h0M553.4 479.2h0M523.2 408.1h0M494.9 444.0h0M494.0 461.1h0M502.2 470.9h0M542.1 470.9h0M593.2 455.1h0M568.8 463.0h0M538.2 460.8h0M543.4 436.8h0M558.6 429.7h0M582.7 468.0h0M490.8 456.1h0M552.2 423.5h0M552.3 437.1h0M527.1 443.7h0M569.3 461.7h0M563.3 495.3h0M536.7 412.8h0M490.8 453.1h0M547.1 451.5h0M509.1 458.9h0M544.7 485.1h0M539.0 484.0h0M534.5 434.1h0M522.9 477.6h0M541.3 436.1h0M549.4 483.0h0M532.4 445.1h0M548.4 477.2h0M600.4 456.2h0M598.5 453.0h0M527.3 479.8h0M526.9 413.1h0M498.8 426.2h0M520.8 455.5h0M526.3 435.7h0M590.0 437.0h0M589.2 418.0h0M527.9 480.2h0M556.9 464.7h0M573.2 462.0h0M578.8 426.3h0M551.9 464.2h0M565.5 425.2h0M489.5 416.9h0M565.1 463.5h0M574.0 458.9h0M555.4 437.8h0M511.4 415.3h0M524.9 422.1h0M522.1 426.0h0M597.1 446.1h0M601.3 447.3h0M532.5 478.1h0M531.2 455.1h0M530.6 406.9h0M545.1 432.3h0M575.4 462.8h0M532.8 438.9h0M567.2 463.7h0M546.3 484.8h0M519.9 453.3h0M512.7 407.6h0M552.1 427.2h0M518.5 417.2h0M590.7 445.9h0M498.9 465.7h0M530.0 449.6h0M570.4 441.4h0M570.8 425.1h0M526.9 475.0h0M496.1 423.3h0M522.0 470.2h0M533.9 452.1h0M543.2 451.0h0M596.4 457.8h0M560.9 495.8h0M567.1 477.4h0M579.3 458.3h0M603.3 442.0h0M544.4 467.4h0M496.0 413.2h0M563.2 431.1h0M502.9 463.6h0M560.5 465.8h0M548.6 433.5h0M484.4 425.8h0M556.0 437.0h0" stroke="#d1d1d1" stroke-width="3.30" stroke-linecap="round" fill="none"/>
<path d="M554.8 432.2h0M499.2 432.0h0M561.1 434.2h0M579.1 421.7h0M575.9 426.8h0M577.1 462.9h0M500.5 429.2h0M488.9 455.1h0M580.7 427.6h0M540.5 433.4h0M520.4 449.7h0M596.6 452.1h0M508.5 414.9h0M496.2 462.7h0M504.7 430.0h0M565.1 466.8h0M538.4 408.3h0M580.2 467.2h0M515.4 451.0h0M512.6 455.8h0M596.1 455.5h0M518.0 416.1h0M601.3 453.0h0M558.9 438.8h0M554.6 470.2h0M570.7 477.2h0M577.1 460.7h0M554.6 480.8h0M539.2 437.0h0M508.9 449.7h0M562.9 433.8h0M536.4 481.3h0M494.6 430.8h0M582.2 461.9h0M574.5 425.8h0M558.0 464.0h0M530.3 479.7h0M538.5 445.6h0M555.5 434.0h0M488.3 447.1h0M582.0 429.1h0M558.2 469.4h0M520.1 421.0h0M497.2 430.0h0M525.4 407.7h0M583.1 428.0h0M512.4 459.3h0M556.9 431.5h0M576.6 425.7h0M584.9 429.3h0M532.1 453.4h0M492.6 461.5h0M567.3 492.2h0M559.1 433.2h0M538.0 409.1h0M602.0 436.7h0M496.0 425.7h0M580.2 465.1h0M574.3 457.5h0M572.7 424.1h0M556.0 462.8h0M515.1 456.8h0M500.3 432.1h0M530.1 408.9h0M522.7 414.8h0M578.5 423.4h0M486.0 426.3h0M494.7 459.9h0M542.3 435.3h0M597.1 423.5h0M509.9 457.9h0M539.2 444.0h0M534.5 487.8h0M582.8 463.3h0M494.9 427.6h0M579.2 459.5h0M539.3 482.2h0M542.6 433.2h0M564.9 437.3h0M503.2 445.1h0M592.8 440.1h0M572.1 459.9h0M493.5 431.1h0M595.1 454.9h0M508.9 454.2h0M547.0 448.8h0M509.3 452.1h0M543.2 483.4h0M585.1 424.9h0M525.3 441.9h0M552.1 434.8h0M602.8 451.4h0M516.3 456.1h0M494.5 428.9h0M536.2 407.4h0M537.0 443.6h0M578.2 461.2h0M493.3 428.1h0M581.4 431.9h0M518.5 459.8h0M516.3 457.9h0M485.2 421.7h0M526.4 476.7h0M585.9 466.7h0M572.0 426.9h0M542.2 412.9h0M536.4 437.1h0M562.7 462.8h0M540.7 411.1h0M566.6 439.2h0M516.8 423.6h0M558.5 431.3h0M540.2 483.0h0M546.0 435.8h0M502.8 429.9h0M556.5 433.8h0M514.3 456.1h0M529.2 444.8h0M512.4 453.3h0M581.9 458.1h0M502.0 428.2h0M520.7 458.0h0M541.4 465.9h0M564.7 443.0h0M606.5 438.9h0M577.4 421.3h0M497.1 427.6h0M561.3 437.8h0M562.2 435.1h0M499.9 463.7h0M558.0 434.9h0M531.1 477.9h0M544.9 433.4h0M583.2 466.2h0M559.9 435.8h0M548.8 465.6h0M598.2 455.6h0M595.5 453.5h0M576.7 459.2h0M550.3 487.8h0M564.9 431.9h0M563.5 437.8h0M510.1 450.2h0M536.7 485.0h0M534.1 475.7h0M543.9 413.5h0M550.5 467.0h0M558.2 465.7h0M495.3 465.0h0M559.9 431.0h0M513.0 456.8h0M510.9 453.6h0M493.2 425.7h0M584.3 465.5h0M551.3 431.9h0M518.6 455.3h0M547.2 437.1h0M497.2 431.1h0M597.9 423.4h0M519.3 422.0h0M486.2 420.1h0M566.6 493.9h0M557.2 430.3h0M546.4 433.9h0M541.4 482.1h0M540.8 488.2h0M579.5 464.8h0M575.0 461.0h0M572.0 426.0h0M540.2 408.9h0M498.7 462.3h0M575.3 428.2h0M533.0 409.8h0M494.0 425.9h0M551.3 433.4h0M490.5 423.7h0M592.9 451.7h0M512.2 451.9h0M577.4 456.9h0M508.4 417.8h0M599.4 451.6h0M581.4 460.8h0M554.4 465.8h0M544.3 435.8h0M584.5 462.9h0M596.2 453.5h0M540.8 414.1h0M581.4 425.4h0M514.8 453.1h0M563.0 443.4h0M539.0 435.0h0M544.5 471.5h0M599.1 449.1h0" stroke="#dadada" stroke-width="3.30" stroke-linecap="round" fill="none"/>
<path d="M542.0 426.0h0M505.1 436.7h0M517.3 428.5h0M541.2 432.3h0M518.8 425.1h0M514.7 400.7h0M561.5 389.8h0M534.5 386.2h0M512.7 451.0h0M549.4 381.7h0M565.6 379.7h0M536.7 420.6h0M559.5 399.8h0M531.7 387.0h0M539.9 426.4h0M538.4 385.9h0M579.4 415.1h0M547.5 426.2h0M581.0 422.3h0M545.2 424.6h0M537.8 417.0h0M539.3 390.0h0M534.9 412.0h0M541.0 424.0h0M547.7 422.7h0M549.3 435.2h0M577.5 420.9h0M542.5 388.2h0M507.4 434.6h0M541.0 417.9h0M536.0 390.0h0M552.6 378.4h0M537.9 390.3h0M567.4 427.8h0M538.8 421.8h0M559.4 418.4h0M555.6 383.1h0M543.2 428.7h0M521.9 430.9h0M523.7 428.6h0M511.7 427.9h0M517.3 426.6h0M517.1 418.8h0M526.5 432.8h0M579.3 411.8h0M535.0 410.2h0M529.1 444.2h0M531.5 389.8h0M511.5 452.1h0M561.2 376.7h0M533.3 418.0h0M535.2 382.4h0M565.1 422.6h0M561.7 386.1h0M540.5 387.7h0M507.7 432.3h0M523.1 442.2h0M579.5 423.0h0M519.4 426.8h0M523.8 396.2h0M521.2 425.7h0M519.7 428.8h0M535.5 388.2h0M532.7 392.3h0M573.8 412.0h0M581.6 410.7h0M546.6 423.9h0M543.4 432.9h0M541.0 416.5h0M567.5 426.1h0M525.0 441.2h0M509.5 434.5h0M556.5 373.9h0M527.1 436.6h0M517.2 399.1h0M524.6 395.0h0M515.5 455.9h0M574.7 394.1h0M532.7 434.3h0M534.9 416.0h0M585.1 423.0h0M539.7 429.0h0M549.2 432.2h0M535.7 391.8h0M568.8 415.2h0M571.8 428.5h0M547.7 427.9h0M552.5 380.5h0M579.0 416.4h0M533.7 390.9h0M531.2 448.3h0" stroke="#c898d0" stroke-width="3.30" stroke-linecap="round" fill="none"/>
<path d="M517.2 435.9h0M514.9 426.9h0M547.3 398.6h0M552.4 376.1h0M537.8 380.9h0M575.7 411.2h0M531.0 410.0h0M543.0 393.7h0M510.5 438.2h0M551.6 434.2h0M513.5 454.0h0M558.5 402.8h0M525.2 434.0h0M544.6 434.3h0M549.2 425.1h0M536.6 423.2h0M542.7 418.6h0M564.6 424.9h0M572.0 371.7h0M549.2 375.9h0M561.2 426.2h0M515.2 449.9h0M576.7 418.2h0M556.6 400.2h0M563.7 380.8h0M566.9 384.7h0M583.5 422.7h0M521.9 435.2h0M539.1 411.7h0M523.0 438.1h0M527.7 444.4h0M524.5 433.2h0M532.7 388.7h0M535.5 447.2h0M559.7 385.8h0M531.8 418.1h0M561.0 410.7h0M516.9 453.8h0M570.8 392.3h0M575.6 437.0h0M532.9 386.1h0M581.8 416.1h0M508.8 430.5h0M561.2 384.8h0M516.5 434.8h0M513.1 407.8h0M544.5 422.7h0M565.9 389.8h0M511.9 405.2h0M551.2 422.0h0M551.3 439.0h0M540.5 430.2h0M534.8 448.0h0M551.8 400.6h0M589.0 424.7h0M516.7 406.4h0M539.8 416.4h0M535.8 418.2h0M529.8 442.8h0M522.9 424.6h0M557.6 378.7h0M519.5 396.4h0M546.6 435.8h0M537.2 386.4h0M509.7 404.9h0M565.3 420.8h0M528.8 434.9h0M551.0 431.8h0M557.1 384.1h0M542.7 420.1h0M569.8 428.4h0M585.2 426.8h0M563.2 399.8h0M515.9 446.4h0M556.7 405.0h0M564.9 415.7h0M540.5 428.6h0M549.7 430.9h0M555.7 378.3h0M521.0 422.2h0M563.7 378.4h0M563.9 425.3h0M551.3 426.8h0M564.8 374.7h0M565.1 397.9h0M555.9 407.1h0M568.4 430.3h0M524.5 426.9h0M559.0 383.9h0M571.7 413.1h0M569.0 390.8h0M539.2 413.8h0M565.7 427.9h0M562.0 430.9h0M568.6 424.1h0M513.2 427.0h0M531.4 441.8h0M511.4 406.3h0M547.0 380.2h0M524.5 431.0h0M557.7 375.8h0M566.6 371.8h0M568.7 422.9h0M561.8 372.2h0M515.3 423.0h0M567.9 430.5h0M559.3 408.2h0M559.9 419.9h0M540.5 396.5h0M544.8 420.4h0M573.4 422.1h0M523.2 435.8h0M561.8 421.7h0M572.8 414.9h0M522.5 426.4h0M521.6 423.8h0M524.8 417.3h0M514.7 424.6h0M534.9 438.7h0M515.3 449.0h0M565.8 392.0h0M553.7 407.9h0M565.6 412.8h0M564.4 377.2h0M531.6 446.8h0M545.6 381.1h0M546.0 430.6h0M550.7 436.8h0M530.0 411.8h0M538.8 388.7h0M575.5 413.0h0M557.5 379.9h0" stroke="#d0a4d7" stroke-width="3.30" stroke-linecap="round" fill="none"/>
<path d="M521.6 433.1h0M515.4 402.5h0M560.5 428.4h0M543.4 430.3h0M518.5 420.9h0M569.0 419.8h0M572.9 395.7h0M536.8 449.0h0M515.1 434.4h0M519.0 454.2h0M561.2 400.0h0M544.5 418.0h0M559.4 370.8h0M539.1 442.4h0M509.8 431.9h0M528.7 392.1h0M517.8 420.9h0M575.1 415.0h0M571.2 423.9h0M547.0 430.7h0M570.7 416.2h0M541.9 420.5h0M547.3 438.7h0M565.8 394.7h0M523.0 430.1h0M551.9 376.2h0M552.7 410.5h0M534.9 400.7h0M563.5 395.2h0M520.9 395.1h0M519.1 416.2h0M567.3 432.5h0M553.1 372.8h0M532.6 444.0h0M533.4 383.0h0M517.7 422.4h0M588.5 422.0h0M586.5 426.9h0M559.1 424.2h0M545.9 385.2h0M513.8 402.6h0M535.9 414.0h0M561.3 420.2h0M528.7 402.2h0M539.1 420.7h0M536.0 422.3h0M560.0 377.1h0M563.6 434.2h0M520.6 392.3h0M523.4 401.0h0M560.9 398.9h0M566.7 386.8h0M539.4 392.4h0M565.0 429.7h0M561.5 404.3h0M526.8 438.5h0M555.9 409.1h0M562.7 391.0h0M555.2 374.9h0M515.7 417.9h0M565.1 386.4h0M533.4 416.0h0M547.3 404.1h0M558.9 395.0h0M519.4 440.5h0M530.6 412.8h0M519.7 430.0h0M540.9 412.7h0M539.1 430.2h0M515.3 415.8h0M561.7 417.9h0M545.0 429.2h0M513.9 422.2h0M574.8 418.0h0M550.7 379.7h0M525.2 391.8h0M523.1 432.4h0M567.7 391.9h0M516.4 433.0h0M533.5 410.2h0M529.7 438.0h0M577.4 412.5h0M514.7 431.2h0M537.1 444.4h0M542.9 435.0h0M557.9 410.4h0M528.8 449.1h0M509.5 437.2h0M542.7 422.2h0M570.7 430.2h0M559.3 382.2h0M513.7 432.2h0M529.6 391.1h0M535.0 451.2h0M552.8 374.5h0M570.5 431.8h0M543.5 425.2h0M530.7 394.9h0M535.6 441.9h0M553.2 433.0h0M587.6 422.5h0M527.1 396.4h0M517.4 402.0h0M525.4 397.3h0M535.1 405.9h0M587.8 424.1h0M567.4 419.9h0M550.5 430.6h0M555.6 411.7h0M546.0 435.9h0M510.6 450.1h0M548.9 389.8h0M553.0 383.0h0M568.7 387.2h0M534.0 407.2h0M581.1 401.2h0M562.9 422.3h0M557.3 430.9h0M560.9 379.0h0M557.9 418.2h0M563.8 415.8h0M511.0 411.9h0M549.8 394.4h0M522.7 392.6h0M557.7 398.8h0M564.8 418.5h0M563.7 427.9h0M522.7 435.3h0M569.1 417.9h0M579.2 408.3h0M511.8 442.6h0M527.2 395.2h0M573.9 418.9h0M573.6 420.0h0M508.9 448.9h0M542.7 417.2h0M523.1 440.4h0M565.8 406.4h0M559.9 381.1h0M571.7 388.9h0M517.9 424.1h0M581.5 413.0h0M563.8 374.4h0M539.6 398.1h0M578.8 418.6h0M578.9 421.1h0M580.7 418.4h0M528.4 415.2h0M546.6 392.7h0M542.4 426.3h0M521.8 436.1h0M541.3 421.7h0M532.6 384.5h0M585.3 429.3h0M543.2 435.7h0M563.9 419.1h0M578.6 424.1h0M518.7 452.3h0M511.6 421.0h0M547.1 433.1h0M517.2 450.0h0M536.9 384.5h0M519.1 398.3h0M545.9 388.6h0M560.9 381.8h0M560.8 392.7h0M537.0 389.1h0M547.1 441.1h0M549.0 425.9h0M543.2 392.1h0M550.9 383.7h0M563.3 396.8h0M558.7 374.7h0M537.3 382.0h0M511.7 441.2h0M572.9 390.1h0" stroke="#d7afdd" stroke-width="3.30" stroke-linecap="round" fill="none"/>
<path d="M561.7 408.9h0M575.4 419.7h0M557.0 386.9h0M513.6 417.7h0M513.1 434.3h0M515.7 428.6h0M509.1 449.9h0M515.6 410.8h0M556.9 372.2h0M547.9 421.3h0M516.9 400.1h0M555.0 428.3h0M536.5 404.2h0M580.8 405.2h0M524.8 445.1h0M541.2 383.0h0M571.9 414.3h0M567.0 393.9h0M552.9 440.2h0M541.4 392.8h0M540.9 409.3h0M535.3 409.1h0M527.7 440.6h0M558.5 441.8h0M531.9 391.8h0M513.6 400.5h0M555.9 399.1h0M567.3 378.2h0M570.4 422.2h0M542.9 412.8h0M516.7 415.2h0M573.9 429.3h0M509.0 446.0h0M577.5 405.3h0M516.7 444.6h0M561.7 414.2h0M518.6 394.1h0M523.2 453.8h0M529.6 437.0h0M562.5 426.1h0M526.4 428.3h0M540.8 390.4h0M550.8 442.3h0M519.5 418.8h0M561.8 424.8h0M563.3 414.3h0M513.6 406.0h0M543.4 404.9h0M546.7 384.5h0M557.4 413.9h0M574.5 415.9h0M531.8 388.8h0M557.9 389.7h0M540.8 387.0h0M519.5 456.0h0M525.4 401.1h0M535.8 423.8h0M573.4 416.1h0M549.3 387.9h0M535.9 394.5h0M543.9 440.1h0M568.6 400.6h0M543.6 410.2h0M551.8 396.6h0M539.2 441.2h0M548.0 434.9h0M544.8 426.8h0M543.0 406.1h0M554.4 426.7h0M558.8 396.3h0M545.5 441.0h0M543.2 403.0h0M546.4 410.7h0M547.1 382.9h0M535.2 384.1h0M566.8 370.6h0M555.9 386.1h0M563.5 408.6h0M582.7 420.7h0M575.3 407.2h0M527.5 434.0h0M550.5 441.3h0M543.7 378.0h0M527.1 390.2h0M553.2 439.1h0M561.2 411.8h0M569.9 394.9h0M525.8 424.5h0M523.7 421.9h0M567.0 402.8h0M553.1 401.9h0M576.8 423.8h0M509.6 409.1h0M551.4 404.6h0M525.6 443.3h0M513.9 452.8h0M563.2 432.7h0M510.5 434.1h0M573.0 392.9h0M519.6 449.8h0M540.8 415.1h0M535.2 428.0h0M547.5 444.3h0M561.5 433.2h0M515.4 412.2h0M552.6 384.7h0M565.8 432.5h0M516.6 442.8h0M568.5 387.8h0M522.5 418.9h0M552.5 437.2h0M565.9 426.0h0M511.2 448.9h0M536.5 439.2h0M533.1 440.0h0M513.2 423.7h0M565.9 389.0h0M547.7 414.9h0M538.4 423.9h0M524.7 408.8h0M566.5 434.2h0M580.5 413.9h0M549.9 437.0h0M577.2 416.1h0M539.9 419.1h0M543.3 390.1h0M544.9 438.0h0M580.4 425.1h0M511.1 446.2h0M529.5 407.1h0M515.6 407.9h0M528.5 389.0h0M555.1 393.1h0M569.6 412.7h0M533.1 441.8h0M547.4 377.7h0M528.4 440.2h0M541.0 435.0h0M513.9 439.2h0M563.9 429.7h0M555.9 393.9h0M524.7 439.2h0M532.7 446.2h0M515.7 405.1h0M573.4 425.7h0M523.5 390.9h0M555.6 411.0h0M561.0 417.2h0M551.6 395.3h0M532.8 403.8h0M506.9 441.1h0M524.8 421.8h0M524.7 398.1h0M528.6 408.6h0M532.0 400.6h0M536.7 417.8h0M574.6 396.8h0M531.9 403.8h0M562.7 384.6h0M537.2 410.0h0M556.0 433.1h0M546.0 396.5h0M534.6 401.9h0M520.8 428.9h0M534.0 422.2h0M534.4 421.1h0M545.8 401.1h0M530.7 415.9h0M520.5 448.7h0M569.1 378.2h0M514.7 453.1h0M555.6 373.0h0M510.4 430.6h0M511.2 458.0h0M559.9 428.7h0M521.5 420.5h0M533.0 414.9h0M572.0 410.2h0M504.5 438.4h0M581.3 427.8h0M545.4 393.0h0M562.9 388.7h0M566.0 384.8h0M530.5 398.6h0M555.7 442.1h0M527.3 418.1h0M531.9 440.2h0M521.8 397.2h0M560.7 374.6h0M516.4 430.3h0M517.8 456.0h0M576.4 414.9h0M561.9 441.8h0M567.3 412.1h0M541.3 395.0h0M545.9 410.6h0M551.5 410.3h0M565.4 414.3h0M518.8 422.6h0M553.3 401.2h0M564.0 406.5h0M539.9 382.3h0M535.6 444.7h0M557.3 423.0h0" stroke="#debae3" stroke-width="3.30" stroke-linecap="round" fill="none"/>
<path d="M537.4 445.9h0M521.2 454.1h0M528.7 429.9h0M568.8 401.9h0M546.7 400.9h0M546.9 395.1h0M569.5 398.1h0M552.8 386.9h0M561.7 381.1h0M556.4 406.8h0M553.2 428.4h0M560.4 434.2h0M519.7 401.1h0M531.0 408.4h0M532.4 438.1h0M575.9 408.8h0M557.6 369.0h0M557.5 411.8h0M519.0 437.9h0M511.4 408.5h0M562.6 443.7h0M565.4 410.8h0M549.8 384.2h0M514.6 399.3h0M573.2 436.5h0M560.6 403.0h0M513.6 417.3h0M530.0 450.7h0M571.3 368.6h0M544.5 432.0h0M541.1 443.2h0M562.6 393.0h0M558.5 392.6h0M538.7 411.0h0M515.6 406.8h0M569.0 410.7h0M510.0 416.2h0M549.8 416.7h0M529.6 425.1h0M533.2 451.3h0M515.1 442.7h0M561.3 369.9h0M577.1 409.9h0M526.0 446.1h0M531.9 423.0h0M549.9 374.9h0M521.0 404.7h0M569.9 416.4h0M516.5 411.8h0M555.2 385.1h0M512.7 442.1h0M555.0 401.9h0M526.5 415.8h0M527.0 426.8h0M542.7 398.9h0M550.9 429.1h0M535.5 441.2h0M541.3 381.0h0M559.7 378.9h0M567.1 421.8h0M575.8 429.2h0M530.7 437.2h0M572.6 431.1h0M529.4 453.1h0M540.4 404.3h0M559.5 430.7h0M559.3 426.1h0M549.3 428.5h0M506.8 435.8h0M528.9 393.9h0M553.6 399.0h0M510.8 424.9h0M550.8 423.8h0M548.6 418.2h0M517.5 452.8h0M554.9 400.2h0M522.6 449.9h0M552.0 399.0h0M563.7 382.1h0M554.8 396.9h0M537.3 426.3h0M559.9 440.0h0M549.3 442.4h0M558.6 410.8h0M555.2 376.7h0M562.7 367.7h0M571.9 426.5h0M570.9 404.4h0M577.3 434.9h0M571.5 375.9h0M529.5 403.8h0M515.6 438.0h0M562.8 436.4h0M571.9 390.7h0M562.0 388.8h0M514.0 431.2h0M537.4 398.8h0M575.0 426.4h0M542.6 400.3h0M562.9 375.9h0M564.4 396.8h0M510.4 409.9h0M527.0 430.1h0M507.6 442.4h0M545.5 382.6h0M562.5 398.9h0M539.5 406.5h0M575.7 424.0h0M533.8 398.6h0M533.8 412.2h0M514.5 453.8h0M517.3 409.8h0M572.4 409.8h0M545.6 414.1h0M565.5 400.5h0M569.0 405.8h0M547.8 386.9h0M556.9 382.8h0M525.1 419.3h0M550.9 374.9h0M521.1 452.5h0M537.1 412.7h0M570.9 394.2h0M564.9 404.2h0M550.7 401.8h0M567.1 374.4h0M537.7 414.6h0M562.7 403.7h0M557.5 408.8h0M555.7 421.1h0M520.5 437.7h0M565.1 402.9h0M537.2 433.2h0M537.2 392.9h0M562.4 421.1h0M507.3 438.9h0M566.9 364.3h0M558.6 388.2h0M545.8 397.8h0M566.7 396.5h0M549.4 386.8h0M546.7 402.9h0M556.8 425.1h0M525.6 428.1h0M570.8 420.7h0M513.4 415.2h0M537.6 400.8h0M559.0 432.2h0M522.9 420.1h0M529.5 418.2h0M518.5 402.6h0M509.9 439.0h0M571.9 418.7h0M565.4 368.3h0M542.8 396.8h0M520.8 401.7h0M527.6 408.2h0M551.8 418.6h0M519.3 404.7h0M563.0 372.2h0M541.0 446.6h0M546.5 418.6h0M538.8 395.8h0M528.5 398.1h0M516.9 405.0h0M510.5 422.5h0M552.9 412.0h0M560.0 406.1h0M555.8 389.8h0M545.9 394.4h0M558.4 398.2h0M558.0 402.9h0M530.8 425.2h0M531.6 443.9h0M533.3 447.8h0M536.6 405.9h0M549.1 398.1h0M546.8 376.1h0M529.2 447.2h0M555.0 435.1h0M556.7 428.4h0M527.3 422.0h0M521.4 440.8h0M541.2 401.8h0M520.0 414.2h0M566.9 415.8h0M553.2 394.5h0M524.0 409.0h0M535.6 435.8h0M528.5 400.3h0M547.2 387.9h0M569.1 368.2h0M565.5 378.4h0M533.2 395.0h0M525.1 449.2h0M553.0 427.2h0M571.9 408.0h0M544.8 408.8h0M516.9 446.6h0M518.6 434.4h0M569.7 435.0h0M514.5 432.0h0M540.8 385.3h0M536.5 395.1h0M567.3 418.5h0M518.6 413.1h0M563.3 402.9h0M513.5 428.0h0M515.2 436.3h0M561.6 368.4h0M573.5 432.8h0M559.5 416.4h0M523.1 445.7h0M517.3 437.7h0M541.8 436.8h0M573.8 407.1h0M548.5 381.1h0M517.9 448.8h0M522.8 393.8h0M544.5 406.5h0M527.7 406.4h0M580.9 408.3h0M559.6 368.2h0M539.3 400.4h0M514.9 444.5h0M580.9 420.6h0M535.8 404.2h0M561.6 406.6h0M523.1 449.0h0M558.9 390.2h0M567.8 400.1h0M531.5 420.9h0" stroke="#e4c4e8" stroke-width="3.30" stroke-linecap="round" fill="none"/>
<path d="M563.7 440.8h0M566.5 406.5h0M542.8 445.1h0M556.8 435.8h0M555.7 422.6h0M541.7 444.4h0M530.0 396.6h0M569.7 396.2h0M563.3 410.5h0M557.5 394.0h0M568.8 371.1h0M543.7 414.5h0M517.0 396.0h0M523.1 415.3h0M555.6 440.1h0M552.8 389.0h0M553.7 404.3h0M513.4 404.8h0M549.1 406.3h0M512.9 436.1h0M553.7 392.6h0M553.2 416.9h0M523.1 415.7h0M526.7 402.9h0M567.3 382.5h0M554.0 431.0h0M573.0 434.4h0M564.0 370.5h0M544.8 417.0h0M564.7 438.9h0M533.9 437.0h0M522.8 444.4h0M524.9 451.2h0M531.9 402.8h0M559.6 404.2h0M557.7 431.8h0M535.1 435.2h0M557.2 438.5h0M509.8 422.5h0M520.4 450.0h0M530.5 450.8h0M577.4 423.3h0M543.7 383.3h0M575.6 393.1h0M579.7 428.4h0M579.4 426.6h0M557.0 420.2h0M527.3 414.5h0M513.1 458.9h0M543.9 387.1h0M568.7 374.8h0M529.4 416.6h0M529.4 410.4h0M527.7 419.7h0M526.7 400.0h0M558.4 414.4h0M541.4 410.9h0M546.7 406.2h0M513.4 410.2h0M525.9 419.7h0M539.9 432.7h0M543.3 441.7h0M549.3 378.9h0M568.0 379.7h0M571.2 433.8h0M510.6 432.8h0M525.0 454.3h0M513.1 413.3h0M513.9 456.2h0M536.9 439.7h0M517.7 415.8h0M549.9 414.5h0M579.5 407.3h0M560.5 395.2h0M549.0 400.3h0M533.0 423.9h0M530.5 385.1h0M549.8 408.1h0M521.3 397.8h0M529.0 419.7h0M522.7 397.9h0M567.7 404.6h0M565.4 436.5h0M533.2 430.3h0M508.8 444.2h0M573.6 424.9h0M521.7 416.3h0M566.9 414.6h0M530.4 396.6h0M527.1 405.1h0M577.9 396.9h0M555.5 415.0h0M571.7 395.8h0M527.9 393.2h0M527.2 442.6h0M555.6 437.1h0M551.3 382.8h0M519.4 432.0h0M562.6 385.8h0M529.4 426.9h0M568.6 392.6h0M539.2 435.9h0M509.3 421.3h0M555.9 424.9h0M520.5 414.9h0M545.3 390.4h0M535.8 396.9h0M550.5 388.2h0M549.1 392.0h0M542.8 383.9h0M587.0 428.8h0M524.6 452.8h0M574.4 422.7h0M531.7 429.0h0M509.3 454.2h0M577.0 436.0h0M535.0 399.0h0M576.9 408.0h0M557.2 434.1h0M515.8 413.7h0M540.0 435.0h0M554.9 430.5h0M566.6 390.2h0M569.1 380.6h0M539.4 404.2h0M511.8 443.7h0M511.5 426.1h0M553.4 389.8h0M555.5 381.1h0M555.7 417.2h0M579.4 433.2h0M527.6 449.3h0M551.9 386.5h0M532.6 395.8h0M539.3 438.6h0M539.1 381.0h0M521.1 410.2h0M521.8 401.1h0M567.6 408.8h0M559.9 412.7h0M532.9 400.7h0M512.4 445.0h0M543.7 376.5h0M553.4 441.8h0M559.4 437.0h0M540.0 443.7h0M535.6 433.0h0M510.7 436.7h0M573.9 394.2h0M557.2 395.9h0M529.5 423.1h0M576.7 430.2h0M505.0 439.9h0M548.9 405.1h0M583.3 428.4h0M525.6 402.2h0M555.3 388.7h0M538.7 408.2h0M569.8 363.0h0M583.1 427.1h0M533.5 407.8h0M545.1 402.1h0M576.7 398.1h0M552.8 435.2h0M560.8 396.0h0M573.1 372.3h0M529.0 429.0h0M557.1 416.3h0M543.1 438.0h0M543.9 379.9h0M540.7 399.8h0M546.8 390.7h0M513.6 447.9h0M552.0 408.8h0M531.8 406.9h0M533.4 426.4h0M559.6 439.0h0M514.8 440.3h0M509.3 442.1h0M556.5 371.2h0M536.8 403.2h0M555.0 404.6h0M513.3 421.2h0" stroke="#e9cdec" stroke-width="3.30" stroke-linecap="round" fill="none"/>
<path d="M533.2 420.7h0M568.9 366.0h0M571.5 403.2h0M560.6 440.9h0M525.1 406.4h0M571.0 375.3h0M527.3 452.8h0M584.8 424.0h0M517.7 394.1h0M549.8 440.6h0M522.5 453.0h0M545.2 386.3h0M573.2 374.8h0M572.7 370.1h0M547.7 395.9h0M541.1 440.1h0M508.7 414.8h0M565.0 382.1h0M564.6 443.0h0M565.1 440.5h0M567.2 387.9h0M511.5 454.4h0M511.6 418.9h0M522.0 418.2h0M535.6 426.6h0M569.3 426.8h0M508.8 452.6h0M579.8 405.1h0M513.1 459.8h0M570.8 399.0h0M557.7 440.7h0M532.4 429.2h0M575.4 400.8h0M545.1 442.2h0M541.1 438.6h0M522.5 406.7h0M543.8 408.6h0M553.6 421.9h0M553.9 406.7h0M514.8 420.0h0M550.7 406.9h0M555.8 370.0h0M577.6 427.0h0M539.8 401.9h0M527.7 409.9h0M537.0 397.2h0M565.7 408.4h0M526.7 399.2h0M579.4 431.0h0M521.4 412.7h0M577.0 406.8h0M518.8 442.2h0M553.0 396.3h0M540.6 379.1h0M566.8 424.8h0M566.5 365.9h0M539.8 394.6h0M565.9 369.9h0M550.9 391.8h0M511.9 415.2h0M509.5 440.8h0M557.8 427.2h0M536.4 442.0h0M583.2 425.2h0M569.4 376.5h0M545.5 375.8h0M578.8 410.5h0M519.1 408.7h0M565.1 434.4h0M573.8 404.1h0M574.7 404.0h0M531.9 434.6h0M510.7 455.8h0M559.6 371.8h0M547.4 442.0h0M570.8 369.8h0M577.4 429.2h0M539.7 384.1h0M549.5 421.0h0M521.8 444.6h0M537.4 424.9h0M518.6 448.7h0M581.9 426.7h0M531.1 414.3h0M568.5 432.4h0M568.6 372.7h0M507.1 420.5h0M550.7 416.1h0M555.7 419.0h0M573.4 401.1h0M581.0 430.7h0M550.8 390.4h0M510.8 416.5h0M549.6 396.0h0M548.0 411.7h0M567.8 376.4h0M537.9 436.0h0M509.2 419.2h0M540.5 398.2h0M567.9 410.6h0M531.0 438.2h0M570.9 401.2h0M518.5 436.6h0M517.8 408.1h0M581.1 402.0h0M549.6 409.8h0M524.9 436.6h0M573.0 398.9h0M529.9 431.9h0" stroke="#eed7f0" stroke-width="3.30" stroke-linecap="round" fill="none"/>
<path d="M548.6 439.2h0M573.4 402.1h0M522.0 446.2h0M551.7 412.3h0M565.5 372.0h0M581.5 406.1h0M579.2 435.3h0M563.4 437.7h0M567.0 398.1h0M573.2 408.5h0M545.9 412.4h0M570.9 406.0h0M554.9 438.3h0M552.0 420.0h0M531.9 432.1h0M552.8 418.9h0M558.8 433.8h0M545.6 378.0h0M519.1 409.9h0M522.4 412.4h0M578.9 402.7h0M561.3 439.1h0M522.7 410.1h0M534.9 429.7h0M538.9 446.4h0M577.1 402.3h0M520.7 407.2h0M525.4 404.1h0M547.9 409.2h0M521.1 408.4h0M518.5 447.0h0M533.8 432.9h0M523.1 404.1h0M537.2 430.2h0M574.9 433.7h0M574.6 398.3h0M567.9 360.8h0M527.4 450.5h0M537.2 427.7h0M518.4 406.7h0M543.8 374.6h0M523.8 402.7h0M559.0 422.0h0M566.6 368.5h0M569.9 404.9h0M507.7 418.0h0M569.9 408.4h0M525.7 413.9h0M548.8 411.8h0M525.9 410.1h0M541.2 406.0h0M537.7 408.8h0M537.3 434.4h0M545.2 444.0h0M579.2 399.1h0M513.4 440.4h0M578.7 400.8h0M574.7 402.0h0M527.6 445.7h0M575.9 432.7h0M562.9 442.3h0M557.7 392.3h0M516.7 440.7h0M549.6 422.3h0M531.3 426.8h0M553.8 414.9h0M531.3 430.7h0M524.8 413.0h0M553.2 423.8h0M533.7 403.0h0M569.3 360.7h0M552.7 421.2h0M545.3 374.3h0M521.1 443.3h0M547.5 415.9h0M518.8 443.7h0M562.4 412.4h0M576.0 429.7h0M556.8 442.9h0M569.8 365.3h0M545.9 405.2h0M551.2 378.7h0M549.2 401.7h0M550.7 414.9h0M527.0 412.1h0M547.4 374.6h0M576.8 400.5h0M507.7 450.3h0M527.2 424.3h0M583.4 430.5h0M556.8 388.3h0M577.2 431.9h0M513.8 446.3h0M561.9 435.8h0" stroke="#f3e1f4" stroke-width="3.30" stroke-linecap="round" fill="none"/>
<path d="M591.8 387.9h0M586.0 397.8h0M580.6 394.4h0M584.2 395.2h0M579.0 391.3h0" stroke="#d99412" stroke-width="3.20" stroke-linecap="round" fill="none"/>
<path d="M593.7 399.4h0M590.4 399.3h0M595.9 408.9h0M592.2 399.5h0M593.3 400.9h0M590.4 387.7h0M589.0 397.5h0M593.7 407.6h0M590.1 414.8h0M593.9 403.2h0M583.0 394.3h0M588.0 412.5h0M587.5 397.6h0M585.8 411.5h0M589.1 389.4h0M578.8 393.2h0M580.3 391.7h0M582.1 396.3h0M582.0 392.4h0M593.2 394.3h0M591.2 395.1h0" stroke="#e29f1e" stroke-width="3.20" stroke-linecap="round" fill="none"/>
<path d="M588.0 386.3h0M593.7 395.4h0M585.3 386.4h0M591.2 402.1h0M596.8 405.7h0M585.8 395.7h0M592.5 393.8h0M587.9 399.9h0M591.5 389.9h0M589.1 386.1h0M584.5 409.4h0M586.5 384.8h0M586.5 389.5h0M580.3 395.3h0M597.1 403.4h0M583.6 392.2h0M596.6 407.6h0M595.4 402.9h0M590.1 413.5h0M586.7 388.5h0M589.7 405.5h0M595.7 406.9h0M591.7 409.6h0M593.2 396.9h0M584.3 398.8h0M591.0 415.1h0M592.2 402.8h0" stroke="#e9a92c" stroke-width="3.20" stroke-linecap="round" fill="none"/>
<path d="M592.9 408.8h0M589.1 396.2h0M589.4 408.9h0M587.5 388.4h0M592.1 407.1h0M586.3 392.6h0M587.3 401.1h0M586.6 409.1h0M589.7 392.0h0M588.2 405.3h0M587.3 411.6h0M596.1 404.5h0M584.8 397.2h0M593.4 404.4h0M587.4 395.8h0M590.3 407.3h0M591.9 392.4h0M589.1 411.7h0M584.0 394.0h0M589.5 402.1h0M592.1 397.3h0M587.6 394.2h0M586.4 412.0h0M589.8 403.3h0M584.7 389.4h0" stroke="#efb43d" stroke-width="3.20" stroke-linecap="round" fill="none"/>
<path d="M591.8 410.8h0M588.1 407.8h0M586.2 399.7h0M588.0 408.5h0M587.9 392.6h0M586.5 394.1h0M587.6 389.8h0M586.4 407.2h0M589.2 393.5h0M591.3 404.9h0" stroke="#f3bf52" stroke-width="3.20" stroke-linecap="round" fill="none"/>
<circle cx="578.60" cy="400.40" r="2.20" fill="#8a55cc" stroke="none" stroke-width="1" />
<circle cx="576.20" cy="401.60" r="1.70" fill="#9a66d4" stroke="none" stroke-width="1" />
<circle cx="584.60" cy="397.20" r="2.20" fill="#ff2a2a" stroke="none" stroke-width="1" />
<line x1="544.00" y1="416.00" x2="545.00" y2="419.00" stroke="#4ea84e" stroke-width="1.4" />
<line x1="537.30" y1="424.00" x2="536.80" y2="427.00" stroke="#4ea84e" stroke-width="1.2" />
<path d="M541.2,407.2 C535,411 531,416 531.2,422 C531.5,428 535,432.5 541,434.5 C545,435.6 549,435.3 553,434" fill="none" stroke="#3b2a40" stroke-width="2.1" opacity="0.8"/>
<linearGradient id="dnag" gradientUnits="userSpaceOnUse" x1="553" y1="0" x2="580" y2="0"><stop offset="0" stop-color="#4a3455"/><stop offset="1" stop-color="#050505"/></linearGradient>
<polyline points="553.00,431.79 553.49,431.19 553.98,430.54 554.48,429.84 554.97,429.10 555.46,428.35 555.95,427.57 556.44,426.80 556.93,426.02 557.42,425.27 557.92,424.54 558.41,423.84 558.90,423.19 559.39,422.59 559.88,422.05 560.38,421.57 560.87,421.17 561.36,420.85 561.85,420.62 562.34,420.47 562.83,420.40 563.33,420.43 563.82,420.54 564.31,420.74 564.80,421.03 565.29,421.40 565.78,421.84 566.27,422.35 566.77,422.93 567.26,423.56 567.75,424.24 568.24,424.96 568.73,425.70 569.23,426.47 569.72,427.25 570.21,428.02 570.70,428.79 571.19,429.53 571.68,430.25 572.17,430.92 572.67,431.55 573.16,432.12 573.65,432.62 574.14,433.05 574.63,433.41 575.12,433.69 575.62,433.88 576.11,433.98 576.60,434.00 577.09,433.92 577.58,433.76 578.08,433.51 578.57,433.18 579.06,432.77 579.55,432.29 580.04,431.74 580.53,431.14 581.02,430.48 581.52,429.78 582.01,429.04 582.50,428.28 582.99,427.51 583.48,426.73 583.98,425.96 584.47,425.20 584.96,424.48 585.45,423.78 585.94,423.13 586.43,422.54 586.92,422.00 587.42,421.54 587.91,421.14 588.40,420.83 588.89,420.60 589.38,420.46 589.88,420.40 590.37,420.43 590.86,420.56 591.35,420.76 591.84,421.06 592.33,421.43 592.83,421.88 593.32,422.40 593.81,422.98 594.30,423.61 594.79,424.30 595.28,425.02 595.77,425.77 596.27,426.54 596.76,427.31 597.25,428.09 597.74,428.85 598.23,429.59 598.73,430.31 599.22,430.98 599.71,431.60 600.20,432.16 600.69,432.66 601.18,433.09 601.67,433.44 602.17,433.71 602.66,433.89 603.15,433.98 603.64,433.99 604.13,433.91 604.62,433.74 605.12,433.49 605.61,433.15 606.10,432.74 606.59,432.25 607.08,431.70 607.58,431.08 608.07,430.42 608.56,429.72 609.05,428.98 609.54,428.22 610.03,427.44 610.52,426.67 611.02,425.89 611.51,425.14 612.00,424.42" fill="none" stroke="url(#dnag)" stroke-width="2.8" stroke-linecap="round" opacity="0.8"/>
<polyline points="553.00,427.20 553.49,427.98 553.98,428.74 554.48,429.49 554.97,430.20 555.46,430.88 555.95,431.51 556.44,432.08 556.93,432.59 557.42,433.03 557.92,433.39 558.41,433.67 558.90,433.87 559.39,433.98 559.88,434.00 560.38,433.93 560.87,433.77 561.36,433.53 561.85,433.20 562.34,432.80 562.83,432.32 563.33,431.78 563.82,431.18 564.31,430.52 564.80,429.82 565.29,429.09 565.78,428.33 566.27,427.56 566.77,426.78 567.26,426.01 567.75,425.25 568.24,424.52 568.73,423.82 569.23,423.17 569.72,422.57 570.21,422.03 570.70,421.56 571.19,421.17 571.68,420.85 572.17,420.61 572.67,420.46 573.16,420.40 573.65,420.43 574.14,420.55 574.63,420.75 575.12,421.04 575.62,421.41 576.11,421.85 576.60,422.36 577.09,422.94 577.58,423.57 578.08,424.25 578.57,424.97 579.06,425.72 579.55,426.49 580.04,427.27 580.53,428.04 581.02,428.81 581.52,429.55 582.01,430.26 582.50,430.94 582.99,431.56 583.48,432.13 583.98,432.63 584.47,433.06 584.96,433.42 585.45,433.69 585.94,433.88 586.43,433.98 586.92,433.99 587.42,433.92 587.91,433.75 588.40,433.50 588.89,433.17 589.38,432.76 589.88,432.28 590.37,431.73 590.86,431.12 591.35,430.46 591.84,429.76 592.33,429.02 592.83,428.26 593.32,427.49 593.81,426.71 594.30,425.94 594.79,425.19 595.28,424.46 595.77,423.77 596.27,423.12 596.76,422.52 597.25,421.99 597.74,421.53 598.23,421.14 598.73,420.82 599.22,420.60 599.71,420.45 600.20,420.40 600.69,420.44 601.18,420.56 601.67,420.77 602.17,421.07 602.66,421.44 603.15,421.89 603.64,422.41 604.13,422.99 604.62,423.63 605.12,424.31 605.61,425.04 606.10,425.79 606.59,426.55 607.08,427.33 607.58,428.11 608.07,428.87 608.56,429.61 609.05,430.32 609.54,430.99 610.03,431.61 610.52,432.17 611.02,432.67 611.51,433.10 612.00,433.44" fill="none" stroke="url(#dnag)" stroke-width="3.4" stroke-linecap="round"/>
<path d="M606,420.2 L615,419.2 L611.5,427.5 L615.5,435.5 L607,434.5 Z" fill="#0a0a0a"/>
<text transform="matrix(1,0,0,1.042,445.40,406.41)" fill="#8c8c8c">RNAPII</text>
<line x1="475.80" y1="408.00" x2="488.30" y2="424.00" stroke="#666" stroke-width="0.8" />
<text transform="matrix(1,0,0,1.042,494.50,381.61)" fill="#d21fc4">RPB2</text>
<line x1="516.20" y1="384.60" x2="529.00" y2="403.70" stroke="#d21fc4" stroke-width="1.0" />
<text transform="matrix(1,0,0,1.042,588.60,367.11)" text-anchor="middle" fill="#9b30c0">R328</text>
<line x1="590.30" y1="367.80" x2="579.60" y2="399.00" stroke="#9b30c0" stroke-width="1.0" />
<text transform="matrix(1,0,0,1.042,599.10,386.51)" fill="#ff2d2d">S71/D72</text>
<line x1="599.00" y1="387.40" x2="585.30" y2="397.60" stroke="#ff2d2d" stroke-width="1.0" />
<text transform="matrix(1,0,0,1.042,607.30,403.31)" fill="#f2a33a">ELF1</text>
<line x1="606.10" y1="400.60" x2="592.40" y2="404.20" stroke="#f2a33a" stroke-width="1.0" />
<text transform="matrix(1,0,0,1.042,0.60,667.00)" font-size="9.6" font-weight="bold" stroke="#000" stroke-width="0.3">h</text>
<text transform="matrix(1,0,0,1.042,109.50,670.81)" text-anchor="middle">Input</text>
<line x1="69.50" y1="673.80" x2="150.40" y2="673.80" stroke="#000" stroke-width="0.8" />
<text transform="matrix(1,0,0,1.042,195.40,670.71)" text-anchor="middle">IP: RNAPII-S2</text>
<line x1="155.20" y1="673.90" x2="235.30" y2="673.90" stroke="#000" stroke-width="0.8" />
<text transform="matrix(1,0,0,1.042,62.80,681.61)" text-anchor="end"><tspan font-style="italic">ELOF1</tspan>-KO+</text>
<text transform="matrix(1,0,0,1.042,62.80,692.71)" text-anchor="end">ELOF1–GFP</text>
<text transform="matrix(1,0,0,1.042,87.60,688.01)" text-anchor="middle">WT</text>
<text transform="matrix(1,0,0,1.042,173.90,688.01)" text-anchor="middle">WT</text>
<text transform="matrix(1,0,0,1.042,130.20,688.01)" text-anchor="middle">S72K/D73K</text>
<text transform="matrix(1,0,0,1.042,214.70,688.01)" text-anchor="middle">S72K/D73K</text>
<line x1="69.50" y1="695.10" x2="106.60" y2="695.10" stroke="#000" stroke-width="0.8" />
<line x1="111.00" y1="695.10" x2="150.40" y2="695.10" stroke="#000" stroke-width="0.8" />
<line x1="155.90" y1="695.10" x2="191.90" y2="695.10" stroke="#000" stroke-width="0.8" />
<line x1="197.20" y1="695.10" x2="233.00" y2="695.10" stroke="#000" stroke-width="0.8" />
<text transform="matrix(1,0,0,1.042,62.80,706.51)" text-anchor="end">UV-C (20 J m<tspan font-size="6" dy="-3">−2</tspan><tspan dy="3">)</tspan></text>
<text transform="matrix(1,0,0,1.042,77.40,706.31)" text-anchor="middle">–</text>
<text transform="matrix(1,0,0,1.042,98.70,706.31)" text-anchor="middle">+</text>
<text transform="matrix(1,0,0,1.042,119.70,706.31)" text-anchor="middle">–</text>
<text transform="matrix(1,0,0,1.042,140.10,706.31)" text-anchor="middle">+</text>
<text transform="matrix(1,0,0,1.042,163.40,706.31)" text-anchor="middle">–</text>
<text transform="matrix(1,0,0,1.042,185.50,706.31)" text-anchor="middle">+</text>
<text transform="matrix(1,0,0,1.042,206.10,706.31)" text-anchor="middle">–</text>
<text transform="matrix(1,0,0,1.042,227.60,706.31)" text-anchor="middle">+</text>
<text transform="matrix(1,0,0,1.042,242.80,706.21)">kDa</text>
<text transform="matrix(1,0,0,1.042,62.80,721.91)" text-anchor="end">RNAPII-S2</text>
<text transform="matrix(1,0,0,1.042,62.80,739.71)" text-anchor="end">ELOF1–GFP</text>
<text transform="matrix(1,0,0,1.042,244.00,723.71)">250</text>
<text transform="matrix(1,0,0,1.042,244.00,740.71)">36</text>
<line x1="236.80" y1="720.60" x2="239.60" y2="720.60" stroke="#000" stroke-width="0.8" />
<line x1="236.80" y1="737.60" x2="239.60" y2="737.60" stroke="#000" stroke-width="0.8" />
<rect x="67.20" y="710.60" width="83.60" height="15.80" fill="#d6d6d6" stroke="none" stroke-width="1" />
<path d="M68.50,717.41 Q78.00,715.70 87.50,717.41 L87.50,722.59 Q78.00,724.30 68.50,722.59 Z" fill="#141414" opacity="0.97" filter="url(#bl)"/>
<path d="M89.00,717.34 Q98.40,715.60 107.80,717.34 L107.80,722.66 Q98.40,724.40 89.00,722.66 Z" fill="#141414" opacity="0.97" filter="url(#bl)"/>
<path d="M109.50,717.27 Q119.25,715.50 129.00,717.27 L129.00,722.73 Q119.25,724.50 109.50,722.73 Z" fill="#141414" opacity="0.97" filter="url(#bl)"/>
<path d="M130.30,717.41 Q139.95,715.70 149.60,717.41 L149.60,722.59 Q139.95,724.30 130.30,722.59 Z" fill="#141414" opacity="0.97" filter="url(#bl)"/>
<rect x="67.20" y="710.60" width="83.60" height="15.80" fill="none" stroke="#000" stroke-width="1.0" />
<rect x="67.20" y="729.00" width="83.60" height="18.00" fill="#cfcfcf" stroke="none" stroke-width="1" />
<path d="M68.50,733.45 Q78.00,731.30 87.50,733.45 L87.50,741.15 Q78.00,743.30 68.50,741.15 Z" fill="#050505" opacity="1.0" filter="url(#bl)"/>
<path d="M89.00,733.45 Q98.40,731.30 107.80,733.45 L107.80,741.15 Q98.40,743.30 89.00,741.15 Z" fill="#050505" opacity="1.0" filter="url(#bl)"/>
<path d="M109.50,733.45 Q119.25,731.30 129.00,733.45 L129.00,741.15 Q119.25,743.30 109.50,741.15 Z" fill="#050505" opacity="1.0" filter="url(#bl)"/>
<path d="M130.30,733.45 Q139.95,731.30 149.60,733.45 L149.60,741.15 Q139.95,743.30 130.30,741.15 Z" fill="#050505" opacity="1.0" filter="url(#bl)"/>
<rect x="67.20" y="729.00" width="83.60" height="18.00" fill="none" stroke="#000" stroke-width="1.0" />
<rect x="153.60" y="710.60" width="83.20" height="15.80" fill="#dcdcdc" stroke="none" stroke-width="1" />
<path d="M155.00,717.00 Q165.25,715.30 175.50,717.00 L175.50,722.60 Q165.25,724.30 155.00,722.60 Z" fill="#111" opacity="0.95" filter="url(#bl)"/>
<path d="M176.50,716.30 Q186.50,714.30 196.50,716.30 L196.50,723.30 Q186.50,725.30 176.50,723.30 Z" fill="#111" opacity="0.95" filter="url(#bl)"/>
<path d="M198.00,717.35 Q207.75,715.80 217.50,717.35 L217.50,722.25 Q207.75,723.80 198.00,722.25 Z" fill="#111" opacity="0.95" filter="url(#bl)"/>
<path d="M218.50,716.30 Q227.25,714.30 236.00,716.30 L236.00,723.30 Q227.25,725.30 218.50,723.30 Z" fill="#111" opacity="0.95" filter="url(#bl)"/>
<rect x="153.60" y="710.60" width="83.20" height="15.80" fill="none" stroke="#000" stroke-width="1.0" />
<rect x="153.60" y="729.00" width="83.20" height="18.00" fill="#8e8e8e" stroke="none" stroke-width="1" />
<rect x="196.50" y="729.00" width="40.00" height="18.00" fill="#999999" stroke="none" stroke-width="1" filter="url(#bl2)"/>
<path d="M155.50,732.52 Q165.50,730.75 175.50,732.52 L175.50,738.48 Q165.50,740.25 155.50,738.48 Z" fill="#080808" opacity="1.0" filter="url(#bl)"/>
<path d="M177.00,732.88 Q186.50,731.25 196.00,732.88 L196.00,738.12 Q186.50,739.75 177.00,738.12 Z" fill="#101010" opacity="1.0" filter="url(#bl)"/>
<rect x="153.60" y="729.00" width="83.20" height="18.00" fill="none" stroke="#000" stroke-width="1.0" />
<text transform="matrix(1,0,0,1.042,445.00,516.70)" font-size="9.6" font-weight="bold" stroke="#000" stroke-width="0.3">i</text>
<line x1="479.30" y1="517.20" x2="479.30" y2="635.70" stroke="#666" stroke-width="0.8" />
<line x1="476.30" y1="635.70" x2="479.30" y2="635.70" stroke="#666" stroke-width="0.8" />
<text transform="matrix(1,0,0,1.042,472.90,638.81)" text-anchor="end">0</text>
<line x1="476.30" y1="616.03" x2="479.30" y2="616.03" stroke="#666" stroke-width="0.8" />
<text transform="matrix(1,0,0,1.042,472.90,619.15)" text-anchor="end">20</text>
<line x1="476.30" y1="596.37" x2="479.30" y2="596.37" stroke="#666" stroke-width="0.8" />
<text transform="matrix(1,0,0,1.042,472.90,599.48)" text-anchor="end">40</text>
<line x1="476.30" y1="576.70" x2="479.30" y2="576.70" stroke="#666" stroke-width="0.8" />
<text transform="matrix(1,0,0,1.042,472.90,579.82)" text-anchor="end">60</text>
<line x1="476.30" y1="557.04" x2="479.30" y2="557.04" stroke="#666" stroke-width="0.8" />
<text transform="matrix(1,0,0,1.042,472.90,560.15)" text-anchor="end">80</text>
<line x1="476.30" y1="537.37" x2="479.30" y2="537.37" stroke="#666" stroke-width="0.8" />
<text transform="matrix(1,0,0,1.042,472.90,540.48)" text-anchor="end">100</text>
<line x1="476.30" y1="517.70" x2="479.30" y2="517.70" stroke="#666" stroke-width="0.8" />
<text transform="matrix(1,0,0,1.042,472.90,520.82)" text-anchor="end">120</text>
<line x1="479.30" y1="635.70" x2="656.60" y2="635.70" stroke="#666" stroke-width="0.8" />
<line x1="479.30" y1="635.70" x2="479.30" y2="639.00" stroke="#666" stroke-width="0.8" />
<text transform="matrix(1,0,0,1.042,479.30,649.61)" text-anchor="middle">0</text>
<line x1="567.80" y1="635.70" x2="567.80" y2="639.00" stroke="#666" stroke-width="0.8" />
<text transform="matrix(1,0,0,1.042,567.80,649.61)" text-anchor="middle">50</text>
<line x1="656.30" y1="635.70" x2="656.30" y2="639.00" stroke="#666" stroke-width="0.8" />
<text transform="matrix(1,0,0,1.042,656.30,649.61)" text-anchor="middle">100</text>
<text transform="matrix(1,0,0,1.042,568.00,662.91)" text-anchor="middle">Illudin S (pg ml<tspan font-size="6" dy="-3">−1</tspan><tspan dy="3">)</tspan></text>
<text transform="translate(450.8,577.3) rotate(-90)" text-anchor="middle">Survival (%)</text>
<polyline points="479.30,537.30 567.50,569.90 656.30,613.70" fill="none" stroke="#0014ff" stroke-width="2.4" stroke-linejoin="round"/>
<polyline points="479.30,537.30 567.50,561.20 656.30,598.00" fill="none" stroke="#ff6a1e" stroke-width="2.4" stroke-linejoin="round"/>
<polyline points="479.30,537.30 567.50,540.70 656.30,546.80" fill="none" stroke="#000000" stroke-width="2.4" stroke-linejoin="round"/>
<polyline points="479.30,537.30 567.50,544.50 656.30,558.20" fill="none" stroke="#f0202a" stroke-width="2.4" stroke-linejoin="round"/>
<circle cx="479.30" cy="537.30" r="2.40" fill="none" stroke="#f0202a" stroke-width="1.0" />
<circle cx="567.50" cy="535.40" r="2.40" fill="none" stroke="#f0202a" stroke-width="1.0" />
<circle cx="567.50" cy="538.90" r="2.40" fill="none" stroke="#000000" stroke-width="1.0" />
<circle cx="567.50" cy="541.40" r="2.40" fill="none" stroke="#000000" stroke-width="1.0" />
<circle cx="567.50" cy="553.30" r="2.40" fill="none" stroke="#f0202a" stroke-width="1.0" />
<circle cx="567.50" cy="560.00" r="2.40" fill="none" stroke="#ff6a1e" stroke-width="1.0" />
<circle cx="567.50" cy="562.20" r="2.40" fill="none" stroke="#ff6a1e" stroke-width="1.0" />
<circle cx="567.50" cy="568.20" r="2.40" fill="none" stroke="#0014ff" stroke-width="1.0" />
<circle cx="567.50" cy="572.20" r="2.40" fill="none" stroke="#0014ff" stroke-width="1.0" />
<circle cx="656.30" cy="545.00" r="2.40" fill="none" stroke="#000000" stroke-width="1.0" />
<circle cx="656.30" cy="548.90" r="2.40" fill="none" stroke="#000000" stroke-width="1.0" />
<circle cx="656.30" cy="557.30" r="2.40" fill="none" stroke="#f0202a" stroke-width="1.0" />
<circle cx="656.30" cy="559.40" r="2.40" fill="none" stroke="#f0202a" stroke-width="1.0" />
<circle cx="656.30" cy="596.70" r="2.40" fill="none" stroke="#ff6a1e" stroke-width="1.0" />
<circle cx="656.30" cy="600.90" r="2.40" fill="none" stroke="#ff6a1e" stroke-width="1.0" />
<circle cx="656.30" cy="613.20" r="2.40" fill="none" stroke="#0014ff" stroke-width="1.0" />
<circle cx="656.30" cy="616.40" r="2.40" fill="none" stroke="#0014ff" stroke-width="1.0" />
<line x1="475.80" y1="677.20" x2="488.10" y2="677.20" stroke="#f0202a" stroke-width="2.0" />
<circle cx="481.95" cy="677.20" r="2.30" fill="none" stroke="#f0202a" stroke-width="1.0" />
<line x1="556.20" y1="677.20" x2="568.50" y2="677.20" stroke="#0014ff" stroke-width="2.0" />
<circle cx="562.35" cy="677.20" r="2.30" fill="none" stroke="#0014ff" stroke-width="1.0" />
<line x1="475.80" y1="692.60" x2="488.10" y2="692.60" stroke="#000000" stroke-width="2.0" />
<circle cx="481.95" cy="692.60" r="2.30" fill="none" stroke="#000000" stroke-width="1.0" />
<line x1="556.20" y1="692.60" x2="568.50" y2="692.60" stroke="#ff6a1e" stroke-width="2.0" />
<circle cx="562.35" cy="692.60" r="2.30" fill="none" stroke="#ff6a1e" stroke-width="1.0" />
<text transform="matrix(1,0,0,1.042,491.90,680.31)">WT</text>
<text transform="matrix(1,0,0,1.042,570.50,680.31)"><tspan font-style="italic">ELOF1</tspan>-KO</text>
<text transform="matrix(1,0,0,1.042,491.90,695.71)"><tspan font-style="italic">ELOF1</tspan>-KO+</text>
<text transform="matrix(1,0,0,1.042,491.90,705.71)">ELOF1<tspan font-size="6" dy="-3">WT</tspan><tspan dy="3">-GFP</tspan></text>
<text transform="matrix(1,0,0,1.042,570.50,695.71)"><tspan font-style="italic">ELOF1</tspan>-KO+</text>
<text transform="matrix(1,0,0,1.042,570.50,705.71)">ELOF1<tspan font-size="6" dy="-3">S72K/D73K</tspan><tspan dy="3">–GFP</tspan></text>
<text transform="matrix(1,0,0,1.042,0.60,443.00)" font-size="9.6" font-weight="bold" stroke="#000" stroke-width="0.3">f</text>
<text transform="matrix(1,0,0,1.042,49.60,446.51)">ELOF1<tspan font-size="6" dy="-3">WT</tspan><tspan dy="3"> vs GFP-NLS</tspan></text>
<circle cx="55.36" cy="556.04" r="2.00" fill="#d4d4d4" stroke="none" stroke-width="1" />
<circle cx="40.77" cy="546.02" r="2.00" fill="#d4d4d4" stroke="none" stroke-width="1" />
<circle cx="51.86" cy="574.72" r="2.00" fill="#d4d4d4" stroke="none" stroke-width="1" />
<circle cx="47.70" cy="577.60" r="2.00" fill="#d4d4d4" stroke="none" stroke-width="1" />
<circle cx="44.40" cy="543.15" r="2.00" fill="#d4d4d4" stroke="none" stroke-width="1" />
<circle cx="48.43" cy="606.37" r="2.00" fill="#d4d4d4" stroke="none" stroke-width="1" />
<circle cx="63.88" cy="560.74" r="2.00" fill="#d4d4d4" stroke="none" stroke-width="1" />
<circle cx="45.68" cy="582.53" r="2.00" fill="#d4d4d4" stroke="none" stroke-width="1" />
<circle cx="42.71" cy="531.30" r="2.00" fill="#d4d4d4" stroke="none" stroke-width="1" />
<circle cx="43.73" cy="538.79" r="2.00" fill="#d4d4d4" stroke="none" stroke-width="1" />
<circle cx="63.73" cy="576.76" r="2.00" fill="#d4d4d4" stroke="none" stroke-width="1" />
<circle cx="39.02" cy="574.06" r="2.00" fill="#d4d4d4" stroke="none" stroke-width="1" />
<circle cx="48.68" cy="535.14" r="2.00" fill="#d4d4d4" stroke="none" stroke-width="1" />
<circle cx="49.27" cy="584.86" r="2.00" fill="#d4d4d4" stroke="none" stroke-width="1" />
<circle cx="68.24" cy="577.38" r="2.00" fill="#d4d4d4" stroke="none" stroke-width="1" />
<circle cx="48.68" cy="554.20" r="2.00" fill="#d4d4d4" stroke="none" stroke-width="1" />
<circle cx="55.73" cy="545.12" r="2.00" fill="#d4d4d4" stroke="none" stroke-width="1" />
<circle cx="54.43" cy="531.82" r="2.00" fill="#d4d4d4" stroke="none" stroke-width="1" />
<circle cx="39.66" cy="572.15" r="2.00" fill="#d4d4d4" stroke="none" stroke-width="1" />
<circle cx="68.80" cy="591.77" r="2.00" fill="#d4d4d4" stroke="none" stroke-width="1" />
<circle cx="48.37" cy="542.51" r="2.00" fill="#d4d4d4" stroke="none" stroke-width="1" />
<circle cx="47.11" cy="574.86" r="2.00" fill="#d4d4d4" stroke="none" stroke-width="1" />
<circle cx="42.50" cy="597.58" r="2.00" fill="#d4d4d4" stroke="none" stroke-width="1" />
<circle cx="39.63" cy="559.84" r="2.00" fill="#d4d4d4" stroke="none" stroke-width="1" />
<circle cx="53.12" cy="578.91" r="2.00" fill="#d4d4d4" stroke="none" stroke-width="1" />
<circle cx="43.58" cy="560.14" r="2.00" fill="#d4d4d4" stroke="none" stroke-width="1" />
<circle cx="51.97" cy="604.51" r="2.00" fill="#d4d4d4" stroke="none" stroke-width="1" />
<circle cx="31.80" cy="590.28" r="2.00" fill="#d4d4d4" stroke="none" stroke-width="1" />
<circle cx="34.03" cy="544.63" r="2.00" fill="#d4d4d4" stroke="none" stroke-width="1" />
<circle cx="45.00" cy="519.05" r="2.00" fill="#d4d4d4" stroke="none" stroke-width="1" />
<circle cx="44.45" cy="539.61" r="2.00" fill="#d4d4d4" stroke="none" stroke-width="1" />
<circle cx="48.18" cy="587.42" r="2.00" fill="#d4d4d4" stroke="none" stroke-width="1" />
<circle cx="43.48" cy="604.24" r="2.00" fill="#d4d4d4" stroke="none" stroke-width="1" />
<circle cx="31.54" cy="579.50" r="2.00" fill="#d4d4d4" stroke="none" stroke-width="1" />
<circle cx="44.85" cy="589.78" r="2.00" fill="#d4d4d4" stroke="none" stroke-width="1" />
<circle cx="57.65" cy="595.87" r="2.00" fill="#d4d4d4" stroke="none" stroke-width="1" />
<circle cx="51.44" cy="528.98" r="2.00" fill="#d4d4d4" stroke="none" stroke-width="1" />
<circle cx="45.92" cy="568.23" r="2.00" fill="#d4d4d4" stroke="none" stroke-width="1" />
<circle cx="31.82" cy="613.76" r="2.00" fill="#d4d4d4" stroke="none" stroke-width="1" />
<circle cx="52.10" cy="536.95" r="2.00" fill="#d4d4d4" stroke="none" stroke-width="1" />
<circle cx="57.52" cy="584.97" r="2.00" fill="#d4d4d4" stroke="none" stroke-width="1" />
<circle cx="30.78" cy="597.27" r="2.00" fill="#d4d4d4" stroke="none" stroke-width="1" />
<circle cx="39.84" cy="550.45" r="2.00" fill="#d4d4d4" stroke="none" stroke-width="1" />
<circle cx="62.68" cy="553.15" r="2.00" fill="#d4d4d4" stroke="none" stroke-width="1" />
<circle cx="60.80" cy="568.25" r="2.00" fill="#d4d4d4" stroke="none" stroke-width="1" />
<circle cx="55.47" cy="597.25" r="2.00" fill="#d4d4d4" stroke="none" stroke-width="1" />
<circle cx="61.63" cy="552.86" r="2.00" fill="#d4d4d4" stroke="none" stroke-width="1" />
<circle cx="50.92" cy="599.53" r="2.00" fill="#d4d4d4" stroke="none" stroke-width="1" />
<circle cx="49.34" cy="595.08" r="2.00" fill="#d4d4d4" stroke="none" stroke-width="1" />
<circle cx="36.91" cy="607.36" r="2.00" fill="#d4d4d4" stroke="none" stroke-width="1" />
<circle cx="45.52" cy="566.36" r="2.00" fill="#d4d4d4" stroke="none" stroke-width="1" />
<circle cx="53.50" cy="602.88" r="2.00" fill="#d4d4d4" stroke="none" stroke-width="1" />
<circle cx="58.47" cy="564.96" r="2.00" fill="#d4d4d4" stroke="none" stroke-width="1" />
<circle cx="52.10" cy="538.75" r="2.00" fill="#d4d4d4" stroke="none" stroke-width="1" />
<circle cx="30.29" cy="614.20" r="2.00" fill="#d4d4d4" stroke="none" stroke-width="1" />
<circle cx="48.44" cy="541.02" r="2.00" fill="#d4d4d4" stroke="none" stroke-width="1" />
<circle cx="61.58" cy="597.28" r="2.00" fill="#d4d4d4" stroke="none" stroke-width="1" />
<circle cx="39.50" cy="613.73" r="2.00" fill="#d4d4d4" stroke="none" stroke-width="1" />
<circle cx="53.12" cy="541.19" r="2.00" fill="#d4d4d4" stroke="none" stroke-width="1" />
<circle cx="58.89" cy="570.89" r="2.00" fill="#d4d4d4" stroke="none" stroke-width="1" />
<circle cx="46.18" cy="565.35" r="2.00" fill="#d4d4d4" stroke="none" stroke-width="1" />
<circle cx="46.80" cy="529.18" r="2.00" fill="#d4d4d4" stroke="none" stroke-width="1" />
<circle cx="61.92" cy="579.94" r="2.00" fill="#d4d4d4" stroke="none" stroke-width="1" />
<circle cx="46.29" cy="534.33" r="2.00" fill="#d4d4d4" stroke="none" stroke-width="1" />
<circle cx="46.28" cy="580.12" r="2.00" fill="#d4d4d4" stroke="none" stroke-width="1" />
<circle cx="47.43" cy="598.03" r="2.00" fill="#d4d4d4" stroke="none" stroke-width="1" />
<circle cx="55.72" cy="560.49" r="2.00" fill="#d4d4d4" stroke="none" stroke-width="1" />
<circle cx="52.06" cy="614.20" r="2.00" fill="#d4d4d4" stroke="none" stroke-width="1" />
<circle cx="39.17" cy="573.75" r="2.00" fill="#d4d4d4" stroke="none" stroke-width="1" />
<circle cx="54.06" cy="588.80" r="2.00" fill="#d4d4d4" stroke="none" stroke-width="1" />
<circle cx="50.82" cy="593.16" r="2.00" fill="#d4d4d4" stroke="none" stroke-width="1" />
<circle cx="30.09" cy="570.96" r="2.00" fill="#d4d4d4" stroke="none" stroke-width="1" />
<circle cx="49.62" cy="584.71" r="2.00" fill="#d4d4d4" stroke="none" stroke-width="1" />
<circle cx="48.79" cy="523.72" r="2.00" fill="#d4d4d4" stroke="none" stroke-width="1" />
<circle cx="53.43" cy="573.73" r="2.00" fill="#d4d4d4" stroke="none" stroke-width="1" />
<circle cx="50.20" cy="553.71" r="2.00" fill="#d4d4d4" stroke="none" stroke-width="1" />
<circle cx="37.96" cy="565.92" r="2.00" fill="#d4d4d4" stroke="none" stroke-width="1" />
<circle cx="44.59" cy="535.30" r="2.00" fill="#d4d4d4" stroke="none" stroke-width="1" />
<circle cx="37.30" cy="544.53" r="2.00" fill="#d4d4d4" stroke="none" stroke-width="1" />
<circle cx="40.88" cy="614.20" r="2.00" fill="#d4d4d4" stroke="none" stroke-width="1" />
<circle cx="55.55" cy="577.47" r="2.00" fill="#d4d4d4" stroke="none" stroke-width="1" />
<circle cx="57.60" cy="611.41" r="2.00" fill="#d4d4d4" stroke="none" stroke-width="1" />
<circle cx="47.10" cy="608.40" r="2.00" fill="#d4d4d4" stroke="none" stroke-width="1" />
<circle cx="62.52" cy="601.75" r="2.00" fill="#d4d4d4" stroke="none" stroke-width="1" />
<circle cx="40.37" cy="549.52" r="2.00" fill="#d4d4d4" stroke="none" stroke-width="1" />
<circle cx="45.97" cy="569.97" r="2.00" fill="#d4d4d4" stroke="none" stroke-width="1" />
<circle cx="47.12" cy="588.66" r="2.00" fill="#d4d4d4" stroke="none" stroke-width="1" />
<circle cx="44.85" cy="561.31" r="2.00" fill="#d4d4d4" stroke="none" stroke-width="1" />
<circle cx="45.97" cy="523.82" r="2.00" fill="#d4d4d4" stroke="none" stroke-width="1" />
<circle cx="37.23" cy="563.25" r="2.00" fill="#d4d4d4" stroke="none" stroke-width="1" />
<circle cx="46.45" cy="573.33" r="2.00" fill="#d4d4d4" stroke="none" stroke-width="1" />
<circle cx="46.73" cy="523.61" r="2.00" fill="#d4d4d4" stroke="none" stroke-width="1" />
<circle cx="65.30" cy="558.38" r="2.00" fill="#d4d4d4" stroke="none" stroke-width="1" />
<circle cx="47.08" cy="567.06" r="2.00" fill="#d4d4d4" stroke="none" stroke-width="1" />
<circle cx="60.79" cy="563.94" r="2.00" fill="#d4d4d4" stroke="none" stroke-width="1" />
<circle cx="47.70" cy="562.06" r="2.00" fill="#d4d4d4" stroke="none" stroke-width="1" />
<circle cx="54.70" cy="573.31" r="2.00" fill="#d4d4d4" stroke="none" stroke-width="1" />
<circle cx="55.14" cy="605.04" r="2.00" fill="#d4d4d4" stroke="none" stroke-width="1" />
<circle cx="52.41" cy="576.60" r="2.00" fill="#d4d4d4" stroke="none" stroke-width="1" />
<circle cx="53.72" cy="578.00" r="2.00" fill="#d4d4d4" stroke="none" stroke-width="1" />
<circle cx="40.92" cy="546.66" r="2.00" fill="#d4d4d4" stroke="none" stroke-width="1" />
<circle cx="60.15" cy="562.32" r="2.00" fill="#d4d4d4" stroke="none" stroke-width="1" />
<circle cx="60.65" cy="607.37" r="2.00" fill="#d4d4d4" stroke="none" stroke-width="1" />
<circle cx="60.91" cy="566.95" r="2.00" fill="#d4d4d4" stroke="none" stroke-width="1" />
<circle cx="48.94" cy="539.22" r="2.00" fill="#d4d4d4" stroke="none" stroke-width="1" />
<circle cx="36.80" cy="580.03" r="2.00" fill="#d4d4d4" stroke="none" stroke-width="1" />
<circle cx="50.42" cy="592.64" r="2.00" fill="#d4d4d4" stroke="none" stroke-width="1" />
<circle cx="42.59" cy="554.37" r="2.00" fill="#d4d4d4" stroke="none" stroke-width="1" />
<circle cx="50.56" cy="608.70" r="2.00" fill="#d4d4d4" stroke="none" stroke-width="1" />
<circle cx="32.74" cy="600.16" r="2.00" fill="#d4d4d4" stroke="none" stroke-width="1" />
<circle cx="47.20" cy="608.76" r="2.00" fill="#d4d4d4" stroke="none" stroke-width="1" />
<circle cx="32.65" cy="567.66" r="2.00" fill="#d4d4d4" stroke="none" stroke-width="1" />
<circle cx="50.17" cy="530.99" r="2.00" fill="#d4d4d4" stroke="none" stroke-width="1" />
<circle cx="37.76" cy="559.42" r="2.00" fill="#d4d4d4" stroke="none" stroke-width="1" />
<circle cx="45.95" cy="611.98" r="2.00" fill="#d4d4d4" stroke="none" stroke-width="1" />
<circle cx="50.84" cy="613.42" r="2.00" fill="#d4d4d4" stroke="none" stroke-width="1" />
<circle cx="40.30" cy="555.03" r="2.00" fill="#d4d4d4" stroke="none" stroke-width="1" />
<circle cx="54.79" cy="565.74" r="2.00" fill="#d4d4d4" stroke="none" stroke-width="1" />
<circle cx="57.79" cy="545.52" r="2.00" fill="#d4d4d4" stroke="none" stroke-width="1" />
<circle cx="60.08" cy="601.70" r="2.00" fill="#d4d4d4" stroke="none" stroke-width="1" />
<circle cx="51.33" cy="576.97" r="2.00" fill="#d4d4d4" stroke="none" stroke-width="1" />
<circle cx="69.69" cy="601.89" r="2.00" fill="#d4d4d4" stroke="none" stroke-width="1" />
<circle cx="69.40" cy="579.95" r="2.00" fill="#d4d4d4" stroke="none" stroke-width="1" />
<circle cx="56.84" cy="565.68" r="2.00" fill="#d4d4d4" stroke="none" stroke-width="1" />
<circle cx="34.61" cy="570.79" r="2.00" fill="#d4d4d4" stroke="none" stroke-width="1" />
<circle cx="59.73" cy="565.15" r="2.00" fill="#d4d4d4" stroke="none" stroke-width="1" />
<circle cx="52.60" cy="533.66" r="2.00" fill="#d4d4d4" stroke="none" stroke-width="1" />
<circle cx="31.49" cy="567.06" r="2.00" fill="#d4d4d4" stroke="none" stroke-width="1" />
<circle cx="54.60" cy="609.82" r="2.00" fill="#d4d4d4" stroke="none" stroke-width="1" />
<circle cx="42.48" cy="563.31" r="2.00" fill="#d4d4d4" stroke="none" stroke-width="1" />
<circle cx="51.36" cy="605.74" r="2.00" fill="#d4d4d4" stroke="none" stroke-width="1" />
<circle cx="57.88" cy="568.77" r="2.00" fill="#d4d4d4" stroke="none" stroke-width="1" />
<circle cx="62.11" cy="597.85" r="2.00" fill="#d4d4d4" stroke="none" stroke-width="1" />
<circle cx="65.41" cy="575.69" r="2.00" fill="#d4d4d4" stroke="none" stroke-width="1" />
<circle cx="57.05" cy="607.36" r="2.00" fill="#d4d4d4" stroke="none" stroke-width="1" />
<circle cx="48.28" cy="549.55" r="2.00" fill="#d4d4d4" stroke="none" stroke-width="1" />
<circle cx="49.79" cy="563.50" r="2.00" fill="#d4d4d4" stroke="none" stroke-width="1" />
<circle cx="47.43" cy="571.97" r="2.00" fill="#d4d4d4" stroke="none" stroke-width="1" />
<circle cx="39.85" cy="567.34" r="2.00" fill="#d4d4d4" stroke="none" stroke-width="1" />
<circle cx="45.05" cy="538.82" r="2.00" fill="#d4d4d4" stroke="none" stroke-width="1" />
<circle cx="32.33" cy="567.64" r="2.00" fill="#d4d4d4" stroke="none" stroke-width="1" />
<circle cx="43.85" cy="593.84" r="2.00" fill="#d4d4d4" stroke="none" stroke-width="1" />
<circle cx="46.95" cy="551.62" r="2.00" fill="#d4d4d4" stroke="none" stroke-width="1" />
<circle cx="36.29" cy="541.81" r="2.00" fill="#d4d4d4" stroke="none" stroke-width="1" />
<circle cx="49.96" cy="545.17" r="2.00" fill="#d4d4d4" stroke="none" stroke-width="1" />
<circle cx="51.98" cy="614.20" r="2.00" fill="#d4d4d4" stroke="none" stroke-width="1" />
<circle cx="34.89" cy="568.77" r="2.00" fill="#d4d4d4" stroke="none" stroke-width="1" />
<circle cx="38.06" cy="561.30" r="2.00" fill="#d4d4d4" stroke="none" stroke-width="1" />
<circle cx="35.21" cy="554.11" r="2.00" fill="#d4d4d4" stroke="none" stroke-width="1" />
<circle cx="47.71" cy="593.92" r="2.00" fill="#d4d4d4" stroke="none" stroke-width="1" />
<circle cx="51.13" cy="543.17" r="2.00" fill="#d4d4d4" stroke="none" stroke-width="1" />
<circle cx="53.71" cy="532.05" r="2.00" fill="#d4d4d4" stroke="none" stroke-width="1" />
<circle cx="55.16" cy="560.46" r="2.00" fill="#d4d4d4" stroke="none" stroke-width="1" />
<circle cx="58.99" cy="585.92" r="2.00" fill="#d4d4d4" stroke="none" stroke-width="1" />
<circle cx="44.20" cy="596.23" r="2.00" fill="#d4d4d4" stroke="none" stroke-width="1" />
<circle cx="50.74" cy="545.46" r="2.00" fill="#d4d4d4" stroke="none" stroke-width="1" />
<circle cx="50.66" cy="575.23" r="2.00" fill="#d4d4d4" stroke="none" stroke-width="1" />
<circle cx="42.01" cy="599.32" r="2.00" fill="#d4d4d4" stroke="none" stroke-width="1" />
<circle cx="49.79" cy="550.15" r="2.00" fill="#d4d4d4" stroke="none" stroke-width="1" />
<circle cx="43.27" cy="535.00" r="2.00" fill="#d4d4d4" stroke="none" stroke-width="1" />
<circle cx="46.47" cy="547.37" r="2.00" fill="#d4d4d4" stroke="none" stroke-width="1" />
<circle cx="38.73" cy="574.63" r="2.00" fill="#d4d4d4" stroke="none" stroke-width="1" />
<circle cx="56.96" cy="565.66" r="2.00" fill="#d4d4d4" stroke="none" stroke-width="1" />
<circle cx="41.40" cy="585.78" r="2.00" fill="#d4d4d4" stroke="none" stroke-width="1" />
<circle cx="48.07" cy="577.61" r="2.00" fill="#d4d4d4" stroke="none" stroke-width="1" />
<circle cx="40.60" cy="547.26" r="2.00" fill="#d4d4d4" stroke="none" stroke-width="1" />
<circle cx="61.76" cy="581.70" r="2.00" fill="#d4d4d4" stroke="none" stroke-width="1" />
<circle cx="49.99" cy="554.54" r="2.00" fill="#d4d4d4" stroke="none" stroke-width="1" />
<circle cx="57.47" cy="597.35" r="2.00" fill="#d4d4d4" stroke="none" stroke-width="1" />
<circle cx="50.31" cy="587.30" r="2.00" fill="#d4d4d4" stroke="none" stroke-width="1" />
<circle cx="48.30" cy="593.77" r="2.00" fill="#d4d4d4" stroke="none" stroke-width="1" />
<circle cx="55.67" cy="541.82" r="2.00" fill="#d4d4d4" stroke="none" stroke-width="1" />
<circle cx="48.50" cy="561.65" r="2.00" fill="#d4d4d4" stroke="none" stroke-width="1" />
<circle cx="55.19" cy="549.69" r="2.00" fill="#d4d4d4" stroke="none" stroke-width="1" />
<circle cx="52.09" cy="559.19" r="2.00" fill="#d4d4d4" stroke="none" stroke-width="1" />
<circle cx="53.99" cy="561.82" r="2.00" fill="#d4d4d4" stroke="none" stroke-width="1" />
<circle cx="53.14" cy="562.66" r="2.00" fill="#d4d4d4" stroke="none" stroke-width="1" />
<circle cx="52.62" cy="562.67" r="2.00" fill="#d4d4d4" stroke="none" stroke-width="1" />
<circle cx="56.04" cy="587.17" r="2.00" fill="#d4d4d4" stroke="none" stroke-width="1" />
<circle cx="55.61" cy="554.36" r="2.00" fill="#d4d4d4" stroke="none" stroke-width="1" />
<circle cx="59.01" cy="548.99" r="2.00" fill="#d4d4d4" stroke="none" stroke-width="1" />
<circle cx="49.37" cy="602.53" r="2.00" fill="#d4d4d4" stroke="none" stroke-width="1" />
<circle cx="51.25" cy="532.72" r="2.00" fill="#d4d4d4" stroke="none" stroke-width="1" />
<circle cx="50.22" cy="573.50" r="2.00" fill="#d4d4d4" stroke="none" stroke-width="1" />
<circle cx="52.29" cy="552.85" r="2.00" fill="#d4d4d4" stroke="none" stroke-width="1" />
<circle cx="42.14" cy="548.18" r="2.00" fill="#d4d4d4" stroke="none" stroke-width="1" />
<circle cx="55.34" cy="604.74" r="2.00" fill="#d4d4d4" stroke="none" stroke-width="1" />
<circle cx="39.66" cy="543.08" r="2.00" fill="#d4d4d4" stroke="none" stroke-width="1" />
<circle cx="52.66" cy="600.04" r="2.00" fill="#d4d4d4" stroke="none" stroke-width="1" />
<circle cx="41.99" cy="596.57" r="2.00" fill="#d4d4d4" stroke="none" stroke-width="1" />
<circle cx="33.66" cy="574.98" r="2.00" fill="#d4d4d4" stroke="none" stroke-width="1" />
<circle cx="42.57" cy="577.10" r="2.00" fill="#d4d4d4" stroke="none" stroke-width="1" />
<circle cx="38.78" cy="597.88" r="2.00" fill="#d4d4d4" stroke="none" stroke-width="1" />
<circle cx="39.18" cy="584.79" r="2.00" fill="#d4d4d4" stroke="none" stroke-width="1" />
<circle cx="56.15" cy="569.03" r="2.00" fill="#d4d4d4" stroke="none" stroke-width="1" />
<circle cx="48.40" cy="591.50" r="2.00" fill="#d4d4d4" stroke="none" stroke-width="1" />
<circle cx="53.72" cy="561.51" r="2.00" fill="#d4d4d4" stroke="none" stroke-width="1" />
<circle cx="49.39" cy="564.72" r="2.00" fill="#d4d4d4" stroke="none" stroke-width="1" />
<circle cx="46.59" cy="583.32" r="2.00" fill="#d4d4d4" stroke="none" stroke-width="1" />
<circle cx="45.12" cy="531.77" r="2.00" fill="#d4d4d4" stroke="none" stroke-width="1" />
<circle cx="43.56" cy="587.91" r="2.00" fill="#d4d4d4" stroke="none" stroke-width="1" />
<circle cx="62.53" cy="609.87" r="2.00" fill="#d4d4d4" stroke="none" stroke-width="1" />
<circle cx="40.29" cy="563.96" r="2.00" fill="#d4d4d4" stroke="none" stroke-width="1" />
<circle cx="67.51" cy="602.44" r="2.00" fill="#d4d4d4" stroke="none" stroke-width="1" />
<circle cx="56.47" cy="583.04" r="2.00" fill="#d4d4d4" stroke="none" stroke-width="1" />
<circle cx="53.56" cy="579.91" r="2.00" fill="#d4d4d4" stroke="none" stroke-width="1" />
<circle cx="42.06" cy="591.61" r="2.00" fill="#d4d4d4" stroke="none" stroke-width="1" />
<circle cx="51.37" cy="555.96" r="2.00" fill="#d4d4d4" stroke="none" stroke-width="1" />
<circle cx="52.62" cy="549.14" r="2.00" fill="#d4d4d4" stroke="none" stroke-width="1" />
<circle cx="59.85" cy="589.95" r="2.00" fill="#d4d4d4" stroke="none" stroke-width="1" />
<circle cx="44.06" cy="533.92" r="2.00" fill="#d4d4d4" stroke="none" stroke-width="1" />
<circle cx="41.71" cy="559.95" r="2.00" fill="#d4d4d4" stroke="none" stroke-width="1" />
<circle cx="46.18" cy="573.75" r="2.00" fill="#d4d4d4" stroke="none" stroke-width="1" />
<circle cx="48.21" cy="604.27" r="2.00" fill="#d4d4d4" stroke="none" stroke-width="1" />
<circle cx="31.48" cy="608.41" r="2.00" fill="#d4d4d4" stroke="none" stroke-width="1" />
<circle cx="44.48" cy="567.92" r="2.00" fill="#d4d4d4" stroke="none" stroke-width="1" />
<circle cx="44.57" cy="543.65" r="2.00" fill="#d4d4d4" stroke="none" stroke-width="1" />
<circle cx="39.17" cy="550.95" r="2.00" fill="#d4d4d4" stroke="none" stroke-width="1" />
<circle cx="54.49" cy="553.43" r="2.00" fill="#d4d4d4" stroke="none" stroke-width="1" />
<circle cx="61.69" cy="607.61" r="2.00" fill="#d4d4d4" stroke="none" stroke-width="1" />
<circle cx="41.56" cy="555.75" r="2.00" fill="#d4d4d4" stroke="none" stroke-width="1" />
<circle cx="50.67" cy="584.02" r="2.00" fill="#d4d4d4" stroke="none" stroke-width="1" />
<circle cx="56.14" cy="565.60" r="2.00" fill="#d4d4d4" stroke="none" stroke-width="1" />
<circle cx="50.97" cy="549.38" r="2.00" fill="#d4d4d4" stroke="none" stroke-width="1" />
<circle cx="56.68" cy="599.79" r="2.00" fill="#d4d4d4" stroke="none" stroke-width="1" />
<circle cx="43.74" cy="609.10" r="2.00" fill="#d4d4d4" stroke="none" stroke-width="1" />
<circle cx="49.64" cy="564.50" r="2.00" fill="#d4d4d4" stroke="none" stroke-width="1" />
<circle cx="29.43" cy="564.69" r="2.00" fill="#d4d4d4" stroke="none" stroke-width="1" />
<circle cx="43.27" cy="548.14" r="2.00" fill="#d4d4d4" stroke="none" stroke-width="1" />
<circle cx="66.27" cy="589.17" r="2.00" fill="#d4d4d4" stroke="none" stroke-width="1" />
<circle cx="47.51" cy="572.18" r="2.00" fill="#d4d4d4" stroke="none" stroke-width="1" />
<circle cx="52.66" cy="560.22" r="2.00" fill="#d4d4d4" stroke="none" stroke-width="1" />
<circle cx="46.67" cy="585.91" r="2.00" fill="#d4d4d4" stroke="none" stroke-width="1" />
<circle cx="44.10" cy="530.85" r="2.00" fill="#d4d4d4" stroke="none" stroke-width="1" />
<circle cx="51.78" cy="532.67" r="2.00" fill="#d4d4d4" stroke="none" stroke-width="1" />
<circle cx="57.24" cy="563.60" r="2.00" fill="#d4d4d4" stroke="none" stroke-width="1" />
<circle cx="49.00" cy="560.61" r="2.00" fill="#d4d4d4" stroke="none" stroke-width="1" />
<circle cx="67.94" cy="568.44" r="2.00" fill="#d4d4d4" stroke="none" stroke-width="1" />
<circle cx="61.16" cy="575.88" r="2.00" fill="#d4d4d4" stroke="none" stroke-width="1" />
<circle cx="52.67" cy="567.96" r="2.00" fill="#d4d4d4" stroke="none" stroke-width="1" />
<circle cx="60.64" cy="557.78" r="2.00" fill="#d4d4d4" stroke="none" stroke-width="1" />
<circle cx="56.00" cy="600.95" r="2.00" fill="#d4d4d4" stroke="none" stroke-width="1" />
<circle cx="38.41" cy="613.82" r="2.00" fill="#d4d4d4" stroke="none" stroke-width="1" />
<circle cx="39.82" cy="579.67" r="2.00" fill="#d4d4d4" stroke="none" stroke-width="1" />
<circle cx="43.39" cy="563.05" r="2.00" fill="#d4d4d4" stroke="none" stroke-width="1" />
<circle cx="54.00" cy="550.60" r="2.00" fill="#d4d4d4" stroke="none" stroke-width="1" />
<circle cx="55.32" cy="552.75" r="2.00" fill="#d4d4d4" stroke="none" stroke-width="1" />
<circle cx="51.33" cy="533.30" r="2.00" fill="#d4d4d4" stroke="none" stroke-width="1" />
<circle cx="56.23" cy="588.25" r="2.00" fill="#d4d4d4" stroke="none" stroke-width="1" />
<circle cx="56.85" cy="566.96" r="2.00" fill="#d4d4d4" stroke="none" stroke-width="1" />
<circle cx="55.79" cy="606.86" r="2.00" fill="#d4d4d4" stroke="none" stroke-width="1" />
<circle cx="50.80" cy="593.40" r="2.00" fill="#d4d4d4" stroke="none" stroke-width="1" />
<circle cx="54.54" cy="549.58" r="2.00" fill="#d4d4d4" stroke="none" stroke-width="1" />
<circle cx="38.22" cy="553.29" r="2.00" fill="#d4d4d4" stroke="none" stroke-width="1" />
<circle cx="39.69" cy="561.78" r="2.00" fill="#d4d4d4" stroke="none" stroke-width="1" />
<circle cx="35.37" cy="564.84" r="2.00" fill="#d4d4d4" stroke="none" stroke-width="1" />
<circle cx="30.78" cy="601.94" r="2.00" fill="#d4d4d4" stroke="none" stroke-width="1" />
<circle cx="43.85" cy="605.16" r="2.00" fill="#d4d4d4" stroke="none" stroke-width="1" />
<circle cx="39.95" cy="556.31" r="2.00" fill="#d4d4d4" stroke="none" stroke-width="1" />
<circle cx="53.31" cy="591.99" r="2.00" fill="#d4d4d4" stroke="none" stroke-width="1" />
<circle cx="67.48" cy="581.14" r="2.00" fill="#d4d4d4" stroke="none" stroke-width="1" />
<circle cx="44.07" cy="582.25" r="2.00" fill="#d4d4d4" stroke="none" stroke-width="1" />
<circle cx="46.30" cy="564.69" r="2.00" fill="#d4d4d4" stroke="none" stroke-width="1" />
<circle cx="36.43" cy="561.37" r="2.00" fill="#d4d4d4" stroke="none" stroke-width="1" />
<circle cx="44.41" cy="595.31" r="2.00" fill="#d4d4d4" stroke="none" stroke-width="1" />
<circle cx="52.02" cy="556.65" r="2.00" fill="#d4d4d4" stroke="none" stroke-width="1" />
<circle cx="40.76" cy="555.16" r="2.00" fill="#d4d4d4" stroke="none" stroke-width="1" />
<circle cx="48.36" cy="587.83" r="2.00" fill="#d4d4d4" stroke="none" stroke-width="1" />
<circle cx="52.22" cy="544.61" r="2.00" fill="#d4d4d4" stroke="none" stroke-width="1" />
<circle cx="46.53" cy="551.08" r="2.00" fill="#d4d4d4" stroke="none" stroke-width="1" />
<circle cx="38.61" cy="563.68" r="2.00" fill="#d4d4d4" stroke="none" stroke-width="1" />
<circle cx="45.47" cy="581.89" r="2.00" fill="#d4d4d4" stroke="none" stroke-width="1" />
<circle cx="54.07" cy="570.22" r="2.00" fill="#d4d4d4" stroke="none" stroke-width="1" />
<circle cx="52.89" cy="534.63" r="2.00" fill="#d4d4d4" stroke="none" stroke-width="1" />
<circle cx="53.96" cy="583.68" r="2.00" fill="#d4d4d4" stroke="none" stroke-width="1" />
<circle cx="40.82" cy="544.98" r="2.00" fill="#d4d4d4" stroke="none" stroke-width="1" />
<circle cx="59.42" cy="563.12" r="2.00" fill="#d4d4d4" stroke="none" stroke-width="1" />
<circle cx="43.93" cy="526.09" r="2.00" fill="#d4d4d4" stroke="none" stroke-width="1" />
<circle cx="38.35" cy="547.33" r="2.00" fill="#d4d4d4" stroke="none" stroke-width="1" />
<circle cx="44.06" cy="573.86" r="2.00" fill="#d4d4d4" stroke="none" stroke-width="1" />
<circle cx="37.63" cy="609.02" r="2.00" fill="#d4d4d4" stroke="none" stroke-width="1" />
<circle cx="53.13" cy="567.19" r="2.00" fill="#d4d4d4" stroke="none" stroke-width="1" />
<circle cx="39.14" cy="574.52" r="2.00" fill="#d4d4d4" stroke="none" stroke-width="1" />
<circle cx="45.52" cy="549.81" r="2.00" fill="#d4d4d4" stroke="none" stroke-width="1" />
<circle cx="59.06" cy="596.44" r="2.00" fill="#d4d4d4" stroke="none" stroke-width="1" />
<circle cx="53.50" cy="608.75" r="2.00" fill="#d4d4d4" stroke="none" stroke-width="1" />
<circle cx="57.43" cy="569.74" r="2.00" fill="#d4d4d4" stroke="none" stroke-width="1" />
<circle cx="36.79" cy="607.55" r="2.00" fill="#d4d4d4" stroke="none" stroke-width="1" />
<circle cx="37.67" cy="547.84" r="2.00" fill="#d4d4d4" stroke="none" stroke-width="1" />
<circle cx="45.77" cy="592.61" r="2.00" fill="#d4d4d4" stroke="none" stroke-width="1" />
<circle cx="56.71" cy="583.75" r="2.00" fill="#d4d4d4" stroke="none" stroke-width="1" />
<circle cx="53.58" cy="555.45" r="2.00" fill="#d4d4d4" stroke="none" stroke-width="1" />
<circle cx="32.25" cy="552.19" r="2.00" fill="#d4d4d4" stroke="none" stroke-width="1" />
<circle cx="37.94" cy="553.09" r="2.00" fill="#d4d4d4" stroke="none" stroke-width="1" />
<circle cx="53.51" cy="555.32" r="2.00" fill="#d4d4d4" stroke="none" stroke-width="1" />
<circle cx="58.79" cy="591.29" r="2.00" fill="#d4d4d4" stroke="none" stroke-width="1" />
<circle cx="37.58" cy="544.14" r="2.00" fill="#d4d4d4" stroke="none" stroke-width="1" />
<circle cx="39.71" cy="587.07" r="2.00" fill="#d4d4d4" stroke="none" stroke-width="1" />
<circle cx="67.65" cy="565.23" r="2.00" fill="#d4d4d4" stroke="none" stroke-width="1" />
<circle cx="56.37" cy="552.68" r="2.00" fill="#d4d4d4" stroke="none" stroke-width="1" />
<circle cx="39.54" cy="573.10" r="2.00" fill="#d4d4d4" stroke="none" stroke-width="1" />
<circle cx="46.60" cy="592.17" r="2.00" fill="#d4d4d4" stroke="none" stroke-width="1" />
<circle cx="29.05" cy="565.24" r="2.00" fill="#d4d4d4" stroke="none" stroke-width="1" />
<circle cx="50.98" cy="532.53" r="2.00" fill="#d4d4d4" stroke="none" stroke-width="1" />
<circle cx="53.89" cy="590.35" r="2.00" fill="#d4d4d4" stroke="none" stroke-width="1" />
<circle cx="42.30" cy="561.61" r="2.00" fill="#d4d4d4" stroke="none" stroke-width="1" />
<circle cx="44.79" cy="568.46" r="2.00" fill="#d4d4d4" stroke="none" stroke-width="1" />
<circle cx="42.81" cy="577.78" r="2.00" fill="#d4d4d4" stroke="none" stroke-width="1" />
<circle cx="48.86" cy="540.43" r="2.00" fill="#d4d4d4" stroke="none" stroke-width="1" />
<circle cx="61.79" cy="573.68" r="2.00" fill="#d4d4d4" stroke="none" stroke-width="1" />
<circle cx="42.65" cy="571.93" r="2.00" fill="#d4d4d4" stroke="none" stroke-width="1" />
<circle cx="51.21" cy="587.30" r="2.00" fill="#d4d4d4" stroke="none" stroke-width="1" />
<circle cx="53.42" cy="546.57" r="2.00" fill="#d4d4d4" stroke="none" stroke-width="1" />
<circle cx="51.88" cy="562.19" r="2.00" fill="#d4d4d4" stroke="none" stroke-width="1" />
<circle cx="34.84" cy="546.58" r="2.00" fill="#d4d4d4" stroke="none" stroke-width="1" />
<circle cx="51.93" cy="564.69" r="2.00" fill="#d4d4d4" stroke="none" stroke-width="1" />
<circle cx="60.97" cy="561.11" r="2.00" fill="#d4d4d4" stroke="none" stroke-width="1" />
<circle cx="48.03" cy="571.34" r="2.00" fill="#d4d4d4" stroke="none" stroke-width="1" />
<circle cx="42.23" cy="566.48" r="2.00" fill="#d4d4d4" stroke="none" stroke-width="1" />
<circle cx="46.36" cy="563.50" r="2.00" fill="#d4d4d4" stroke="none" stroke-width="1" />
<circle cx="65.75" cy="572.22" r="2.00" fill="#d4d4d4" stroke="none" stroke-width="1" />
<circle cx="40.32" cy="556.14" r="2.00" fill="#d4d4d4" stroke="none" stroke-width="1" />
<circle cx="42.22" cy="572.50" r="2.00" fill="#d4d4d4" stroke="none" stroke-width="1" />
<circle cx="45.90" cy="602.03" r="2.00" fill="#d4d4d4" stroke="none" stroke-width="1" />
<circle cx="47.31" cy="551.68" r="2.00" fill="#d4d4d4" stroke="none" stroke-width="1" />
<circle cx="56.67" cy="594.75" r="2.00" fill="#d4d4d4" stroke="none" stroke-width="1" />
<circle cx="55.19" cy="545.77" r="2.00" fill="#d4d4d4" stroke="none" stroke-width="1" />
<circle cx="38.40" cy="546.02" r="2.00" fill="#d4d4d4" stroke="none" stroke-width="1" />
<circle cx="55.24" cy="558.59" r="2.00" fill="#d4d4d4" stroke="none" stroke-width="1" />
<circle cx="51.13" cy="590.61" r="2.00" fill="#d4d4d4" stroke="none" stroke-width="1" />
<circle cx="95.23" cy="578.05" r="2.00" fill="#d4d4d4" stroke="none" stroke-width="1" />
<circle cx="108.98" cy="585.97" r="2.00" fill="#d4d4d4" stroke="none" stroke-width="1" />
<circle cx="67.93" cy="604.97" r="2.00" fill="#d4d4d4" stroke="none" stroke-width="1" />
<circle cx="114.10" cy="556.56" r="2.00" fill="#d4d4d4" stroke="none" stroke-width="1" />
<circle cx="99.82" cy="597.49" r="2.00" fill="#d4d4d4" stroke="none" stroke-width="1" />
<circle cx="94.08" cy="605.39" r="2.00" fill="#d4d4d4" stroke="none" stroke-width="1" />
<circle cx="100.74" cy="554.40" r="2.00" fill="#d4d4d4" stroke="none" stroke-width="1" />
<circle cx="78.71" cy="593.25" r="2.00" fill="#d4d4d4" stroke="none" stroke-width="1" />
<circle cx="98.44" cy="579.33" r="2.00" fill="#d4d4d4" stroke="none" stroke-width="1" />
<circle cx="90.51" cy="577.93" r="2.00" fill="#d4d4d4" stroke="none" stroke-width="1" />
<circle cx="76.51" cy="614.20" r="2.00" fill="#d4d4d4" stroke="none" stroke-width="1" />
<circle cx="96.67" cy="538.71" r="2.00" fill="#d4d4d4" stroke="none" stroke-width="1" />
<circle cx="83.81" cy="598.19" r="2.00" fill="#d4d4d4" stroke="none" stroke-width="1" />
<circle cx="119.63" cy="564.82" r="2.00" fill="#d4d4d4" stroke="none" stroke-width="1" />
<circle cx="78.50" cy="563.86" r="2.00" fill="#d4d4d4" stroke="none" stroke-width="1" />
<circle cx="100.76" cy="560.82" r="2.00" fill="#d4d4d4" stroke="none" stroke-width="1" />
<circle cx="109.97" cy="567.88" r="2.00" fill="#d4d4d4" stroke="none" stroke-width="1" />
<circle cx="105.64" cy="558.95" r="2.00" fill="#d4d4d4" stroke="none" stroke-width="1" />
<circle cx="118.91" cy="540.31" r="2.00" fill="#d4d4d4" stroke="none" stroke-width="1" />
<circle cx="118.74" cy="565.41" r="2.00" fill="#d4d4d4" stroke="none" stroke-width="1" />
<circle cx="107.56" cy="555.77" r="2.00" fill="#d4d4d4" stroke="none" stroke-width="1" />
<circle cx="82.12" cy="614.20" r="2.00" fill="#d4d4d4" stroke="none" stroke-width="1" />
<circle cx="86.80" cy="601.91" r="2.00" fill="#d4d4d4" stroke="none" stroke-width="1" />
<circle cx="83.25" cy="599.20" r="2.00" fill="#d4d4d4" stroke="none" stroke-width="1" />
<circle cx="79.94" cy="592.35" r="2.00" fill="#d4d4d4" stroke="none" stroke-width="1" />
<circle cx="92.55" cy="598.13" r="2.00" fill="#d4d4d4" stroke="none" stroke-width="1" />
<circle cx="78.11" cy="592.47" r="2.00" fill="#d4d4d4" stroke="none" stroke-width="1" />
<circle cx="82.05" cy="600.15" r="2.00" fill="#d4d4d4" stroke="none" stroke-width="1" />
<circle cx="75.49" cy="614.20" r="2.00" fill="#d4d4d4" stroke="none" stroke-width="1" />
<circle cx="86.15" cy="605.27" r="2.00" fill="#d4d4d4" stroke="none" stroke-width="1" />
<circle cx="88.80" cy="590.39" r="2.00" fill="#d4d4d4" stroke="none" stroke-width="1" />
<circle cx="83.75" cy="575.46" r="2.00" fill="#d4d4d4" stroke="none" stroke-width="1" />
<circle cx="77.17" cy="577.72" r="2.00" fill="#d4d4d4" stroke="none" stroke-width="1" />
<circle cx="95.56" cy="533.26" r="2.00" fill="#d4d4d4" stroke="none" stroke-width="1" />
<circle cx="76.12" cy="609.46" r="2.00" fill="#d4d4d4" stroke="none" stroke-width="1" />
<circle cx="96.33" cy="564.03" r="2.00" fill="#d4d4d4" stroke="none" stroke-width="1" />
<circle cx="85.79" cy="574.93" r="2.00" fill="#d4d4d4" stroke="none" stroke-width="1" />
<circle cx="92.14" cy="606.06" r="2.00" fill="#d4d4d4" stroke="none" stroke-width="1" />
<circle cx="95.13" cy="564.08" r="2.00" fill="#d4d4d4" stroke="none" stroke-width="1" />
<circle cx="96.61" cy="578.71" r="2.00" fill="#d4d4d4" stroke="none" stroke-width="1" />
<circle cx="76.47" cy="585.15" r="2.00" fill="#d4d4d4" stroke="none" stroke-width="1" />
<circle cx="112.97" cy="583.83" r="2.00" fill="#d4d4d4" stroke="none" stroke-width="1" />
<circle cx="100.23" cy="603.69" r="2.00" fill="#d4d4d4" stroke="none" stroke-width="1" />
<circle cx="93.65" cy="614.20" r="2.00" fill="#d4d4d4" stroke="none" stroke-width="1" />
<circle cx="87.57" cy="575.33" r="2.00" fill="#d4d4d4" stroke="none" stroke-width="1" />
<circle cx="67.57" cy="614.20" r="2.00" fill="#d4d4d4" stroke="none" stroke-width="1" />
<circle cx="92.12" cy="585.96" r="2.00" fill="#d4d4d4" stroke="none" stroke-width="1" />
<circle cx="95.20" cy="554.93" r="2.00" fill="#d4d4d4" stroke="none" stroke-width="1" />
<circle cx="71.85" cy="598.36" r="2.00" fill="#d4d4d4" stroke="none" stroke-width="1" />
<circle cx="74.83" cy="614.20" r="2.00" fill="#d4d4d4" stroke="none" stroke-width="1" />
<circle cx="98.22" cy="560.43" r="2.00" fill="#d4d4d4" stroke="none" stroke-width="1" />
<circle cx="98.27" cy="603.08" r="2.00" fill="#d4d4d4" stroke="none" stroke-width="1" />
<circle cx="78.23" cy="614.20" r="2.00" fill="#d4d4d4" stroke="none" stroke-width="1" />
<circle cx="87.19" cy="604.09" r="2.00" fill="#d4d4d4" stroke="none" stroke-width="1" />
<circle cx="107.69" cy="558.54" r="2.00" fill="#d4d4d4" stroke="none" stroke-width="1" />
<circle cx="70.38" cy="578.84" r="2.00" fill="#d4d4d4" stroke="none" stroke-width="1" />
<circle cx="93.82" cy="564.99" r="2.00" fill="#d4d4d4" stroke="none" stroke-width="1" />
<circle cx="90.82" cy="560.84" r="2.00" fill="#d4d4d4" stroke="none" stroke-width="1" />
<circle cx="108.46" cy="551.11" r="2.00" fill="#d4d4d4" stroke="none" stroke-width="1" />
<circle cx="112.68" cy="549.67" r="2.00" fill="#d4d4d4" stroke="none" stroke-width="1" />
<circle cx="95.52" cy="590.70" r="2.00" fill="#d4d4d4" stroke="none" stroke-width="1" />
<circle cx="110.40" cy="552.22" r="2.00" fill="#d4d4d4" stroke="none" stroke-width="1" />
<circle cx="73.24" cy="586.29" r="2.00" fill="#d4d4d4" stroke="none" stroke-width="1" />
<circle cx="93.37" cy="578.40" r="2.00" fill="#d4d4d4" stroke="none" stroke-width="1" />
<circle cx="120.01" cy="535.58" r="2.00" fill="#d4d4d4" stroke="none" stroke-width="1" />
<circle cx="69.15" cy="603.30" r="2.00" fill="#d4d4d4" stroke="none" stroke-width="1" />
<circle cx="106.84" cy="546.85" r="2.00" fill="#d4d4d4" stroke="none" stroke-width="1" />
<circle cx="99.31" cy="580.31" r="2.00" fill="#d4d4d4" stroke="none" stroke-width="1" />
<circle cx="96.66" cy="608.82" r="2.00" fill="#d4d4d4" stroke="none" stroke-width="1" />
<circle cx="111.13" cy="562.71" r="2.00" fill="#d4d4d4" stroke="none" stroke-width="1" />
<circle cx="81.93" cy="603.91" r="2.00" fill="#d4d4d4" stroke="none" stroke-width="1" />
<circle cx="93.43" cy="594.14" r="2.00" fill="#d4d4d4" stroke="none" stroke-width="1" />
<circle cx="75.03" cy="614.20" r="2.00" fill="#d4d4d4" stroke="none" stroke-width="1" />
<circle cx="118.46" cy="556.12" r="2.00" fill="#d4d4d4" stroke="none" stroke-width="1" />
<circle cx="98.91" cy="568.17" r="2.00" fill="#d4d4d4" stroke="none" stroke-width="1" />
<circle cx="80.94" cy="579.29" r="2.00" fill="#d4d4d4" stroke="none" stroke-width="1" />
<circle cx="88.28" cy="597.94" r="2.00" fill="#d4d4d4" stroke="none" stroke-width="1" />
<circle cx="74.70" cy="605.74" r="2.00" fill="#d4d4d4" stroke="none" stroke-width="1" />
<circle cx="83.12" cy="567.50" r="2.00" fill="#d4d4d4" stroke="none" stroke-width="1" />
<circle cx="108.50" cy="539.36" r="2.00" fill="#d4d4d4" stroke="none" stroke-width="1" />
<circle cx="115.28" cy="569.61" r="2.00" fill="#d4d4d4" stroke="none" stroke-width="1" />
<circle cx="77.55" cy="574.48" r="2.00" fill="#d4d4d4" stroke="none" stroke-width="1" />
<circle cx="101.49" cy="566.35" r="2.00" fill="#d4d4d4" stroke="none" stroke-width="1" />
<circle cx="77.00" cy="601.52" r="2.00" fill="#d4d4d4" stroke="none" stroke-width="1" />
<circle cx="71.94" cy="573.51" r="2.00" fill="#d4d4d4" stroke="none" stroke-width="1" />
<circle cx="107.57" cy="572.64" r="2.00" fill="#d4d4d4" stroke="none" stroke-width="1" />
<circle cx="107.49" cy="562.88" r="2.00" fill="#d4d4d4" stroke="none" stroke-width="1" />
<circle cx="99.97" cy="585.98" r="2.00" fill="#d4d4d4" stroke="none" stroke-width="1" />
<circle cx="96.01" cy="585.15" r="2.00" fill="#d4d4d4" stroke="none" stroke-width="1" />
<circle cx="74.92" cy="604.54" r="2.00" fill="#d4d4d4" stroke="none" stroke-width="1" />
<circle cx="107.61" cy="585.49" r="2.00" fill="#d4d4d4" stroke="none" stroke-width="1" />
<circle cx="75.26" cy="614.20" r="2.00" fill="#d4d4d4" stroke="none" stroke-width="1" />
<circle cx="80.98" cy="577.54" r="2.00" fill="#d4d4d4" stroke="none" stroke-width="1" />
<circle cx="102.50" cy="561.00" r="2.00" fill="#d4d4d4" stroke="none" stroke-width="1" />
<circle cx="98.78" cy="548.18" r="2.00" fill="#d4d4d4" stroke="none" stroke-width="1" />
<circle cx="114.85" cy="530.48" r="2.00" fill="#d4d4d4" stroke="none" stroke-width="1" />
<circle cx="76.97" cy="607.54" r="2.00" fill="#d4d4d4" stroke="none" stroke-width="1" />
<circle cx="103.35" cy="557.05" r="2.00" fill="#d4d4d4" stroke="none" stroke-width="1" />
<circle cx="82.72" cy="594.47" r="2.00" fill="#d4d4d4" stroke="none" stroke-width="1" />
<circle cx="105.55" cy="569.71" r="2.00" fill="#d4d4d4" stroke="none" stroke-width="1" />
<circle cx="78.98" cy="589.06" r="2.00" fill="#d4d4d4" stroke="none" stroke-width="1" />
<circle cx="81.95" cy="581.80" r="2.00" fill="#d4d4d4" stroke="none" stroke-width="1" />
<circle cx="94.50" cy="583.88" r="2.00" fill="#d4d4d4" stroke="none" stroke-width="1" />
<circle cx="76.78" cy="579.69" r="2.00" fill="#d4d4d4" stroke="none" stroke-width="1" />
<circle cx="76.97" cy="594.74" r="2.00" fill="#d4d4d4" stroke="none" stroke-width="1" />
<circle cx="85.17" cy="587.65" r="2.00" fill="#d4d4d4" stroke="none" stroke-width="1" />
<circle cx="84.88" cy="571.60" r="2.00" fill="#d4d4d4" stroke="none" stroke-width="1" />
<circle cx="92.56" cy="598.58" r="2.00" fill="#d4d4d4" stroke="none" stroke-width="1" />
<circle cx="71.03" cy="590.23" r="2.00" fill="#d4d4d4" stroke="none" stroke-width="1" />
<circle cx="87.49" cy="564.75" r="2.00" fill="#d4d4d4" stroke="none" stroke-width="1" />
<circle cx="98.23" cy="552.77" r="2.00" fill="#d4d4d4" stroke="none" stroke-width="1" />
<circle cx="68.54" cy="611.33" r="2.00" fill="#d4d4d4" stroke="none" stroke-width="1" />
<circle cx="110.61" cy="583.55" r="2.00" fill="#d4d4d4" stroke="none" stroke-width="1" />
<circle cx="102.26" cy="571.63" r="2.00" fill="#d4d4d4" stroke="none" stroke-width="1" />
<circle cx="107.19" cy="570.93" r="2.00" fill="#d4d4d4" stroke="none" stroke-width="1" />
<circle cx="79.20" cy="580.50" r="2.00" fill="#d4d4d4" stroke="none" stroke-width="1" />
<circle cx="125.26" cy="567.15" r="2.00" fill="#d4d4d4" stroke="none" stroke-width="1" />
<circle cx="95.33" cy="591.36" r="2.00" fill="#d4d4d4" stroke="none" stroke-width="1" />
<circle cx="98.61" cy="566.70" r="2.00" fill="#d4d4d4" stroke="none" stroke-width="1" />
<circle cx="79.29" cy="614.20" r="2.00" fill="#d4d4d4" stroke="none" stroke-width="1" />
<circle cx="92.04" cy="580.64" r="2.00" fill="#d4d4d4" stroke="none" stroke-width="1" />
<circle cx="105.11" cy="568.29" r="2.00" fill="#d4d4d4" stroke="none" stroke-width="1" />
<circle cx="107.84" cy="560.10" r="2.00" fill="#d4d4d4" stroke="none" stroke-width="1" />
<circle cx="114.46" cy="540.27" r="2.00" fill="#d4d4d4" stroke="none" stroke-width="1" />
<circle cx="69.49" cy="608.64" r="2.00" fill="#d4d4d4" stroke="none" stroke-width="1" />
<circle cx="98.10" cy="578.87" r="2.00" fill="#d4d4d4" stroke="none" stroke-width="1" />
<circle cx="96.83" cy="547.21" r="2.00" fill="#d4d4d4" stroke="none" stroke-width="1" />
<circle cx="77.58" cy="607.41" r="2.00" fill="#d4d4d4" stroke="none" stroke-width="1" />
<circle cx="77.26" cy="577.85" r="2.00" fill="#d4d4d4" stroke="none" stroke-width="1" />
<circle cx="126.90" cy="559.54" r="2.00" fill="#d4d4d4" stroke="none" stroke-width="1" />
<circle cx="128.71" cy="566.90" r="2.00" fill="#d4d4d4" stroke="none" stroke-width="1" />
<circle cx="93.36" cy="576.88" r="2.00" fill="#d4d4d4" stroke="none" stroke-width="1" />
<circle cx="96.47" cy="587.90" r="2.00" fill="#d4d4d4" stroke="none" stroke-width="1" />
<circle cx="73.27" cy="603.09" r="2.00" fill="#d4d4d4" stroke="none" stroke-width="1" />
<circle cx="107.61" cy="568.26" r="2.00" fill="#d4d4d4" stroke="none" stroke-width="1" />
<circle cx="97.86" cy="566.66" r="2.00" fill="#d4d4d4" stroke="none" stroke-width="1" />
<circle cx="114.65" cy="575.77" r="2.00" fill="#d4d4d4" stroke="none" stroke-width="1" />
<circle cx="116.69" cy="522.35" r="2.00" fill="#d4d4d4" stroke="none" stroke-width="1" />
<circle cx="73.21" cy="580.81" r="2.00" fill="#d4d4d4" stroke="none" stroke-width="1" />
<circle cx="78.51" cy="599.25" r="2.00" fill="#d4d4d4" stroke="none" stroke-width="1" />
<circle cx="91.06" cy="613.18" r="2.00" fill="#d4d4d4" stroke="none" stroke-width="1" />
<circle cx="79.91" cy="614.20" r="2.00" fill="#d4d4d4" stroke="none" stroke-width="1" />
<circle cx="106.48" cy="581.51" r="2.00" fill="#d4d4d4" stroke="none" stroke-width="1" />
<circle cx="95.70" cy="585.20" r="2.00" fill="#d4d4d4" stroke="none" stroke-width="1" />
<circle cx="99.59" cy="614.20" r="2.00" fill="#d4d4d4" stroke="none" stroke-width="1" />
<circle cx="90.64" cy="607.04" r="2.00" fill="#d4d4d4" stroke="none" stroke-width="1" />
<circle cx="76.28" cy="590.39" r="2.00" fill="#d4d4d4" stroke="none" stroke-width="1" />
<circle cx="104.47" cy="583.08" r="2.00" fill="#d4d4d4" stroke="none" stroke-width="1" />
<circle cx="83.32" cy="556.08" r="2.00" fill="#d4d4d4" stroke="none" stroke-width="1" />
<circle cx="92.55" cy="563.57" r="2.00" fill="#d4d4d4" stroke="none" stroke-width="1" />
<circle cx="107.56" cy="551.38" r="2.00" fill="#d4d4d4" stroke="none" stroke-width="1" />
<circle cx="89.23" cy="585.98" r="2.00" fill="#d4d4d4" stroke="none" stroke-width="1" />
<circle cx="104.83" cy="613.86" r="2.00" fill="#d4d4d4" stroke="none" stroke-width="1" />
<circle cx="79.30" cy="586.47" r="2.00" fill="#d4d4d4" stroke="none" stroke-width="1" />
<circle cx="100.13" cy="562.07" r="2.00" fill="#d4d4d4" stroke="none" stroke-width="1" />
<circle cx="83.11" cy="603.88" r="2.00" fill="#d4d4d4" stroke="none" stroke-width="1" />
<circle cx="68.96" cy="600.90" r="2.00" fill="#d4d4d4" stroke="none" stroke-width="1" />
<circle cx="90.82" cy="580.31" r="2.00" fill="#d4d4d4" stroke="none" stroke-width="1" />
<circle cx="84.79" cy="606.55" r="2.00" fill="#d4d4d4" stroke="none" stroke-width="1" />
<circle cx="106.33" cy="554.26" r="2.00" fill="#d4d4d4" stroke="none" stroke-width="1" />
<circle cx="101.57" cy="561.89" r="2.00" fill="#d4d4d4" stroke="none" stroke-width="1" />
<circle cx="109.30" cy="559.04" r="2.00" fill="#d4d4d4" stroke="none" stroke-width="1" />
<circle cx="78.19" cy="592.60" r="2.00" fill="#d4d4d4" stroke="none" stroke-width="1" />
<circle cx="91.85" cy="575.24" r="2.00" fill="#d4d4d4" stroke="none" stroke-width="1" />
<circle cx="98.89" cy="572.66" r="2.00" fill="#d4d4d4" stroke="none" stroke-width="1" />
<circle cx="94.87" cy="578.79" r="2.00" fill="#d4d4d4" stroke="none" stroke-width="1" />
<circle cx="87.17" cy="604.51" r="2.00" fill="#d4d4d4" stroke="none" stroke-width="1" />
<circle cx="79.36" cy="601.79" r="2.00" fill="#d4d4d4" stroke="none" stroke-width="1" />
<circle cx="119.21" cy="557.04" r="2.00" fill="#d4d4d4" stroke="none" stroke-width="1" />
<circle cx="76.98" cy="586.50" r="2.00" fill="#d4d4d4" stroke="none" stroke-width="1" />
<circle cx="98.80" cy="579.16" r="2.00" fill="#d4d4d4" stroke="none" stroke-width="1" />
<circle cx="106.19" cy="583.46" r="2.00" fill="#d4d4d4" stroke="none" stroke-width="1" />
<circle cx="73.06" cy="609.23" r="2.00" fill="#d4d4d4" stroke="none" stroke-width="1" />
<circle cx="85.03" cy="592.41" r="2.00" fill="#d4d4d4" stroke="none" stroke-width="1" />
<circle cx="90.89" cy="566.56" r="2.00" fill="#d4d4d4" stroke="none" stroke-width="1" />
<circle cx="92.00" cy="574.20" r="2.00" fill="#d4d4d4" stroke="none" stroke-width="1" />
<circle cx="86.98" cy="603.66" r="2.00" fill="#d4d4d4" stroke="none" stroke-width="1" />
<circle cx="89.93" cy="600.27" r="2.00" fill="#d4d4d4" stroke="none" stroke-width="1" />
<circle cx="101.81" cy="575.74" r="2.00" fill="#d4d4d4" stroke="none" stroke-width="1" />
<circle cx="74.34" cy="600.76" r="2.00" fill="#d4d4d4" stroke="none" stroke-width="1" />
<circle cx="92.94" cy="588.98" r="2.00" fill="#d4d4d4" stroke="none" stroke-width="1" />
<circle cx="74.20" cy="604.82" r="2.00" fill="#d4d4d4" stroke="none" stroke-width="1" />
<circle cx="82.67" cy="599.53" r="2.00" fill="#d4d4d4" stroke="none" stroke-width="1" />
<circle cx="78.68" cy="558.78" r="2.00" fill="#d4d4d4" stroke="none" stroke-width="1" />
<circle cx="116.14" cy="538.41" r="2.00" fill="#d4d4d4" stroke="none" stroke-width="1" />
<circle cx="87.24" cy="568.79" r="2.00" fill="#d4d4d4" stroke="none" stroke-width="1" />
<circle cx="99.81" cy="572.50" r="2.00" fill="#d4d4d4" stroke="none" stroke-width="1" />
<circle cx="90.64" cy="582.13" r="2.00" fill="#d4d4d4" stroke="none" stroke-width="1" />
<circle cx="106.82" cy="550.75" r="2.00" fill="#d4d4d4" stroke="none" stroke-width="1" />
<circle cx="95.11" cy="571.83" r="2.00" fill="#d4d4d4" stroke="none" stroke-width="1" />
<circle cx="77.67" cy="597.86" r="2.00" fill="#d4d4d4" stroke="none" stroke-width="1" />
<circle cx="80.39" cy="610.62" r="2.00" fill="#d4d4d4" stroke="none" stroke-width="1" />
<circle cx="95.37" cy="540.01" r="2.00" fill="#d4d4d4" stroke="none" stroke-width="1" />
<circle cx="119.14" cy="552.26" r="2.00" fill="#d4d4d4" stroke="none" stroke-width="1" />
<circle cx="84.06" cy="553.81" r="2.00" fill="#d4d4d4" stroke="none" stroke-width="1" />
<circle cx="77.16" cy="608.20" r="2.00" fill="#d4d4d4" stroke="none" stroke-width="1" />
<circle cx="97.38" cy="543.08" r="2.00" fill="#d4d4d4" stroke="none" stroke-width="1" />
<circle cx="115.94" cy="590.34" r="2.00" fill="#d4d4d4" stroke="none" stroke-width="1" />
<circle cx="71.68" cy="582.27" r="2.00" fill="#d4d4d4" stroke="none" stroke-width="1" />
<circle cx="76.47" cy="609.39" r="2.00" fill="#d4d4d4" stroke="none" stroke-width="1" />
<circle cx="108.99" cy="581.00" r="2.00" fill="#d4d4d4" stroke="none" stroke-width="1" />
<circle cx="114.88" cy="589.98" r="2.00" fill="#d4d4d4" stroke="none" stroke-width="1" />
<circle cx="80.48" cy="570.96" r="2.00" fill="#d4d4d4" stroke="none" stroke-width="1" />
<circle cx="74.22" cy="595.04" r="2.00" fill="#d4d4d4" stroke="none" stroke-width="1" />
<circle cx="104.43" cy="555.34" r="2.00" fill="#d4d4d4" stroke="none" stroke-width="1" />
<circle cx="98.09" cy="567.15" r="2.00" fill="#d4d4d4" stroke="none" stroke-width="1" />
<circle cx="101.92" cy="568.75" r="2.00" fill="#d4d4d4" stroke="none" stroke-width="1" />
<circle cx="83.16" cy="557.05" r="2.00" fill="#d4d4d4" stroke="none" stroke-width="1" />
<circle cx="73.23" cy="598.84" r="2.00" fill="#d4d4d4" stroke="none" stroke-width="1" />
<circle cx="79.29" cy="599.02" r="2.00" fill="#d4d4d4" stroke="none" stroke-width="1" />
<circle cx="107.67" cy="593.58" r="2.00" fill="#d4d4d4" stroke="none" stroke-width="1" />
<circle cx="66.40" cy="600.38" r="2.00" fill="#d4d4d4" stroke="none" stroke-width="1" />
<circle cx="91.66" cy="580.02" r="2.00" fill="#d4d4d4" stroke="none" stroke-width="1" />
<circle cx="87.79" cy="577.03" r="2.00" fill="#d4d4d4" stroke="none" stroke-width="1" />
<circle cx="84.54" cy="569.99" r="2.00" fill="#d4d4d4" stroke="none" stroke-width="1" />
<circle cx="88.17" cy="610.09" r="2.00" fill="#d4d4d4" stroke="none" stroke-width="1" />
<circle cx="72.64" cy="593.32" r="2.00" fill="#d4d4d4" stroke="none" stroke-width="1" />
<circle cx="76.20" cy="614.20" r="2.00" fill="#d4d4d4" stroke="none" stroke-width="1" />
<circle cx="97.67" cy="576.01" r="2.00" fill="#d4d4d4" stroke="none" stroke-width="1" />
<circle cx="104.23" cy="544.56" r="2.00" fill="#d4d4d4" stroke="none" stroke-width="1" />
<circle cx="67.20" cy="599.40" r="2.00" fill="#d4d4d4" stroke="none" stroke-width="1" />
<circle cx="78.03" cy="599.97" r="2.00" fill="#d4d4d4" stroke="none" stroke-width="1" />
<circle cx="96.98" cy="573.50" r="2.00" fill="#d4d4d4" stroke="none" stroke-width="1" />
<circle cx="86.49" cy="585.38" r="2.00" fill="#d4d4d4" stroke="none" stroke-width="1" />
<circle cx="93.99" cy="614.20" r="2.00" fill="#d4d4d4" stroke="none" stroke-width="1" />
<circle cx="104.56" cy="556.70" r="2.00" fill="#d4d4d4" stroke="none" stroke-width="1" />
<circle cx="95.95" cy="580.22" r="2.00" fill="#d4d4d4" stroke="none" stroke-width="1" />
<circle cx="115.14" cy="564.03" r="2.00" fill="#d4d4d4" stroke="none" stroke-width="1" />
<circle cx="98.45" cy="587.68" r="2.00" fill="#d4d4d4" stroke="none" stroke-width="1" />
<circle cx="93.70" cy="574.24" r="2.00" fill="#d4d4d4" stroke="none" stroke-width="1" />
<circle cx="111.03" cy="553.14" r="2.00" fill="#d4d4d4" stroke="none" stroke-width="1" />
<circle cx="93.94" cy="596.78" r="2.00" fill="#d4d4d4" stroke="none" stroke-width="1" />
<circle cx="69.68" cy="609.07" r="2.00" fill="#d4d4d4" stroke="none" stroke-width="1" />
<circle cx="92.23" cy="588.40" r="2.00" fill="#d4d4d4" stroke="none" stroke-width="1" />
<circle cx="88.54" cy="579.62" r="2.00" fill="#d4d4d4" stroke="none" stroke-width="1" />
<circle cx="93.22" cy="572.72" r="2.00" fill="#d4d4d4" stroke="none" stroke-width="1" />
<circle cx="87.98" cy="614.20" r="2.00" fill="#d4d4d4" stroke="none" stroke-width="1" />
<circle cx="95.36" cy="572.68" r="2.00" fill="#d4d4d4" stroke="none" stroke-width="1" />
<circle cx="105.73" cy="561.25" r="2.00" fill="#d4d4d4" stroke="none" stroke-width="1" />
<circle cx="71.25" cy="595.32" r="2.00" fill="#d4d4d4" stroke="none" stroke-width="1" />
<circle cx="109.16" cy="532.34" r="2.00" fill="#d4d4d4" stroke="none" stroke-width="1" />
<circle cx="89.85" cy="579.86" r="2.00" fill="#d4d4d4" stroke="none" stroke-width="1" />
<circle cx="90.00" cy="564.59" r="2.00" fill="#d4d4d4" stroke="none" stroke-width="1" />
<circle cx="97.48" cy="532.36" r="2.00" fill="#d4d4d4" stroke="none" stroke-width="1" />
<circle cx="94.02" cy="584.80" r="2.00" fill="#d4d4d4" stroke="none" stroke-width="1" />
<circle cx="110.01" cy="549.98" r="2.00" fill="#d4d4d4" stroke="none" stroke-width="1" />
<circle cx="79.25" cy="593.38" r="2.00" fill="#d4d4d4" stroke="none" stroke-width="1" />
<circle cx="81.72" cy="614.20" r="2.00" fill="#d4d4d4" stroke="none" stroke-width="1" />
<circle cx="99.40" cy="584.31" r="2.00" fill="#d4d4d4" stroke="none" stroke-width="1" />
<circle cx="92.82" cy="570.33" r="2.00" fill="#d4d4d4" stroke="none" stroke-width="1" />
<circle cx="79.33" cy="581.69" r="2.00" fill="#d4d4d4" stroke="none" stroke-width="1" />
<circle cx="83.66" cy="585.73" r="2.00" fill="#d4d4d4" stroke="none" stroke-width="1" />
<circle cx="83.64" cy="608.80" r="2.00" fill="#d4d4d4" stroke="none" stroke-width="1" />
<circle cx="79.48" cy="606.70" r="2.00" fill="#d4d4d4" stroke="none" stroke-width="1" />
<circle cx="131.53" cy="546.05" r="2.00" fill="#d4d4d4" stroke="none" stroke-width="1" />
<circle cx="95.71" cy="588.27" r="2.00" fill="#d4d4d4" stroke="none" stroke-width="1" />
<circle cx="109.19" cy="551.20" r="2.00" fill="#d4d4d4" stroke="none" stroke-width="1" />
<circle cx="94.51" cy="574.21" r="2.00" fill="#d4d4d4" stroke="none" stroke-width="1" />
<circle cx="77.91" cy="599.82" r="2.00" fill="#d4d4d4" stroke="none" stroke-width="1" />
<circle cx="119.78" cy="513.56" r="2.00" fill="#d4d4d4" stroke="none" stroke-width="1" />
<circle cx="56.39" cy="609.60" r="2.00" fill="#d4d4d4" stroke="none" stroke-width="1" />
<circle cx="62.30" cy="585.40" r="2.00" fill="#d4d4d4" stroke="none" stroke-width="1" />
<circle cx="55.43" cy="611.62" r="2.00" fill="#d4d4d4" stroke="none" stroke-width="1" />
<circle cx="64.36" cy="613.93" r="2.00" fill="#d4d4d4" stroke="none" stroke-width="1" />
<circle cx="57.39" cy="609.59" r="2.00" fill="#d4d4d4" stroke="none" stroke-width="1" />
<circle cx="62.98" cy="605.03" r="2.00" fill="#d4d4d4" stroke="none" stroke-width="1" />
<circle cx="57.28" cy="611.41" r="2.00" fill="#d4d4d4" stroke="none" stroke-width="1" />
<circle cx="57.10" cy="598.40" r="2.00" fill="#d4d4d4" stroke="none" stroke-width="1" />
<circle cx="53.04" cy="603.70" r="2.00" fill="#d4d4d4" stroke="none" stroke-width="1" />
<circle cx="67.23" cy="612.49" r="2.00" fill="#d4d4d4" stroke="none" stroke-width="1" />
<circle cx="57.27" cy="603.46" r="2.00" fill="#d4d4d4" stroke="none" stroke-width="1" />
<circle cx="57.35" cy="591.89" r="2.00" fill="#d4d4d4" stroke="none" stroke-width="1" />
<circle cx="59.19" cy="605.84" r="2.00" fill="#d4d4d4" stroke="none" stroke-width="1" />
<circle cx="61.19" cy="596.02" r="2.00" fill="#d4d4d4" stroke="none" stroke-width="1" />
<circle cx="62.67" cy="611.47" r="2.00" fill="#d4d4d4" stroke="none" stroke-width="1" />
<circle cx="71.39" cy="607.23" r="2.00" fill="#d4d4d4" stroke="none" stroke-width="1" />
<circle cx="63.54" cy="604.00" r="2.00" fill="#d4d4d4" stroke="none" stroke-width="1" />
<circle cx="62.27" cy="602.60" r="2.00" fill="#d4d4d4" stroke="none" stroke-width="1" />
<circle cx="65.18" cy="599.17" r="2.00" fill="#d4d4d4" stroke="none" stroke-width="1" />
<circle cx="62.57" cy="602.67" r="2.00" fill="#d4d4d4" stroke="none" stroke-width="1" />
<circle cx="57.72" cy="610.89" r="2.00" fill="#d4d4d4" stroke="none" stroke-width="1" />
<circle cx="67.94" cy="597.08" r="2.00" fill="#d4d4d4" stroke="none" stroke-width="1" />
<circle cx="55.48" cy="604.59" r="2.00" fill="#d4d4d4" stroke="none" stroke-width="1" />
<circle cx="63.26" cy="589.25" r="2.00" fill="#d4d4d4" stroke="none" stroke-width="1" />
<circle cx="64.58" cy="604.82" r="2.00" fill="#d4d4d4" stroke="none" stroke-width="1" />
<circle cx="56.95" cy="613.31" r="2.00" fill="#d4d4d4" stroke="none" stroke-width="1" />
<circle cx="57.38" cy="611.40" r="2.00" fill="#d4d4d4" stroke="none" stroke-width="1" />
<circle cx="66.14" cy="603.14" r="2.00" fill="#d4d4d4" stroke="none" stroke-width="1" />
<circle cx="63.56" cy="579.18" r="2.00" fill="#d4d4d4" stroke="none" stroke-width="1" />
<circle cx="63.01" cy="602.32" r="2.00" fill="#d4d4d4" stroke="none" stroke-width="1" />
<circle cx="62.77" cy="602.97" r="2.00" fill="#d4d4d4" stroke="none" stroke-width="1" />
<circle cx="59.65" cy="610.71" r="2.00" fill="#d4d4d4" stroke="none" stroke-width="1" />
<circle cx="51.61" cy="607.96" r="2.00" fill="#d4d4d4" stroke="none" stroke-width="1" />
<circle cx="65.12" cy="613.84" r="2.00" fill="#d4d4d4" stroke="none" stroke-width="1" />
<circle cx="61.35" cy="608.25" r="2.00" fill="#d4d4d4" stroke="none" stroke-width="1" />
<circle cx="55.72" cy="605.67" r="2.00" fill="#d4d4d4" stroke="none" stroke-width="1" />
<circle cx="69.61" cy="595.60" r="2.00" fill="#d4d4d4" stroke="none" stroke-width="1" />
<circle cx="69.18" cy="608.66" r="2.00" fill="#d4d4d4" stroke="none" stroke-width="1" />
<circle cx="52.43" cy="606.54" r="2.00" fill="#d4d4d4" stroke="none" stroke-width="1" />
<circle cx="64.23" cy="606.20" r="2.00" fill="#d4d4d4" stroke="none" stroke-width="1" />
<circle cx="58.93" cy="608.44" r="2.00" fill="#d4d4d4" stroke="none" stroke-width="1" />
<circle cx="57.95" cy="613.18" r="2.00" fill="#d4d4d4" stroke="none" stroke-width="1" />
<circle cx="67.70" cy="604.96" r="2.00" fill="#d4d4d4" stroke="none" stroke-width="1" />
<circle cx="70.07" cy="601.56" r="2.00" fill="#d4d4d4" stroke="none" stroke-width="1" />
<circle cx="52.74" cy="604.68" r="2.00" fill="#d4d4d4" stroke="none" stroke-width="1" />
<circle cx="59.71" cy="600.80" r="2.00" fill="#d4d4d4" stroke="none" stroke-width="1" />
<circle cx="63.61" cy="609.82" r="2.00" fill="#d4d4d4" stroke="none" stroke-width="1" />
<circle cx="66.07" cy="603.88" r="2.00" fill="#d4d4d4" stroke="none" stroke-width="1" />
<circle cx="64.34" cy="592.45" r="2.00" fill="#d4d4d4" stroke="none" stroke-width="1" />
<circle cx="59.48" cy="608.38" r="2.00" fill="#d4d4d4" stroke="none" stroke-width="1" />
<circle cx="63.80" cy="609.79" r="2.00" fill="#d4d4d4" stroke="none" stroke-width="1" />
<circle cx="58.81" cy="602.30" r="2.00" fill="#d4d4d4" stroke="none" stroke-width="1" />
<circle cx="51.99" cy="609.20" r="2.00" fill="#d4d4d4" stroke="none" stroke-width="1" />
<circle cx="70.66" cy="604.94" r="2.00" fill="#d4d4d4" stroke="none" stroke-width="1" />
<circle cx="53.54" cy="601.11" r="2.00" fill="#d4d4d4" stroke="none" stroke-width="1" />
<circle cx="57.69" cy="597.68" r="2.00" fill="#d4d4d4" stroke="none" stroke-width="1" />
<circle cx="61.25" cy="602.33" r="2.00" fill="#d4d4d4" stroke="none" stroke-width="1" />
<circle cx="61.02" cy="586.65" r="2.00" fill="#d4d4d4" stroke="none" stroke-width="1" />
<circle cx="63.07" cy="602.39" r="2.00" fill="#d4d4d4" stroke="none" stroke-width="1" />
<circle cx="64.40" cy="612.51" r="2.00" fill="#d4d4d4" stroke="none" stroke-width="1" />
<circle cx="65.32" cy="606.00" r="2.00" fill="#d4d4d4" stroke="none" stroke-width="1" />
<circle cx="61.76" cy="602.23" r="2.00" fill="#d4d4d4" stroke="none" stroke-width="1" />
<circle cx="59.00" cy="614.14" r="2.00" fill="#d4d4d4" stroke="none" stroke-width="1" />
<circle cx="64.25" cy="604.97" r="2.00" fill="#d4d4d4" stroke="none" stroke-width="1" />
<circle cx="66.26" cy="611.73" r="2.00" fill="#d4d4d4" stroke="none" stroke-width="1" />
<circle cx="56.34" cy="614.36" r="2.00" fill="#d4d4d4" stroke="none" stroke-width="1" />
<circle cx="61.77" cy="610.65" r="2.00" fill="#d4d4d4" stroke="none" stroke-width="1" />
<circle cx="64.01" cy="597.53" r="2.00" fill="#d4d4d4" stroke="none" stroke-width="1" />
<circle cx="64.02" cy="610.64" r="2.00" fill="#d4d4d4" stroke="none" stroke-width="1" />
<circle cx="62.82" cy="601.68" r="2.00" fill="#d4d4d4" stroke="none" stroke-width="1" />
<circle cx="111.81" cy="465.58" r="2.00" fill="#d4d4d4" stroke="none" stroke-width="1" />
<circle cx="143.32" cy="469.57" r="2.00" fill="#d4d4d4" stroke="none" stroke-width="1" />
<circle cx="48.80" cy="485.53" r="2.00" fill="#d4d4d4" stroke="none" stroke-width="1" />
<circle cx="44.71" cy="485.53" r="2.00" fill="#d4d4d4" stroke="none" stroke-width="1" />
<circle cx="131.65" cy="497.50" r="2.00" fill="#d4d4d4" stroke="none" stroke-width="1" />
<circle cx="119.98" cy="495.50" r="2.00" fill="#d4d4d4" stroke="none" stroke-width="1" />
<circle cx="104.81" cy="503.48" r="2.00" fill="#d4d4d4" stroke="none" stroke-width="1" />
<circle cx="123.48" cy="511.46" r="2.00" fill="#d4d4d4" stroke="none" stroke-width="1" />
<circle cx="87.31" cy="515.45" r="2.00" fill="#d4d4d4" stroke="none" stroke-width="1" />
<circle cx="44.13" cy="505.48" r="2.00" fill="#d4d4d4" stroke="none" stroke-width="1" />
<circle cx="41.79" cy="511.46" r="2.00" fill="#d4d4d4" stroke="none" stroke-width="1" />
<line x1="27.20" y1="455.60" x2="27.20" y2="615.20" stroke="#666" stroke-width="0.8" />
<line x1="24.20" y1="615.20" x2="27.20" y2="615.20" stroke="#666" stroke-width="0.8" />
<text transform="matrix(1,0,0,1.042,21.60,618.31)" text-anchor="end">0</text>
<line x1="24.20" y1="575.30" x2="27.20" y2="575.30" stroke="#666" stroke-width="0.8" />
<text transform="matrix(1,0,0,1.042,21.60,578.41)" text-anchor="end">2</text>
<line x1="24.20" y1="535.40" x2="27.20" y2="535.40" stroke="#666" stroke-width="0.8" />
<text transform="matrix(1,0,0,1.042,21.60,538.51)" text-anchor="end">4</text>
<line x1="24.20" y1="495.50" x2="27.20" y2="495.50" stroke="#666" stroke-width="0.8" />
<text transform="matrix(1,0,0,1.042,21.60,498.61)" text-anchor="end">6</text>
<line x1="24.20" y1="455.60" x2="27.20" y2="455.60" stroke="#666" stroke-width="0.8" />
<text transform="matrix(1,0,0,1.042,21.60,458.71)" text-anchor="end">8</text>
<line x1="27.20" y1="615.20" x2="167.80" y2="615.20" stroke="#666" stroke-width="0.8" />
<line x1="27.79" y1="615.20" x2="27.79" y2="618.20" stroke="#666" stroke-width="0.8" />
<text transform="matrix(1,0,0,1.042,27.79,628.91)" text-anchor="middle">−3</text>
<line x1="62.80" y1="615.20" x2="62.80" y2="618.20" stroke="#666" stroke-width="0.8" />
<text transform="matrix(1,0,0,1.042,62.80,628.91)" text-anchor="middle">0</text>
<line x1="97.81" y1="615.20" x2="97.81" y2="618.20" stroke="#666" stroke-width="0.8" />
<text transform="matrix(1,0,0,1.042,97.81,628.91)" text-anchor="middle">3</text>
<line x1="132.82" y1="615.20" x2="132.82" y2="618.20" stroke="#666" stroke-width="0.8" />
<text transform="matrix(1,0,0,1.042,132.82,628.91)" text-anchor="middle">6</text>
<line x1="167.83" y1="615.20" x2="167.83" y2="618.20" stroke="#666" stroke-width="0.8" />
<text transform="matrix(1,0,0,1.042,167.83,628.91)" text-anchor="middle">9</text>
<text transform="matrix(1,0,0,1.042,96.40,642.11)" text-anchor="middle">log<tspan font-size="6" dy="2">2</tspan><tspan dy="-2">(fold change)</tspan></text>
<text transform="translate(6.5,535.3) rotate(-90)" text-anchor="middle">−log<tspan font-size="6" dy="2">10</tspan><tspan dy="-2">(</tspan><tspan font-style="italic">P</tspan> value)</text>
<line x1="69.20" y1="456.50" x2="69.20" y2="615.20" stroke="#333" stroke-width="1.1" stroke-dasharray="2.8 2.0"/>
<line x1="27.20" y1="594.30" x2="167.80" y2="594.30" stroke="#333" stroke-width="1.1" stroke-dasharray="2.8 2.0"/>
<polyline points="126.80,474.80 124.20,474.80 121.90,495.00" fill="none" stroke="#ff1616" stroke-width="0.8" />
<polyline points="116.40,488.20 118.70,488.20 120.80,502.00" fill="none" stroke="#1a1aff" stroke-width="0.8" />
<polyline points="137.10,516.60 133.60,522.60" fill="none" stroke="#1a1aff" stroke-width="0.8" />
<polyline points="97.70,505.20 106.50,528.50" fill="none" stroke="#ff1616" stroke-width="0.8" />
<polyline points="95.90,537.20 105.30,533.20" fill="none" stroke="#ff1616" stroke-width="0.8" />
<polyline points="121.30,531.50 118.70,531.50 118.00,537.00" fill="none" stroke="#ff1616" stroke-width="0.8" />
<polyline points="125.20,541.10 120.40,543.70" fill="none" stroke="#ff1616" stroke-width="0.8" />
<polyline points="110.00,551.30 116.30,549.30" fill="none" stroke="#ff1616" stroke-width="0.8" />
<polyline points="112.20,561.20 127.80,553.20" fill="none" stroke="#ff1616" stroke-width="0.8" />
<polyline points="128.40,560.00 130.20,566.50" fill="none" stroke="#ff1616" stroke-width="0.8" />
<polyline points="119.00,564.50 125.30,575.50" fill="none" stroke="#ff1616" stroke-width="0.8" />
<polyline points="114.40,572.00 121.30,587.20 125.00,587.20" fill="none" stroke="#1a1aff" stroke-width="0.8" />
<polyline points="57.00,580.50 61.30,580.50 63.60,587.50" fill="none" stroke="#159a4e" stroke-width="0.8" />
<circle cx="121.70" cy="497.00" r="2.30" fill="#ff1616" stroke="none" stroke-width="1" />
<circle cx="107.00" cy="530.60" r="2.30" fill="#ff1616" stroke="none" stroke-width="1" />
<circle cx="107.00" cy="533.20" r="2.30" fill="#ff1616" stroke="none" stroke-width="1" />
<circle cx="117.80" cy="541.80" r="2.30" fill="#ff1616" stroke="none" stroke-width="1" />
<circle cx="117.80" cy="544.80" r="2.30" fill="#ff1616" stroke="none" stroke-width="1" />
<circle cx="117.60" cy="547.80" r="2.30" fill="#ff1616" stroke="none" stroke-width="1" />
<circle cx="129.70" cy="552.40" r="2.30" fill="#ff1616" stroke="none" stroke-width="1" />
<circle cx="128.30" cy="558.00" r="2.30" fill="#ff1616" stroke="none" stroke-width="1" />
<circle cx="118.20" cy="562.40" r="2.30" fill="#ff1616" stroke="none" stroke-width="1" />
<circle cx="121.00" cy="504.00" r="2.30" fill="#1a1aff" stroke="none" stroke-width="1" />
<circle cx="132.70" cy="524.50" r="2.30" fill="#1a1aff" stroke="none" stroke-width="1" />
<circle cx="113.40" cy="570.00" r="2.30" fill="#1a1aff" stroke="none" stroke-width="1" />
<circle cx="63.90" cy="589.60" r="2.30" fill="#159a4e" stroke="none" stroke-width="1" />
<text transform="matrix(1,0,0,1.042,128.70,478.51)" fill="#ff1616">POLR2C</text>
<text transform="matrix(1,0,0,1.042,72.60,491.31)" fill="#1a1aff">SUPT16H</text>
<text transform="matrix(1,0,0,1.042,124.80,514.41)" fill="#1a1aff">SUPT6H</text>
<text transform="matrix(1,0,0,1.042,74.90,504.81)" fill="#ff1616">POLR2J</text>
<text transform="matrix(1,0,0,1.042,76.60,545.11)" fill="#ff1616">POLR2D</text>
<text transform="matrix(1,0,0,1.042,125.20,534.61)" fill="#ff1616">POLR2H</text>
<text transform="matrix(1,0,0,1.042,126.20,544.21)" fill="#ff1616">POLR2E</text>
<text transform="matrix(1,0,0,1.042,76.60,553.81)" fill="#ff1616">POLR2L</text>
<text transform="matrix(1,0,0,1.042,74.90,566.01)" fill="#ff1616">POLR2A</text>
<text transform="matrix(1,0,0,1.042,129.70,573.11)" fill="#ff1616">POLR2B</text>
<text transform="matrix(1,0,0,1.042,126.20,581.31)" fill="#ff1616">POLR2G</text>
<text transform="matrix(1,0,0,1.042,126.20,590.61)" fill="#1a1aff">SUPT5H</text>
<text transform="matrix(1,0,0,1.042,38.00,583.61)" fill="#159a4e">GFP</text>
<text transform="matrix(1,0,0,1.04,196.6,443.0)" font-family="Liberation Serif" font-size="11" font-weight="bold" stroke="#000" stroke-width="0.2">g</text>
<text transform="matrix(1,0,0,1.042,235.60,447.11)">ELOF1<tspan font-size="6" dy="-3">WT</tspan><tspan dy="3"> vs ELOF1</tspan><tspan font-size="6" dy="-3">S72K/D73K</tspan></text>
<circle cx="254.88" cy="555.75" r="2.00" fill="#d4d4d4" stroke="none" stroke-width="1" />
<circle cx="263.32" cy="526.34" r="2.00" fill="#d4d4d4" stroke="none" stroke-width="1" />
<circle cx="269.78" cy="554.46" r="2.00" fill="#d4d4d4" stroke="none" stroke-width="1" />
<circle cx="258.17" cy="539.14" r="2.00" fill="#d4d4d4" stroke="none" stroke-width="1" />
<circle cx="256.60" cy="542.02" r="2.00" fill="#d4d4d4" stroke="none" stroke-width="1" />
<circle cx="260.79" cy="583.48" r="2.00" fill="#d4d4d4" stroke="none" stroke-width="1" />
<circle cx="262.66" cy="554.46" r="2.00" fill="#d4d4d4" stroke="none" stroke-width="1" />
<circle cx="264.59" cy="538.33" r="2.00" fill="#d4d4d4" stroke="none" stroke-width="1" />
<circle cx="274.74" cy="561.61" r="2.00" fill="#d4d4d4" stroke="none" stroke-width="1" />
<circle cx="267.42" cy="524.57" r="2.00" fill="#d4d4d4" stroke="none" stroke-width="1" />
<circle cx="264.14" cy="528.05" r="2.00" fill="#d4d4d4" stroke="none" stroke-width="1" />
<circle cx="265.35" cy="579.55" r="2.00" fill="#d4d4d4" stroke="none" stroke-width="1" />
<circle cx="265.66" cy="610.11" r="2.00" fill="#d4d4d4" stroke="none" stroke-width="1" />
<circle cx="258.46" cy="576.57" r="2.00" fill="#d4d4d4" stroke="none" stroke-width="1" />
<circle cx="266.92" cy="607.18" r="2.00" fill="#d4d4d4" stroke="none" stroke-width="1" />
<circle cx="274.83" cy="572.36" r="2.00" fill="#d4d4d4" stroke="none" stroke-width="1" />
<circle cx="268.67" cy="597.03" r="2.00" fill="#d4d4d4" stroke="none" stroke-width="1" />
<circle cx="264.21" cy="580.89" r="2.00" fill="#d4d4d4" stroke="none" stroke-width="1" />
<circle cx="266.92" cy="547.31" r="2.00" fill="#d4d4d4" stroke="none" stroke-width="1" />
<circle cx="256.40" cy="580.04" r="2.00" fill="#d4d4d4" stroke="none" stroke-width="1" />
<circle cx="251.41" cy="592.62" r="2.00" fill="#d4d4d4" stroke="none" stroke-width="1" />
<circle cx="273.84" cy="577.12" r="2.00" fill="#d4d4d4" stroke="none" stroke-width="1" />
<circle cx="266.11" cy="534.06" r="2.00" fill="#d4d4d4" stroke="none" stroke-width="1" />
<circle cx="275.56" cy="576.26" r="2.00" fill="#d4d4d4" stroke="none" stroke-width="1" />
<circle cx="258.50" cy="545.55" r="2.00" fill="#d4d4d4" stroke="none" stroke-width="1" />
<circle cx="270.32" cy="552.84" r="2.00" fill="#d4d4d4" stroke="none" stroke-width="1" />
<circle cx="268.78" cy="555.37" r="2.00" fill="#d4d4d4" stroke="none" stroke-width="1" />
<circle cx="264.18" cy="573.21" r="2.00" fill="#d4d4d4" stroke="none" stroke-width="1" />
<circle cx="258.99" cy="540.30" r="2.00" fill="#d4d4d4" stroke="none" stroke-width="1" />
<circle cx="274.48" cy="612.58" r="2.00" fill="#d4d4d4" stroke="none" stroke-width="1" />
<circle cx="253.56" cy="582.75" r="2.00" fill="#d4d4d4" stroke="none" stroke-width="1" />
<circle cx="269.49" cy="546.59" r="2.00" fill="#d4d4d4" stroke="none" stroke-width="1" />
<circle cx="260.51" cy="558.04" r="2.00" fill="#d4d4d4" stroke="none" stroke-width="1" />
<circle cx="266.78" cy="546.17" r="2.00" fill="#d4d4d4" stroke="none" stroke-width="1" />
<circle cx="251.70" cy="553.30" r="2.00" fill="#d4d4d4" stroke="none" stroke-width="1" />
<circle cx="274.64" cy="570.33" r="2.00" fill="#d4d4d4" stroke="none" stroke-width="1" />
<circle cx="249.43" cy="577.96" r="2.00" fill="#d4d4d4" stroke="none" stroke-width="1" />
<circle cx="264.30" cy="604.05" r="2.00" fill="#d4d4d4" stroke="none" stroke-width="1" />
<circle cx="263.97" cy="550.97" r="2.00" fill="#d4d4d4" stroke="none" stroke-width="1" />
<circle cx="267.04" cy="524.79" r="2.00" fill="#d4d4d4" stroke="none" stroke-width="1" />
<circle cx="282.22" cy="569.32" r="2.00" fill="#d4d4d4" stroke="none" stroke-width="1" />
<circle cx="241.21" cy="604.83" r="2.00" fill="#d4d4d4" stroke="none" stroke-width="1" />
<circle cx="266.18" cy="563.12" r="2.00" fill="#d4d4d4" stroke="none" stroke-width="1" />
<circle cx="257.84" cy="597.63" r="2.00" fill="#d4d4d4" stroke="none" stroke-width="1" />
<circle cx="265.77" cy="538.30" r="2.00" fill="#d4d4d4" stroke="none" stroke-width="1" />
<circle cx="259.66" cy="604.91" r="2.00" fill="#d4d4d4" stroke="none" stroke-width="1" />
<circle cx="276.28" cy="552.03" r="2.00" fill="#d4d4d4" stroke="none" stroke-width="1" />
<circle cx="249.41" cy="570.98" r="2.00" fill="#d4d4d4" stroke="none" stroke-width="1" />
<circle cx="264.08" cy="609.69" r="2.00" fill="#d4d4d4" stroke="none" stroke-width="1" />
<circle cx="256.70" cy="580.79" r="2.00" fill="#d4d4d4" stroke="none" stroke-width="1" />
<circle cx="270.67" cy="583.32" r="2.00" fill="#d4d4d4" stroke="none" stroke-width="1" />
<circle cx="265.60" cy="586.80" r="2.00" fill="#d4d4d4" stroke="none" stroke-width="1" />
<circle cx="268.08" cy="594.18" r="2.00" fill="#d4d4d4" stroke="none" stroke-width="1" />
<circle cx="270.35" cy="596.54" r="2.00" fill="#d4d4d4" stroke="none" stroke-width="1" />
<circle cx="255.58" cy="576.81" r="2.00" fill="#d4d4d4" stroke="none" stroke-width="1" />
<circle cx="260.75" cy="607.43" r="2.00" fill="#d4d4d4" stroke="none" stroke-width="1" />
<circle cx="268.88" cy="575.68" r="2.00" fill="#d4d4d4" stroke="none" stroke-width="1" />
<circle cx="272.36" cy="540.07" r="2.00" fill="#d4d4d4" stroke="none" stroke-width="1" />
<circle cx="265.84" cy="573.28" r="2.00" fill="#d4d4d4" stroke="none" stroke-width="1" />
<circle cx="278.25" cy="592.99" r="2.00" fill="#d4d4d4" stroke="none" stroke-width="1" />
<circle cx="266.62" cy="525.83" r="2.00" fill="#d4d4d4" stroke="none" stroke-width="1" />
<circle cx="268.73" cy="534.13" r="2.00" fill="#d4d4d4" stroke="none" stroke-width="1" />
<circle cx="249.14" cy="592.33" r="2.00" fill="#d4d4d4" stroke="none" stroke-width="1" />
<circle cx="263.14" cy="584.86" r="2.00" fill="#d4d4d4" stroke="none" stroke-width="1" />
<circle cx="255.87" cy="558.81" r="2.00" fill="#d4d4d4" stroke="none" stroke-width="1" />
<circle cx="276.37" cy="607.58" r="2.00" fill="#d4d4d4" stroke="none" stroke-width="1" />
<circle cx="261.64" cy="587.45" r="2.00" fill="#d4d4d4" stroke="none" stroke-width="1" />
<circle cx="259.53" cy="544.91" r="2.00" fill="#d4d4d4" stroke="none" stroke-width="1" />
<circle cx="278.32" cy="557.05" r="2.00" fill="#d4d4d4" stroke="none" stroke-width="1" />
<circle cx="261.07" cy="544.84" r="2.00" fill="#d4d4d4" stroke="none" stroke-width="1" />
<circle cx="260.88" cy="570.94" r="2.00" fill="#d4d4d4" stroke="none" stroke-width="1" />
<circle cx="267.56" cy="539.92" r="2.00" fill="#d4d4d4" stroke="none" stroke-width="1" />
<circle cx="270.18" cy="607.24" r="2.00" fill="#d4d4d4" stroke="none" stroke-width="1" />
<circle cx="272.27" cy="567.81" r="2.00" fill="#d4d4d4" stroke="none" stroke-width="1" />
<circle cx="273.04" cy="549.12" r="2.00" fill="#d4d4d4" stroke="none" stroke-width="1" />
<circle cx="267.88" cy="553.92" r="2.00" fill="#d4d4d4" stroke="none" stroke-width="1" />
<circle cx="254.96" cy="561.88" r="2.00" fill="#d4d4d4" stroke="none" stroke-width="1" />
<circle cx="274.43" cy="535.12" r="2.00" fill="#d4d4d4" stroke="none" stroke-width="1" />
<circle cx="259.39" cy="581.98" r="2.00" fill="#d4d4d4" stroke="none" stroke-width="1" />
<circle cx="257.83" cy="539.69" r="2.00" fill="#d4d4d4" stroke="none" stroke-width="1" />
<circle cx="265.75" cy="583.42" r="2.00" fill="#d4d4d4" stroke="none" stroke-width="1" />
<circle cx="262.79" cy="590.56" r="2.00" fill="#d4d4d4" stroke="none" stroke-width="1" />
<circle cx="270.08" cy="587.74" r="2.00" fill="#d4d4d4" stroke="none" stroke-width="1" />
<circle cx="272.34" cy="545.12" r="2.00" fill="#d4d4d4" stroke="none" stroke-width="1" />
<circle cx="279.85" cy="553.61" r="2.00" fill="#d4d4d4" stroke="none" stroke-width="1" />
<circle cx="254.93" cy="602.35" r="2.00" fill="#d4d4d4" stroke="none" stroke-width="1" />
<circle cx="270.03" cy="593.17" r="2.00" fill="#d4d4d4" stroke="none" stroke-width="1" />
<circle cx="255.46" cy="546.02" r="2.00" fill="#d4d4d4" stroke="none" stroke-width="1" />
<circle cx="268.69" cy="611.40" r="2.00" fill="#d4d4d4" stroke="none" stroke-width="1" />
<circle cx="274.78" cy="585.08" r="2.00" fill="#d4d4d4" stroke="none" stroke-width="1" />
<circle cx="254.74" cy="564.10" r="2.00" fill="#d4d4d4" stroke="none" stroke-width="1" />
<circle cx="258.88" cy="558.19" r="2.00" fill="#d4d4d4" stroke="none" stroke-width="1" />
<circle cx="270.81" cy="597.82" r="2.00" fill="#d4d4d4" stroke="none" stroke-width="1" />
<circle cx="248.27" cy="612.06" r="2.00" fill="#d4d4d4" stroke="none" stroke-width="1" />
<circle cx="262.48" cy="573.76" r="2.00" fill="#d4d4d4" stroke="none" stroke-width="1" />
<circle cx="281.52" cy="591.10" r="2.00" fill="#d4d4d4" stroke="none" stroke-width="1" />
<circle cx="264.84" cy="583.90" r="2.00" fill="#d4d4d4" stroke="none" stroke-width="1" />
<circle cx="268.29" cy="613.58" r="2.00" fill="#d4d4d4" stroke="none" stroke-width="1" />
<circle cx="261.20" cy="551.98" r="2.00" fill="#d4d4d4" stroke="none" stroke-width="1" />
<circle cx="273.02" cy="579.67" r="2.00" fill="#d4d4d4" stroke="none" stroke-width="1" />
<circle cx="274.32" cy="547.20" r="2.00" fill="#d4d4d4" stroke="none" stroke-width="1" />
<circle cx="268.82" cy="538.08" r="2.00" fill="#d4d4d4" stroke="none" stroke-width="1" />
<circle cx="260.52" cy="579.84" r="2.00" fill="#d4d4d4" stroke="none" stroke-width="1" />
<circle cx="260.37" cy="576.35" r="2.00" fill="#d4d4d4" stroke="none" stroke-width="1" />
<circle cx="262.87" cy="560.91" r="2.00" fill="#d4d4d4" stroke="none" stroke-width="1" />
<circle cx="259.13" cy="542.25" r="2.00" fill="#d4d4d4" stroke="none" stroke-width="1" />
<circle cx="276.15" cy="582.31" r="2.00" fill="#d4d4d4" stroke="none" stroke-width="1" />
<circle cx="271.15" cy="578.86" r="2.00" fill="#d4d4d4" stroke="none" stroke-width="1" />
<circle cx="270.50" cy="587.03" r="2.00" fill="#d4d4d4" stroke="none" stroke-width="1" />
<circle cx="256.48" cy="613.58" r="2.00" fill="#d4d4d4" stroke="none" stroke-width="1" />
<circle cx="261.76" cy="579.72" r="2.00" fill="#d4d4d4" stroke="none" stroke-width="1" />
<circle cx="261.80" cy="589.97" r="2.00" fill="#d4d4d4" stroke="none" stroke-width="1" />
<circle cx="265.57" cy="530.40" r="2.00" fill="#d4d4d4" stroke="none" stroke-width="1" />
<circle cx="270.94" cy="598.14" r="2.00" fill="#d4d4d4" stroke="none" stroke-width="1" />
<circle cx="252.79" cy="555.93" r="2.00" fill="#d4d4d4" stroke="none" stroke-width="1" />
<circle cx="266.35" cy="575.66" r="2.00" fill="#d4d4d4" stroke="none" stroke-width="1" />
<circle cx="257.24" cy="565.92" r="2.00" fill="#d4d4d4" stroke="none" stroke-width="1" />
<circle cx="262.32" cy="536.35" r="2.00" fill="#d4d4d4" stroke="none" stroke-width="1" />
<circle cx="253.19" cy="567.59" r="2.00" fill="#d4d4d4" stroke="none" stroke-width="1" />
<circle cx="254.59" cy="578.06" r="2.00" fill="#d4d4d4" stroke="none" stroke-width="1" />
<circle cx="273.35" cy="549.56" r="2.00" fill="#d4d4d4" stroke="none" stroke-width="1" />
<circle cx="275.99" cy="576.98" r="2.00" fill="#d4d4d4" stroke="none" stroke-width="1" />
<circle cx="262.55" cy="527.37" r="2.00" fill="#d4d4d4" stroke="none" stroke-width="1" />
<circle cx="261.80" cy="541.83" r="2.00" fill="#d4d4d4" stroke="none" stroke-width="1" />
<circle cx="270.04" cy="598.49" r="2.00" fill="#d4d4d4" stroke="none" stroke-width="1" />
<circle cx="273.26" cy="543.15" r="2.00" fill="#d4d4d4" stroke="none" stroke-width="1" />
<circle cx="265.57" cy="599.93" r="2.00" fill="#d4d4d4" stroke="none" stroke-width="1" />
<circle cx="267.97" cy="537.87" r="2.00" fill="#d4d4d4" stroke="none" stroke-width="1" />
<circle cx="252.86" cy="585.45" r="2.00" fill="#d4d4d4" stroke="none" stroke-width="1" />
<circle cx="258.22" cy="610.98" r="2.00" fill="#d4d4d4" stroke="none" stroke-width="1" />
<circle cx="267.69" cy="546.75" r="2.00" fill="#d4d4d4" stroke="none" stroke-width="1" />
<circle cx="267.37" cy="521.85" r="2.00" fill="#d4d4d4" stroke="none" stroke-width="1" />
<circle cx="260.43" cy="547.41" r="2.00" fill="#d4d4d4" stroke="none" stroke-width="1" />
<circle cx="262.05" cy="566.13" r="2.00" fill="#d4d4d4" stroke="none" stroke-width="1" />
<circle cx="262.57" cy="570.45" r="2.00" fill="#d4d4d4" stroke="none" stroke-width="1" />
<circle cx="260.44" cy="574.54" r="2.00" fill="#d4d4d4" stroke="none" stroke-width="1" />
<circle cx="269.74" cy="601.44" r="2.00" fill="#d4d4d4" stroke="none" stroke-width="1" />
<circle cx="262.82" cy="608.34" r="2.00" fill="#d4d4d4" stroke="none" stroke-width="1" />
<circle cx="274.17" cy="613.28" r="2.00" fill="#d4d4d4" stroke="none" stroke-width="1" />
<circle cx="260.38" cy="567.30" r="2.00" fill="#d4d4d4" stroke="none" stroke-width="1" />
<circle cx="257.67" cy="575.75" r="2.00" fill="#d4d4d4" stroke="none" stroke-width="1" />
<circle cx="256.00" cy="610.72" r="2.00" fill="#d4d4d4" stroke="none" stroke-width="1" />
<circle cx="274.10" cy="553.78" r="2.00" fill="#d4d4d4" stroke="none" stroke-width="1" />
<circle cx="241.37" cy="606.74" r="2.00" fill="#d4d4d4" stroke="none" stroke-width="1" />
<circle cx="250.89" cy="553.28" r="2.00" fill="#d4d4d4" stroke="none" stroke-width="1" />
<circle cx="253.26" cy="590.39" r="2.00" fill="#d4d4d4" stroke="none" stroke-width="1" />
<circle cx="273.25" cy="601.72" r="2.00" fill="#d4d4d4" stroke="none" stroke-width="1" />
<circle cx="272.73" cy="589.84" r="2.00" fill="#d4d4d4" stroke="none" stroke-width="1" />
<circle cx="276.30" cy="580.47" r="2.00" fill="#d4d4d4" stroke="none" stroke-width="1" />
<circle cx="270.51" cy="531.98" r="2.00" fill="#d4d4d4" stroke="none" stroke-width="1" />
<circle cx="277.64" cy="605.31" r="2.00" fill="#d4d4d4" stroke="none" stroke-width="1" />
<circle cx="270.18" cy="561.26" r="2.00" fill="#d4d4d4" stroke="none" stroke-width="1" />
<circle cx="259.86" cy="553.74" r="2.00" fill="#d4d4d4" stroke="none" stroke-width="1" />
<circle cx="248.66" cy="580.85" r="2.00" fill="#d4d4d4" stroke="none" stroke-width="1" />
<circle cx="270.18" cy="536.20" r="2.00" fill="#d4d4d4" stroke="none" stroke-width="1" />
<circle cx="254.69" cy="544.41" r="2.00" fill="#d4d4d4" stroke="none" stroke-width="1" />
<circle cx="257.60" cy="602.09" r="2.00" fill="#d4d4d4" stroke="none" stroke-width="1" />
<circle cx="273.49" cy="542.74" r="2.00" fill="#d4d4d4" stroke="none" stroke-width="1" />
<circle cx="265.39" cy="559.40" r="2.00" fill="#d4d4d4" stroke="none" stroke-width="1" />
<circle cx="256.33" cy="546.21" r="2.00" fill="#d4d4d4" stroke="none" stroke-width="1" />
<circle cx="267.69" cy="544.41" r="2.00" fill="#d4d4d4" stroke="none" stroke-width="1" />
<circle cx="267.98" cy="523.09" r="2.00" fill="#d4d4d4" stroke="none" stroke-width="1" />
<circle cx="266.41" cy="534.21" r="2.00" fill="#d4d4d4" stroke="none" stroke-width="1" />
<circle cx="249.01" cy="606.38" r="2.00" fill="#d4d4d4" stroke="none" stroke-width="1" />
<circle cx="256.89" cy="610.51" r="2.00" fill="#d4d4d4" stroke="none" stroke-width="1" />
<circle cx="276.09" cy="597.35" r="2.00" fill="#d4d4d4" stroke="none" stroke-width="1" />
<circle cx="251.88" cy="586.68" r="2.00" fill="#d4d4d4" stroke="none" stroke-width="1" />
<circle cx="264.44" cy="588.46" r="2.00" fill="#d4d4d4" stroke="none" stroke-width="1" />
<circle cx="264.28" cy="556.98" r="2.00" fill="#d4d4d4" stroke="none" stroke-width="1" />
<circle cx="267.98" cy="556.29" r="2.00" fill="#d4d4d4" stroke="none" stroke-width="1" />
<circle cx="262.02" cy="563.17" r="2.00" fill="#d4d4d4" stroke="none" stroke-width="1" />
<circle cx="252.99" cy="600.61" r="2.00" fill="#d4d4d4" stroke="none" stroke-width="1" />
<circle cx="273.27" cy="563.11" r="2.00" fill="#d4d4d4" stroke="none" stroke-width="1" />
<circle cx="264.10" cy="613.58" r="2.00" fill="#d4d4d4" stroke="none" stroke-width="1" />
<circle cx="262.34" cy="543.57" r="2.00" fill="#d4d4d4" stroke="none" stroke-width="1" />
<circle cx="262.32" cy="529.78" r="2.00" fill="#d4d4d4" stroke="none" stroke-width="1" />
<circle cx="263.36" cy="604.15" r="2.00" fill="#d4d4d4" stroke="none" stroke-width="1" />
<circle cx="256.28" cy="556.37" r="2.00" fill="#d4d4d4" stroke="none" stroke-width="1" />
<circle cx="268.36" cy="548.14" r="2.00" fill="#d4d4d4" stroke="none" stroke-width="1" />
<circle cx="272.42" cy="576.64" r="2.00" fill="#d4d4d4" stroke="none" stroke-width="1" />
<circle cx="262.55" cy="571.71" r="2.00" fill="#d4d4d4" stroke="none" stroke-width="1" />
<circle cx="259.33" cy="544.72" r="2.00" fill="#d4d4d4" stroke="none" stroke-width="1" />
<circle cx="280.48" cy="575.38" r="2.00" fill="#d4d4d4" stroke="none" stroke-width="1" />
<circle cx="272.39" cy="579.25" r="2.00" fill="#d4d4d4" stroke="none" stroke-width="1" />
<circle cx="263.85" cy="531.34" r="2.00" fill="#d4d4d4" stroke="none" stroke-width="1" />
<circle cx="266.32" cy="603.61" r="2.00" fill="#d4d4d4" stroke="none" stroke-width="1" />
<circle cx="270.78" cy="547.36" r="2.00" fill="#d4d4d4" stroke="none" stroke-width="1" />
<circle cx="278.17" cy="596.96" r="2.00" fill="#d4d4d4" stroke="none" stroke-width="1" />
<circle cx="282.02" cy="567.13" r="2.00" fill="#d4d4d4" stroke="none" stroke-width="1" />
<circle cx="263.78" cy="605.38" r="2.00" fill="#d4d4d4" stroke="none" stroke-width="1" />
<circle cx="258.37" cy="598.54" r="2.00" fill="#d4d4d4" stroke="none" stroke-width="1" />
<circle cx="269.33" cy="586.58" r="2.00" fill="#d4d4d4" stroke="none" stroke-width="1" />
<circle cx="244.19" cy="605.15" r="2.00" fill="#d4d4d4" stroke="none" stroke-width="1" />
<circle cx="254.76" cy="541.85" r="2.00" fill="#d4d4d4" stroke="none" stroke-width="1" />
<circle cx="264.43" cy="597.17" r="2.00" fill="#d4d4d4" stroke="none" stroke-width="1" />
<circle cx="251.26" cy="580.17" r="2.00" fill="#d4d4d4" stroke="none" stroke-width="1" />
<circle cx="268.11" cy="552.53" r="2.00" fill="#d4d4d4" stroke="none" stroke-width="1" />
<circle cx="251.62" cy="557.17" r="2.00" fill="#d4d4d4" stroke="none" stroke-width="1" />
<circle cx="270.60" cy="536.68" r="2.00" fill="#d4d4d4" stroke="none" stroke-width="1" />
<circle cx="276.85" cy="552.29" r="2.00" fill="#d4d4d4" stroke="none" stroke-width="1" />
<circle cx="268.44" cy="554.56" r="2.00" fill="#d4d4d4" stroke="none" stroke-width="1" />
<circle cx="257.05" cy="552.42" r="2.00" fill="#d4d4d4" stroke="none" stroke-width="1" />
<circle cx="263.11" cy="527.46" r="2.00" fill="#d4d4d4" stroke="none" stroke-width="1" />
<circle cx="273.84" cy="550.29" r="2.00" fill="#d4d4d4" stroke="none" stroke-width="1" />
<circle cx="269.12" cy="585.82" r="2.00" fill="#d4d4d4" stroke="none" stroke-width="1" />
<circle cx="271.50" cy="573.46" r="2.00" fill="#d4d4d4" stroke="none" stroke-width="1" />
<circle cx="276.37" cy="594.01" r="2.00" fill="#d4d4d4" stroke="none" stroke-width="1" />
<circle cx="274.50" cy="544.70" r="2.00" fill="#d4d4d4" stroke="none" stroke-width="1" />
<circle cx="270.48" cy="546.76" r="2.00" fill="#d4d4d4" stroke="none" stroke-width="1" />
<circle cx="263.26" cy="524.32" r="2.00" fill="#d4d4d4" stroke="none" stroke-width="1" />
<circle cx="276.40" cy="590.66" r="2.00" fill="#d4d4d4" stroke="none" stroke-width="1" />
<circle cx="258.39" cy="556.81" r="2.00" fill="#d4d4d4" stroke="none" stroke-width="1" />
<circle cx="253.09" cy="590.29" r="2.00" fill="#d4d4d4" stroke="none" stroke-width="1" />
<circle cx="275.63" cy="571.64" r="2.00" fill="#d4d4d4" stroke="none" stroke-width="1" />
<circle cx="262.34" cy="597.75" r="2.00" fill="#d4d4d4" stroke="none" stroke-width="1" />
<circle cx="265.62" cy="591.94" r="2.00" fill="#d4d4d4" stroke="none" stroke-width="1" />
<circle cx="256.30" cy="546.35" r="2.00" fill="#d4d4d4" stroke="none" stroke-width="1" />
<circle cx="253.33" cy="601.08" r="2.00" fill="#d4d4d4" stroke="none" stroke-width="1" />
<circle cx="260.38" cy="606.22" r="2.00" fill="#d4d4d4" stroke="none" stroke-width="1" />
<circle cx="260.70" cy="549.03" r="2.00" fill="#d4d4d4" stroke="none" stroke-width="1" />
<circle cx="266.30" cy="572.03" r="2.00" fill="#d4d4d4" stroke="none" stroke-width="1" />
<circle cx="270.13" cy="581.01" r="2.00" fill="#d4d4d4" stroke="none" stroke-width="1" />
<circle cx="262.79" cy="528.38" r="2.00" fill="#d4d4d4" stroke="none" stroke-width="1" />
<circle cx="277.38" cy="554.28" r="2.00" fill="#d4d4d4" stroke="none" stroke-width="1" />
<circle cx="250.81" cy="605.32" r="2.00" fill="#d4d4d4" stroke="none" stroke-width="1" />
<circle cx="264.87" cy="544.27" r="2.00" fill="#d4d4d4" stroke="none" stroke-width="1" />
<circle cx="252.87" cy="572.76" r="2.00" fill="#d4d4d4" stroke="none" stroke-width="1" />
<circle cx="250.38" cy="591.29" r="2.00" fill="#d4d4d4" stroke="none" stroke-width="1" />
<circle cx="257.42" cy="597.90" r="2.00" fill="#d4d4d4" stroke="none" stroke-width="1" />
<circle cx="267.36" cy="590.37" r="2.00" fill="#d4d4d4" stroke="none" stroke-width="1" />
<circle cx="252.47" cy="556.96" r="2.00" fill="#d4d4d4" stroke="none" stroke-width="1" />
<circle cx="268.22" cy="532.19" r="2.00" fill="#d4d4d4" stroke="none" stroke-width="1" />
<circle cx="246.75" cy="573.60" r="2.00" fill="#d4d4d4" stroke="none" stroke-width="1" />
<circle cx="252.44" cy="589.50" r="2.00" fill="#d4d4d4" stroke="none" stroke-width="1" />
<circle cx="258.32" cy="588.31" r="2.00" fill="#d4d4d4" stroke="none" stroke-width="1" />
<circle cx="271.54" cy="606.88" r="2.00" fill="#d4d4d4" stroke="none" stroke-width="1" />
<circle cx="270.69" cy="583.37" r="2.00" fill="#d4d4d4" stroke="none" stroke-width="1" />
<circle cx="267.05" cy="539.68" r="2.00" fill="#d4d4d4" stroke="none" stroke-width="1" />
<circle cx="276.61" cy="547.20" r="2.00" fill="#d4d4d4" stroke="none" stroke-width="1" />
<circle cx="267.36" cy="551.28" r="2.00" fill="#d4d4d4" stroke="none" stroke-width="1" />
<circle cx="280.93" cy="572.72" r="2.00" fill="#d4d4d4" stroke="none" stroke-width="1" />
<circle cx="263.07" cy="529.05" r="2.00" fill="#d4d4d4" stroke="none" stroke-width="1" />
<circle cx="271.22" cy="565.73" r="2.00" fill="#d4d4d4" stroke="none" stroke-width="1" />
<circle cx="271.35" cy="557.59" r="2.00" fill="#d4d4d4" stroke="none" stroke-width="1" />
<circle cx="274.44" cy="569.79" r="2.00" fill="#d4d4d4" stroke="none" stroke-width="1" />
<circle cx="253.13" cy="556.86" r="2.00" fill="#d4d4d4" stroke="none" stroke-width="1" />
<circle cx="269.22" cy="548.82" r="2.00" fill="#d4d4d4" stroke="none" stroke-width="1" />
<circle cx="261.23" cy="574.55" r="2.00" fill="#d4d4d4" stroke="none" stroke-width="1" />
<circle cx="256.82" cy="573.33" r="2.00" fill="#d4d4d4" stroke="none" stroke-width="1" />
<circle cx="270.96" cy="553.21" r="2.00" fill="#d4d4d4" stroke="none" stroke-width="1" />
<circle cx="272.75" cy="573.69" r="2.00" fill="#d4d4d4" stroke="none" stroke-width="1" />
<circle cx="273.74" cy="585.18" r="2.00" fill="#d4d4d4" stroke="none" stroke-width="1" />
<circle cx="263.57" cy="555.42" r="2.00" fill="#d4d4d4" stroke="none" stroke-width="1" />
<circle cx="265.59" cy="555.04" r="2.00" fill="#d4d4d4" stroke="none" stroke-width="1" />
<circle cx="265.36" cy="557.79" r="2.00" fill="#d4d4d4" stroke="none" stroke-width="1" />
<circle cx="261.19" cy="533.26" r="2.00" fill="#d4d4d4" stroke="none" stroke-width="1" />
<circle cx="263.77" cy="533.71" r="2.00" fill="#d4d4d4" stroke="none" stroke-width="1" />
<circle cx="272.77" cy="555.95" r="2.00" fill="#d4d4d4" stroke="none" stroke-width="1" />
<circle cx="262.34" cy="587.07" r="2.00" fill="#d4d4d4" stroke="none" stroke-width="1" />
<circle cx="264.16" cy="568.48" r="2.00" fill="#d4d4d4" stroke="none" stroke-width="1" />
<circle cx="241.22" cy="613.58" r="2.00" fill="#d4d4d4" stroke="none" stroke-width="1" />
<circle cx="273.62" cy="545.13" r="2.00" fill="#d4d4d4" stroke="none" stroke-width="1" />
<circle cx="263.29" cy="588.74" r="2.00" fill="#d4d4d4" stroke="none" stroke-width="1" />
<circle cx="252.03" cy="563.86" r="2.00" fill="#d4d4d4" stroke="none" stroke-width="1" />
<circle cx="264.40" cy="545.72" r="2.00" fill="#d4d4d4" stroke="none" stroke-width="1" />
<circle cx="267.21" cy="613.58" r="2.00" fill="#d4d4d4" stroke="none" stroke-width="1" />
<circle cx="272.02" cy="568.70" r="2.00" fill="#d4d4d4" stroke="none" stroke-width="1" />
<circle cx="268.63" cy="550.16" r="2.00" fill="#d4d4d4" stroke="none" stroke-width="1" />
<circle cx="278.77" cy="567.02" r="2.00" fill="#d4d4d4" stroke="none" stroke-width="1" />
<circle cx="255.59" cy="566.43" r="2.00" fill="#d4d4d4" stroke="none" stroke-width="1" />
<circle cx="255.07" cy="587.90" r="2.00" fill="#d4d4d4" stroke="none" stroke-width="1" />
<circle cx="261.35" cy="581.58" r="2.00" fill="#d4d4d4" stroke="none" stroke-width="1" />
<circle cx="257.35" cy="593.04" r="2.00" fill="#d4d4d4" stroke="none" stroke-width="1" />
<circle cx="258.78" cy="613.49" r="2.00" fill="#d4d4d4" stroke="none" stroke-width="1" />
<circle cx="271.57" cy="585.32" r="2.00" fill="#d4d4d4" stroke="none" stroke-width="1" />
<circle cx="259.54" cy="600.04" r="2.00" fill="#d4d4d4" stroke="none" stroke-width="1" />
<circle cx="257.06" cy="567.06" r="2.00" fill="#d4d4d4" stroke="none" stroke-width="1" />
<circle cx="257.18" cy="547.43" r="2.00" fill="#d4d4d4" stroke="none" stroke-width="1" />
<circle cx="271.37" cy="585.31" r="2.00" fill="#d4d4d4" stroke="none" stroke-width="1" />
<circle cx="267.35" cy="598.50" r="2.00" fill="#d4d4d4" stroke="none" stroke-width="1" />
<circle cx="257.49" cy="547.33" r="2.00" fill="#d4d4d4" stroke="none" stroke-width="1" />
<circle cx="265.63" cy="539.35" r="2.00" fill="#d4d4d4" stroke="none" stroke-width="1" />
<circle cx="273.79" cy="554.98" r="2.00" fill="#d4d4d4" stroke="none" stroke-width="1" />
<circle cx="261.78" cy="557.28" r="2.00" fill="#d4d4d4" stroke="none" stroke-width="1" />
<circle cx="271.92" cy="569.51" r="2.00" fill="#d4d4d4" stroke="none" stroke-width="1" />
<circle cx="272.95" cy="608.82" r="2.00" fill="#d4d4d4" stroke="none" stroke-width="1" />
<circle cx="261.48" cy="580.61" r="2.00" fill="#d4d4d4" stroke="none" stroke-width="1" />
<circle cx="276.54" cy="581.67" r="2.00" fill="#d4d4d4" stroke="none" stroke-width="1" />
<circle cx="260.62" cy="560.38" r="2.00" fill="#d4d4d4" stroke="none" stroke-width="1" />
<circle cx="270.23" cy="545.53" r="2.00" fill="#d4d4d4" stroke="none" stroke-width="1" />
<circle cx="297.08" cy="602.45" r="2.00" fill="#d4d4d4" stroke="none" stroke-width="1" />
<circle cx="316.42" cy="565.63" r="2.00" fill="#d4d4d4" stroke="none" stroke-width="1" />
<circle cx="312.76" cy="550.84" r="2.00" fill="#d4d4d4" stroke="none" stroke-width="1" />
<circle cx="296.49" cy="570.72" r="2.00" fill="#d4d4d4" stroke="none" stroke-width="1" />
<circle cx="300.97" cy="590.88" r="2.00" fill="#d4d4d4" stroke="none" stroke-width="1" />
<circle cx="302.33" cy="525.33" r="2.00" fill="#d4d4d4" stroke="none" stroke-width="1" />
<circle cx="324.63" cy="577.73" r="2.00" fill="#d4d4d4" stroke="none" stroke-width="1" />
<circle cx="311.36" cy="571.23" r="2.00" fill="#d4d4d4" stroke="none" stroke-width="1" />
<circle cx="310.65" cy="556.46" r="2.00" fill="#d4d4d4" stroke="none" stroke-width="1" />
<circle cx="311.41" cy="530.66" r="2.00" fill="#d4d4d4" stroke="none" stroke-width="1" />
<circle cx="307.75" cy="605.81" r="2.00" fill="#d4d4d4" stroke="none" stroke-width="1" />
<circle cx="313.26" cy="527.91" r="2.00" fill="#d4d4d4" stroke="none" stroke-width="1" />
<circle cx="295.88" cy="597.42" r="2.00" fill="#d4d4d4" stroke="none" stroke-width="1" />
<circle cx="309.00" cy="597.39" r="2.00" fill="#d4d4d4" stroke="none" stroke-width="1" />
<circle cx="304.72" cy="520.40" r="2.00" fill="#d4d4d4" stroke="none" stroke-width="1" />
<circle cx="302.31" cy="589.45" r="2.00" fill="#d4d4d4" stroke="none" stroke-width="1" />
<circle cx="318.00" cy="602.40" r="2.00" fill="#d4d4d4" stroke="none" stroke-width="1" />
<circle cx="309.81" cy="523.41" r="2.00" fill="#d4d4d4" stroke="none" stroke-width="1" />
<circle cx="313.20" cy="523.55" r="2.00" fill="#d4d4d4" stroke="none" stroke-width="1" />
<circle cx="316.25" cy="526.64" r="2.00" fill="#d4d4d4" stroke="none" stroke-width="1" />
<circle cx="309.10" cy="597.26" r="2.00" fill="#d4d4d4" stroke="none" stroke-width="1" />
<circle cx="298.99" cy="561.82" r="2.00" fill="#d4d4d4" stroke="none" stroke-width="1" />
<circle cx="290.13" cy="562.92" r="2.00" fill="#d4d4d4" stroke="none" stroke-width="1" />
<circle cx="316.80" cy="580.63" r="2.00" fill="#d4d4d4" stroke="none" stroke-width="1" />
<circle cx="286.93" cy="585.26" r="2.00" fill="#d4d4d4" stroke="none" stroke-width="1" />
<circle cx="288.17" cy="612.20" r="2.00" fill="#d4d4d4" stroke="none" stroke-width="1" />
<circle cx="309.07" cy="533.75" r="2.00" fill="#d4d4d4" stroke="none" stroke-width="1" />
<circle cx="296.46" cy="540.24" r="2.00" fill="#d4d4d4" stroke="none" stroke-width="1" />
<circle cx="312.29" cy="515.92" r="2.00" fill="#d4d4d4" stroke="none" stroke-width="1" />
<circle cx="321.33" cy="606.57" r="2.00" fill="#d4d4d4" stroke="none" stroke-width="1" />
<circle cx="320.53" cy="522.86" r="2.00" fill="#d4d4d4" stroke="none" stroke-width="1" />
<circle cx="310.45" cy="539.66" r="2.00" fill="#d4d4d4" stroke="none" stroke-width="1" />
<circle cx="306.71" cy="604.05" r="2.00" fill="#d4d4d4" stroke="none" stroke-width="1" />
<circle cx="296.11" cy="561.75" r="2.00" fill="#d4d4d4" stroke="none" stroke-width="1" />
<circle cx="307.89" cy="553.85" r="2.00" fill="#d4d4d4" stroke="none" stroke-width="1" />
<circle cx="301.33" cy="573.83" r="2.00" fill="#d4d4d4" stroke="none" stroke-width="1" />
<circle cx="286.72" cy="567.06" r="2.00" fill="#d4d4d4" stroke="none" stroke-width="1" />
<circle cx="297.82" cy="572.10" r="2.00" fill="#d4d4d4" stroke="none" stroke-width="1" />
<circle cx="301.52" cy="542.06" r="2.00" fill="#d4d4d4" stroke="none" stroke-width="1" />
<circle cx="302.98" cy="613.07" r="2.00" fill="#d4d4d4" stroke="none" stroke-width="1" />
<circle cx="307.98" cy="530.48" r="2.00" fill="#d4d4d4" stroke="none" stroke-width="1" />
<circle cx="296.16" cy="589.37" r="2.00" fill="#d4d4d4" stroke="none" stroke-width="1" />
<circle cx="305.08" cy="558.44" r="2.00" fill="#d4d4d4" stroke="none" stroke-width="1" />
<circle cx="299.22" cy="529.77" r="2.00" fill="#d4d4d4" stroke="none" stroke-width="1" />
<circle cx="317.00" cy="600.37" r="2.00" fill="#d4d4d4" stroke="none" stroke-width="1" />
<circle cx="303.18" cy="581.74" r="2.00" fill="#d4d4d4" stroke="none" stroke-width="1" />
<circle cx="313.12" cy="605.53" r="2.00" fill="#d4d4d4" stroke="none" stroke-width="1" />
<circle cx="290.46" cy="576.77" r="2.00" fill="#d4d4d4" stroke="none" stroke-width="1" />
<circle cx="303.43" cy="528.15" r="2.00" fill="#d4d4d4" stroke="none" stroke-width="1" />
<circle cx="316.93" cy="526.96" r="2.00" fill="#d4d4d4" stroke="none" stroke-width="1" />
<circle cx="288.83" cy="576.10" r="2.00" fill="#d4d4d4" stroke="none" stroke-width="1" />
<circle cx="287.95" cy="592.23" r="2.00" fill="#d4d4d4" stroke="none" stroke-width="1" />
<circle cx="308.32" cy="548.90" r="2.00" fill="#d4d4d4" stroke="none" stroke-width="1" />
<circle cx="295.69" cy="542.87" r="2.00" fill="#d4d4d4" stroke="none" stroke-width="1" />
<circle cx="296.82" cy="594.52" r="2.00" fill="#d4d4d4" stroke="none" stroke-width="1" />
<circle cx="309.68" cy="540.91" r="2.00" fill="#d4d4d4" stroke="none" stroke-width="1" />
<circle cx="311.86" cy="563.71" r="2.00" fill="#d4d4d4" stroke="none" stroke-width="1" />
<circle cx="294.21" cy="593.94" r="2.00" fill="#d4d4d4" stroke="none" stroke-width="1" />
<circle cx="293.38" cy="579.76" r="2.00" fill="#d4d4d4" stroke="none" stroke-width="1" />
<circle cx="311.19" cy="506.57" r="2.00" fill="#d4d4d4" stroke="none" stroke-width="1" />
<circle cx="301.76" cy="571.78" r="2.00" fill="#d4d4d4" stroke="none" stroke-width="1" />
<circle cx="292.90" cy="546.17" r="2.00" fill="#d4d4d4" stroke="none" stroke-width="1" />
<circle cx="295.16" cy="569.65" r="2.00" fill="#d4d4d4" stroke="none" stroke-width="1" />
<circle cx="299.79" cy="572.88" r="2.00" fill="#d4d4d4" stroke="none" stroke-width="1" />
<circle cx="308.72" cy="613.58" r="2.00" fill="#d4d4d4" stroke="none" stroke-width="1" />
<circle cx="291.87" cy="573.37" r="2.00" fill="#d4d4d4" stroke="none" stroke-width="1" />
<circle cx="310.57" cy="589.50" r="2.00" fill="#d4d4d4" stroke="none" stroke-width="1" />
<circle cx="300.86" cy="536.46" r="2.00" fill="#d4d4d4" stroke="none" stroke-width="1" />
<circle cx="289.19" cy="577.56" r="2.00" fill="#d4d4d4" stroke="none" stroke-width="1" />
<circle cx="293.32" cy="557.24" r="2.00" fill="#d4d4d4" stroke="none" stroke-width="1" />
<circle cx="323.35" cy="544.92" r="2.00" fill="#d4d4d4" stroke="none" stroke-width="1" />
<circle cx="290.33" cy="552.03" r="2.00" fill="#d4d4d4" stroke="none" stroke-width="1" />
<circle cx="301.78" cy="562.07" r="2.00" fill="#d4d4d4" stroke="none" stroke-width="1" />
<circle cx="306.03" cy="573.86" r="2.00" fill="#d4d4d4" stroke="none" stroke-width="1" />
<circle cx="293.08" cy="589.88" r="2.00" fill="#d4d4d4" stroke="none" stroke-width="1" />
<circle cx="303.32" cy="551.41" r="2.00" fill="#d4d4d4" stroke="none" stroke-width="1" />
<circle cx="306.23" cy="566.84" r="2.00" fill="#d4d4d4" stroke="none" stroke-width="1" />
<circle cx="295.82" cy="574.53" r="2.00" fill="#d4d4d4" stroke="none" stroke-width="1" />
<circle cx="317.12" cy="584.77" r="2.00" fill="#d4d4d4" stroke="none" stroke-width="1" />
<circle cx="297.73" cy="593.54" r="2.00" fill="#d4d4d4" stroke="none" stroke-width="1" />
<circle cx="299.76" cy="567.76" r="2.00" fill="#d4d4d4" stroke="none" stroke-width="1" />
<circle cx="301.92" cy="582.97" r="2.00" fill="#d4d4d4" stroke="none" stroke-width="1" />
<circle cx="303.49" cy="573.07" r="2.00" fill="#d4d4d4" stroke="none" stroke-width="1" />
<circle cx="296.04" cy="570.26" r="2.00" fill="#d4d4d4" stroke="none" stroke-width="1" />
<circle cx="306.37" cy="557.47" r="2.00" fill="#d4d4d4" stroke="none" stroke-width="1" />
<circle cx="309.83" cy="535.45" r="2.00" fill="#d4d4d4" stroke="none" stroke-width="1" />
<circle cx="297.52" cy="574.22" r="2.00" fill="#d4d4d4" stroke="none" stroke-width="1" />
<circle cx="306.29" cy="585.99" r="2.00" fill="#d4d4d4" stroke="none" stroke-width="1" />
<circle cx="298.65" cy="613.58" r="2.00" fill="#d4d4d4" stroke="none" stroke-width="1" />
<circle cx="292.41" cy="562.48" r="2.00" fill="#d4d4d4" stroke="none" stroke-width="1" />
<circle cx="301.38" cy="544.62" r="2.00" fill="#d4d4d4" stroke="none" stroke-width="1" />
<circle cx="303.80" cy="538.72" r="2.00" fill="#d4d4d4" stroke="none" stroke-width="1" />
<circle cx="296.78" cy="597.40" r="2.00" fill="#d4d4d4" stroke="none" stroke-width="1" />
<circle cx="292.22" cy="606.41" r="2.00" fill="#d4d4d4" stroke="none" stroke-width="1" />
<circle cx="292.04" cy="554.59" r="2.00" fill="#d4d4d4" stroke="none" stroke-width="1" />
<circle cx="297.43" cy="561.04" r="2.00" fill="#d4d4d4" stroke="none" stroke-width="1" />
<circle cx="306.26" cy="521.64" r="2.00" fill="#d4d4d4" stroke="none" stroke-width="1" />
<circle cx="294.28" cy="595.16" r="2.00" fill="#d4d4d4" stroke="none" stroke-width="1" />
<circle cx="308.81" cy="558.39" r="2.00" fill="#d4d4d4" stroke="none" stroke-width="1" />
<circle cx="312.86" cy="562.05" r="2.00" fill="#d4d4d4" stroke="none" stroke-width="1" />
<circle cx="294.44" cy="572.58" r="2.00" fill="#d4d4d4" stroke="none" stroke-width="1" />
<circle cx="297.56" cy="576.63" r="2.00" fill="#d4d4d4" stroke="none" stroke-width="1" />
<circle cx="303.26" cy="553.75" r="2.00" fill="#d4d4d4" stroke="none" stroke-width="1" />
<circle cx="314.17" cy="553.76" r="2.00" fill="#d4d4d4" stroke="none" stroke-width="1" />
<circle cx="313.12" cy="570.77" r="2.00" fill="#d4d4d4" stroke="none" stroke-width="1" />
<circle cx="324.09" cy="549.36" r="2.00" fill="#d4d4d4" stroke="none" stroke-width="1" />
<circle cx="302.16" cy="587.47" r="2.00" fill="#d4d4d4" stroke="none" stroke-width="1" />
<circle cx="301.27" cy="600.10" r="2.00" fill="#d4d4d4" stroke="none" stroke-width="1" />
<circle cx="303.47" cy="607.91" r="2.00" fill="#d4d4d4" stroke="none" stroke-width="1" />
<circle cx="296.11" cy="581.67" r="2.00" fill="#d4d4d4" stroke="none" stroke-width="1" />
<circle cx="299.78" cy="597.70" r="2.00" fill="#d4d4d4" stroke="none" stroke-width="1" />
<circle cx="307.91" cy="512.04" r="2.00" fill="#d4d4d4" stroke="none" stroke-width="1" />
<circle cx="312.41" cy="573.59" r="2.00" fill="#d4d4d4" stroke="none" stroke-width="1" />
<circle cx="311.48" cy="502.39" r="2.00" fill="#d4d4d4" stroke="none" stroke-width="1" />
<circle cx="299.25" cy="574.64" r="2.00" fill="#d4d4d4" stroke="none" stroke-width="1" />
<circle cx="312.89" cy="585.91" r="2.00" fill="#d4d4d4" stroke="none" stroke-width="1" />
<circle cx="303.61" cy="574.39" r="2.00" fill="#d4d4d4" stroke="none" stroke-width="1" />
<circle cx="314.60" cy="532.07" r="2.00" fill="#d4d4d4" stroke="none" stroke-width="1" />
<circle cx="307.51" cy="544.29" r="2.00" fill="#d4d4d4" stroke="none" stroke-width="1" />
<circle cx="314.40" cy="511.09" r="2.00" fill="#d4d4d4" stroke="none" stroke-width="1" />
<circle cx="299.53" cy="533.87" r="2.00" fill="#d4d4d4" stroke="none" stroke-width="1" />
<circle cx="304.48" cy="601.03" r="2.00" fill="#d4d4d4" stroke="none" stroke-width="1" />
<circle cx="294.43" cy="586.70" r="2.00" fill="#d4d4d4" stroke="none" stroke-width="1" />
<circle cx="310.18" cy="526.28" r="2.00" fill="#d4d4d4" stroke="none" stroke-width="1" />
<circle cx="299.03" cy="561.01" r="2.00" fill="#d4d4d4" stroke="none" stroke-width="1" />
<circle cx="302.57" cy="537.12" r="2.00" fill="#d4d4d4" stroke="none" stroke-width="1" />
<circle cx="294.04" cy="593.27" r="2.00" fill="#d4d4d4" stroke="none" stroke-width="1" />
<circle cx="292.77" cy="548.46" r="2.00" fill="#d4d4d4" stroke="none" stroke-width="1" />
<circle cx="306.22" cy="607.57" r="2.00" fill="#d4d4d4" stroke="none" stroke-width="1" />
<circle cx="312.51" cy="577.54" r="2.00" fill="#d4d4d4" stroke="none" stroke-width="1" />
<circle cx="296.40" cy="540.67" r="2.00" fill="#d4d4d4" stroke="none" stroke-width="1" />
<circle cx="307.64" cy="593.99" r="2.00" fill="#d4d4d4" stroke="none" stroke-width="1" />
<circle cx="299.98" cy="542.86" r="2.00" fill="#d4d4d4" stroke="none" stroke-width="1" />
<circle cx="300.21" cy="537.95" r="2.00" fill="#d4d4d4" stroke="none" stroke-width="1" />
<circle cx="303.18" cy="561.34" r="2.00" fill="#d4d4d4" stroke="none" stroke-width="1" />
<circle cx="307.26" cy="601.12" r="2.00" fill="#d4d4d4" stroke="none" stroke-width="1" />
<circle cx="306.97" cy="550.70" r="2.00" fill="#d4d4d4" stroke="none" stroke-width="1" />
<circle cx="309.49" cy="594.17" r="2.00" fill="#d4d4d4" stroke="none" stroke-width="1" />
<circle cx="300.65" cy="570.09" r="2.00" fill="#d4d4d4" stroke="none" stroke-width="1" />
<circle cx="306.14" cy="568.14" r="2.00" fill="#d4d4d4" stroke="none" stroke-width="1" />
<circle cx="307.90" cy="531.34" r="2.00" fill="#d4d4d4" stroke="none" stroke-width="1" />
<circle cx="322.99" cy="531.24" r="2.00" fill="#d4d4d4" stroke="none" stroke-width="1" />
<circle cx="311.20" cy="550.77" r="2.00" fill="#d4d4d4" stroke="none" stroke-width="1" />
<circle cx="308.79" cy="508.50" r="2.00" fill="#d4d4d4" stroke="none" stroke-width="1" />
<circle cx="304.74" cy="531.50" r="2.00" fill="#d4d4d4" stroke="none" stroke-width="1" />
<circle cx="291.12" cy="589.93" r="2.00" fill="#d4d4d4" stroke="none" stroke-width="1" />
<circle cx="318.31" cy="533.08" r="2.00" fill="#d4d4d4" stroke="none" stroke-width="1" />
<circle cx="301.28" cy="543.91" r="2.00" fill="#d4d4d4" stroke="none" stroke-width="1" />
<circle cx="302.58" cy="528.51" r="2.00" fill="#d4d4d4" stroke="none" stroke-width="1" />
<circle cx="297.82" cy="554.40" r="2.00" fill="#d4d4d4" stroke="none" stroke-width="1" />
<circle cx="305.56" cy="514.25" r="2.00" fill="#d4d4d4" stroke="none" stroke-width="1" />
<circle cx="307.68" cy="514.00" r="2.00" fill="#d4d4d4" stroke="none" stroke-width="1" />
<circle cx="308.22" cy="529.42" r="2.00" fill="#d4d4d4" stroke="none" stroke-width="1" />
<circle cx="306.62" cy="593.90" r="2.00" fill="#d4d4d4" stroke="none" stroke-width="1" />
<circle cx="287.73" cy="565.26" r="2.00" fill="#d4d4d4" stroke="none" stroke-width="1" />
<circle cx="307.36" cy="549.84" r="2.00" fill="#d4d4d4" stroke="none" stroke-width="1" />
<circle cx="303.93" cy="522.41" r="2.00" fill="#d4d4d4" stroke="none" stroke-width="1" />
<circle cx="302.00" cy="593.93" r="2.00" fill="#d4d4d4" stroke="none" stroke-width="1" />
<circle cx="288.93" cy="582.12" r="2.00" fill="#d4d4d4" stroke="none" stroke-width="1" />
<circle cx="299.78" cy="550.33" r="2.00" fill="#d4d4d4" stroke="none" stroke-width="1" />
<circle cx="310.95" cy="565.14" r="2.00" fill="#d4d4d4" stroke="none" stroke-width="1" />
<circle cx="308.36" cy="581.63" r="2.00" fill="#d4d4d4" stroke="none" stroke-width="1" />
<circle cx="304.37" cy="518.47" r="2.00" fill="#d4d4d4" stroke="none" stroke-width="1" />
<circle cx="300.72" cy="524.54" r="2.00" fill="#d4d4d4" stroke="none" stroke-width="1" />
<circle cx="298.44" cy="586.74" r="2.00" fill="#d4d4d4" stroke="none" stroke-width="1" />
<circle cx="313.16" cy="540.87" r="2.00" fill="#d4d4d4" stroke="none" stroke-width="1" />
<circle cx="313.64" cy="541.04" r="2.00" fill="#d4d4d4" stroke="none" stroke-width="1" />
<circle cx="314.20" cy="595.06" r="2.00" fill="#d4d4d4" stroke="none" stroke-width="1" />
<circle cx="304.19" cy="601.13" r="2.00" fill="#d4d4d4" stroke="none" stroke-width="1" />
<circle cx="294.83" cy="568.92" r="2.00" fill="#d4d4d4" stroke="none" stroke-width="1" />
<circle cx="307.12" cy="526.20" r="2.00" fill="#d4d4d4" stroke="none" stroke-width="1" />
<circle cx="299.64" cy="571.77" r="2.00" fill="#d4d4d4" stroke="none" stroke-width="1" />
<circle cx="312.66" cy="612.18" r="2.00" fill="#d4d4d4" stroke="none" stroke-width="1" />
<circle cx="296.33" cy="579.78" r="2.00" fill="#d4d4d4" stroke="none" stroke-width="1" />
<circle cx="301.87" cy="580.41" r="2.00" fill="#d4d4d4" stroke="none" stroke-width="1" />
<circle cx="292.80" cy="553.23" r="2.00" fill="#d4d4d4" stroke="none" stroke-width="1" />
<circle cx="292.80" cy="557.44" r="2.00" fill="#d4d4d4" stroke="none" stroke-width="1" />
<circle cx="319.60" cy="500.82" r="2.00" fill="#d4d4d4" stroke="none" stroke-width="1" />
<circle cx="304.18" cy="571.64" r="2.00" fill="#d4d4d4" stroke="none" stroke-width="1" />
<circle cx="306.28" cy="576.79" r="2.00" fill="#d4d4d4" stroke="none" stroke-width="1" />
<circle cx="296.41" cy="589.91" r="2.00" fill="#d4d4d4" stroke="none" stroke-width="1" />
<circle cx="303.56" cy="562.82" r="2.00" fill="#d4d4d4" stroke="none" stroke-width="1" />
<circle cx="292.12" cy="566.35" r="2.00" fill="#d4d4d4" stroke="none" stroke-width="1" />
<circle cx="311.80" cy="528.81" r="2.00" fill="#d4d4d4" stroke="none" stroke-width="1" />
<circle cx="292.55" cy="562.73" r="2.00" fill="#d4d4d4" stroke="none" stroke-width="1" />
<circle cx="304.70" cy="585.88" r="2.00" fill="#d4d4d4" stroke="none" stroke-width="1" />
<circle cx="294.09" cy="603.80" r="2.00" fill="#d4d4d4" stroke="none" stroke-width="1" />
<circle cx="295.17" cy="587.48" r="2.00" fill="#d4d4d4" stroke="none" stroke-width="1" />
<circle cx="308.57" cy="572.72" r="2.00" fill="#d4d4d4" stroke="none" stroke-width="1" />
<circle cx="309.94" cy="585.18" r="2.00" fill="#d4d4d4" stroke="none" stroke-width="1" />
<circle cx="311.39" cy="539.95" r="2.00" fill="#d4d4d4" stroke="none" stroke-width="1" />
<circle cx="294.33" cy="559.64" r="2.00" fill="#d4d4d4" stroke="none" stroke-width="1" />
<circle cx="291.55" cy="554.25" r="2.00" fill="#d4d4d4" stroke="none" stroke-width="1" />
<circle cx="312.31" cy="526.25" r="2.00" fill="#d4d4d4" stroke="none" stroke-width="1" />
<circle cx="306.81" cy="568.11" r="2.00" fill="#d4d4d4" stroke="none" stroke-width="1" />
<circle cx="296.12" cy="556.40" r="2.00" fill="#d4d4d4" stroke="none" stroke-width="1" />
<circle cx="288.86" cy="585.02" r="2.00" fill="#d4d4d4" stroke="none" stroke-width="1" />
<circle cx="295.38" cy="570.40" r="2.00" fill="#d4d4d4" stroke="none" stroke-width="1" />
<circle cx="295.73" cy="576.22" r="2.00" fill="#d4d4d4" stroke="none" stroke-width="1" />
<circle cx="298.11" cy="559.77" r="2.00" fill="#d4d4d4" stroke="none" stroke-width="1" />
<circle cx="308.60" cy="536.32" r="2.00" fill="#d4d4d4" stroke="none" stroke-width="1" />
<circle cx="291.13" cy="585.48" r="2.00" fill="#d4d4d4" stroke="none" stroke-width="1" />
<circle cx="292.27" cy="585.58" r="2.00" fill="#d4d4d4" stroke="none" stroke-width="1" />
<circle cx="302.69" cy="522.50" r="2.00" fill="#d4d4d4" stroke="none" stroke-width="1" />
<circle cx="314.21" cy="535.34" r="2.00" fill="#d4d4d4" stroke="none" stroke-width="1" />
<circle cx="302.60" cy="584.72" r="2.00" fill="#d4d4d4" stroke="none" stroke-width="1" />
<circle cx="304.51" cy="519.81" r="2.00" fill="#d4d4d4" stroke="none" stroke-width="1" />
<circle cx="307.71" cy="512.64" r="2.00" fill="#d4d4d4" stroke="none" stroke-width="1" />
<circle cx="295.94" cy="556.89" r="2.00" fill="#d4d4d4" stroke="none" stroke-width="1" />
<circle cx="289.66" cy="562.10" r="2.00" fill="#d4d4d4" stroke="none" stroke-width="1" />
<circle cx="303.20" cy="544.36" r="2.00" fill="#d4d4d4" stroke="none" stroke-width="1" />
<circle cx="314.26" cy="535.79" r="2.00" fill="#d4d4d4" stroke="none" stroke-width="1" />
<circle cx="300.55" cy="534.87" r="2.00" fill="#d4d4d4" stroke="none" stroke-width="1" />
<circle cx="296.30" cy="604.46" r="2.00" fill="#d4d4d4" stroke="none" stroke-width="1" />
<circle cx="309.16" cy="518.36" r="2.00" fill="#d4d4d4" stroke="none" stroke-width="1" />
<circle cx="298.52" cy="594.74" r="2.00" fill="#d4d4d4" stroke="none" stroke-width="1" />
<circle cx="292.63" cy="596.57" r="2.00" fill="#d4d4d4" stroke="none" stroke-width="1" />
<circle cx="306.01" cy="588.56" r="2.00" fill="#d4d4d4" stroke="none" stroke-width="1" />
<circle cx="306.57" cy="532.45" r="2.00" fill="#d4d4d4" stroke="none" stroke-width="1" />
<circle cx="303.93" cy="539.05" r="2.00" fill="#d4d4d4" stroke="none" stroke-width="1" />
<circle cx="311.81" cy="512.61" r="2.00" fill="#d4d4d4" stroke="none" stroke-width="1" />
<circle cx="293.55" cy="592.57" r="2.00" fill="#d4d4d4" stroke="none" stroke-width="1" />
<circle cx="303.57" cy="522.96" r="2.00" fill="#d4d4d4" stroke="none" stroke-width="1" />
<circle cx="294.39" cy="554.17" r="2.00" fill="#d4d4d4" stroke="none" stroke-width="1" />
<circle cx="307.47" cy="591.19" r="2.00" fill="#d4d4d4" stroke="none" stroke-width="1" />
<circle cx="316.82" cy="585.58" r="2.00" fill="#d4d4d4" stroke="none" stroke-width="1" />
<circle cx="306.11" cy="599.10" r="2.00" fill="#d4d4d4" stroke="none" stroke-width="1" />
<circle cx="306.82" cy="557.76" r="2.00" fill="#d4d4d4" stroke="none" stroke-width="1" />
<circle cx="304.17" cy="586.62" r="2.00" fill="#d4d4d4" stroke="none" stroke-width="1" />
<circle cx="301.96" cy="524.05" r="2.00" fill="#d4d4d4" stroke="none" stroke-width="1" />
<circle cx="298.07" cy="544.17" r="2.00" fill="#d4d4d4" stroke="none" stroke-width="1" />
<circle cx="298.70" cy="528.98" r="2.00" fill="#d4d4d4" stroke="none" stroke-width="1" />
<circle cx="303.83" cy="556.49" r="2.00" fill="#d4d4d4" stroke="none" stroke-width="1" />
<circle cx="290.67" cy="581.66" r="2.00" fill="#d4d4d4" stroke="none" stroke-width="1" />
<circle cx="297.66" cy="613.58" r="2.00" fill="#d4d4d4" stroke="none" stroke-width="1" />
<circle cx="304.20" cy="525.50" r="2.00" fill="#d4d4d4" stroke="none" stroke-width="1" />
<circle cx="293.44" cy="594.22" r="2.00" fill="#d4d4d4" stroke="none" stroke-width="1" />
<circle cx="300.55" cy="587.30" r="2.00" fill="#d4d4d4" stroke="none" stroke-width="1" />
<circle cx="307.53" cy="550.32" r="2.00" fill="#d4d4d4" stroke="none" stroke-width="1" />
<circle cx="304.30" cy="530.95" r="2.00" fill="#d4d4d4" stroke="none" stroke-width="1" />
<circle cx="310.84" cy="538.67" r="2.00" fill="#d4d4d4" stroke="none" stroke-width="1" />
<circle cx="295.12" cy="565.12" r="2.00" fill="#d4d4d4" stroke="none" stroke-width="1" />
<circle cx="298.65" cy="580.63" r="2.00" fill="#d4d4d4" stroke="none" stroke-width="1" />
<circle cx="298.52" cy="590.72" r="2.00" fill="#d4d4d4" stroke="none" stroke-width="1" />
<circle cx="292.46" cy="606.51" r="2.00" fill="#d4d4d4" stroke="none" stroke-width="1" />
<circle cx="312.49" cy="526.91" r="2.00" fill="#d4d4d4" stroke="none" stroke-width="1" />
<circle cx="299.80" cy="585.62" r="2.00" fill="#d4d4d4" stroke="none" stroke-width="1" />
<circle cx="309.93" cy="566.26" r="2.00" fill="#d4d4d4" stroke="none" stroke-width="1" />
<circle cx="299.07" cy="544.21" r="2.00" fill="#d4d4d4" stroke="none" stroke-width="1" />
<circle cx="301.07" cy="551.57" r="2.00" fill="#d4d4d4" stroke="none" stroke-width="1" />
<circle cx="313.87" cy="549.16" r="2.00" fill="#d4d4d4" stroke="none" stroke-width="1" />
<circle cx="293.61" cy="552.36" r="2.00" fill="#d4d4d4" stroke="none" stroke-width="1" />
<circle cx="301.25" cy="557.74" r="2.00" fill="#d4d4d4" stroke="none" stroke-width="1" />
<circle cx="300.39" cy="565.53" r="2.00" fill="#d4d4d4" stroke="none" stroke-width="1" />
<circle cx="301.73" cy="537.91" r="2.00" fill="#d4d4d4" stroke="none" stroke-width="1" />
<circle cx="296.84" cy="581.66" r="2.00" fill="#d4d4d4" stroke="none" stroke-width="1" />
<circle cx="305.47" cy="571.64" r="2.00" fill="#d4d4d4" stroke="none" stroke-width="1" />
<circle cx="293.65" cy="580.61" r="2.00" fill="#d4d4d4" stroke="none" stroke-width="1" />
<circle cx="302.88" cy="530.69" r="2.00" fill="#d4d4d4" stroke="none" stroke-width="1" />
<circle cx="314.31" cy="501.90" r="2.00" fill="#d4d4d4" stroke="none" stroke-width="1" />
<circle cx="260.71" cy="600.24" r="2.00" fill="#d4d4d4" stroke="none" stroke-width="1" />
<circle cx="276.34" cy="606.16" r="2.00" fill="#d4d4d4" stroke="none" stroke-width="1" />
<circle cx="276.45" cy="603.75" r="2.00" fill="#d4d4d4" stroke="none" stroke-width="1" />
<circle cx="278.53" cy="603.57" r="2.00" fill="#d4d4d4" stroke="none" stroke-width="1" />
<circle cx="267.87" cy="584.06" r="2.00" fill="#d4d4d4" stroke="none" stroke-width="1" />
<circle cx="294.18" cy="609.05" r="2.00" fill="#d4d4d4" stroke="none" stroke-width="1" />
<circle cx="284.03" cy="586.84" r="2.00" fill="#d4d4d4" stroke="none" stroke-width="1" />
<circle cx="302.60" cy="608.51" r="2.00" fill="#d4d4d4" stroke="none" stroke-width="1" />
<circle cx="276.04" cy="594.12" r="2.00" fill="#d4d4d4" stroke="none" stroke-width="1" />
<circle cx="264.85" cy="598.86" r="2.00" fill="#d4d4d4" stroke="none" stroke-width="1" />
<circle cx="298.67" cy="601.54" r="2.00" fill="#d4d4d4" stroke="none" stroke-width="1" />
<circle cx="287.78" cy="603.94" r="2.00" fill="#d4d4d4" stroke="none" stroke-width="1" />
<circle cx="281.32" cy="608.06" r="2.00" fill="#d4d4d4" stroke="none" stroke-width="1" />
<circle cx="282.48" cy="603.95" r="2.00" fill="#d4d4d4" stroke="none" stroke-width="1" />
<circle cx="297.78" cy="611.65" r="2.00" fill="#d4d4d4" stroke="none" stroke-width="1" />
<circle cx="302.41" cy="586.67" r="2.00" fill="#d4d4d4" stroke="none" stroke-width="1" />
<circle cx="294.01" cy="594.94" r="2.00" fill="#d4d4d4" stroke="none" stroke-width="1" />
<circle cx="276.49" cy="603.89" r="2.00" fill="#d4d4d4" stroke="none" stroke-width="1" />
<circle cx="263.78" cy="599.23" r="2.00" fill="#d4d4d4" stroke="none" stroke-width="1" />
<circle cx="278.35" cy="596.87" r="2.00" fill="#d4d4d4" stroke="none" stroke-width="1" />
<circle cx="283.57" cy="608.38" r="2.00" fill="#d4d4d4" stroke="none" stroke-width="1" />
<circle cx="281.03" cy="611.91" r="2.00" fill="#d4d4d4" stroke="none" stroke-width="1" />
<circle cx="281.99" cy="591.21" r="2.00" fill="#d4d4d4" stroke="none" stroke-width="1" />
<circle cx="269.65" cy="576.97" r="2.00" fill="#d4d4d4" stroke="none" stroke-width="1" />
<circle cx="269.56" cy="587.63" r="2.00" fill="#d4d4d4" stroke="none" stroke-width="1" />
<circle cx="284.68" cy="603.90" r="2.00" fill="#d4d4d4" stroke="none" stroke-width="1" />
<circle cx="285.34" cy="614.20" r="2.00" fill="#d4d4d4" stroke="none" stroke-width="1" />
<circle cx="281.90" cy="598.64" r="2.00" fill="#d4d4d4" stroke="none" stroke-width="1" />
<circle cx="283.32" cy="600.86" r="2.00" fill="#d4d4d4" stroke="none" stroke-width="1" />
<circle cx="279.83" cy="580.44" r="2.00" fill="#d4d4d4" stroke="none" stroke-width="1" />
<circle cx="260.00" cy="609.19" r="2.00" fill="#d4d4d4" stroke="none" stroke-width="1" />
<circle cx="271.78" cy="587.31" r="2.00" fill="#d4d4d4" stroke="none" stroke-width="1" />
<circle cx="298.42" cy="605.79" r="2.00" fill="#d4d4d4" stroke="none" stroke-width="1" />
<circle cx="276.50" cy="605.31" r="2.00" fill="#d4d4d4" stroke="none" stroke-width="1" />
<circle cx="295.85" cy="592.96" r="2.00" fill="#d4d4d4" stroke="none" stroke-width="1" />
<circle cx="285.96" cy="604.80" r="2.00" fill="#d4d4d4" stroke="none" stroke-width="1" />
<circle cx="297.49" cy="587.40" r="2.00" fill="#d4d4d4" stroke="none" stroke-width="1" />
<circle cx="288.68" cy="598.11" r="2.00" fill="#d4d4d4" stroke="none" stroke-width="1" />
<circle cx="302.45" cy="611.67" r="2.00" fill="#d4d4d4" stroke="none" stroke-width="1" />
<circle cx="282.46" cy="595.94" r="2.00" fill="#d4d4d4" stroke="none" stroke-width="1" />
<circle cx="291.12" cy="586.33" r="2.00" fill="#d4d4d4" stroke="none" stroke-width="1" />
<circle cx="280.85" cy="612.94" r="2.00" fill="#d4d4d4" stroke="none" stroke-width="1" />
<circle cx="278.69" cy="604.76" r="2.00" fill="#d4d4d4" stroke="none" stroke-width="1" />
<circle cx="283.57" cy="602.72" r="2.00" fill="#d4d4d4" stroke="none" stroke-width="1" />
<circle cx="266.78" cy="609.52" r="2.00" fill="#d4d4d4" stroke="none" stroke-width="1" />
<circle cx="279.00" cy="608.62" r="2.00" fill="#d4d4d4" stroke="none" stroke-width="1" />
<circle cx="279.58" cy="610.88" r="2.00" fill="#d4d4d4" stroke="none" stroke-width="1" />
<circle cx="286.71" cy="602.70" r="2.00" fill="#d4d4d4" stroke="none" stroke-width="1" />
<circle cx="295.13" cy="614.02" r="2.00" fill="#d4d4d4" stroke="none" stroke-width="1" />
<circle cx="267.25" cy="605.78" r="2.00" fill="#d4d4d4" stroke="none" stroke-width="1" />
<circle cx="278.71" cy="613.37" r="2.00" fill="#d4d4d4" stroke="none" stroke-width="1" />
<circle cx="312.69" cy="614.10" r="2.00" fill="#d4d4d4" stroke="none" stroke-width="1" />
<circle cx="273.02" cy="606.70" r="2.00" fill="#d4d4d4" stroke="none" stroke-width="1" />
<circle cx="285.39" cy="590.24" r="2.00" fill="#d4d4d4" stroke="none" stroke-width="1" />
<circle cx="288.50" cy="595.02" r="2.00" fill="#d4d4d4" stroke="none" stroke-width="1" />
<circle cx="285.05" cy="601.80" r="2.00" fill="#d4d4d4" stroke="none" stroke-width="1" />
<circle cx="289.38" cy="602.28" r="2.00" fill="#d4d4d4" stroke="none" stroke-width="1" />
<circle cx="281.39" cy="612.43" r="2.00" fill="#d4d4d4" stroke="none" stroke-width="1" />
<circle cx="262.86" cy="598.46" r="2.00" fill="#d4d4d4" stroke="none" stroke-width="1" />
<circle cx="296.46" cy="591.86" r="2.00" fill="#d4d4d4" stroke="none" stroke-width="1" />
<circle cx="275.25" cy="604.83" r="2.00" fill="#d4d4d4" stroke="none" stroke-width="1" />
<circle cx="270.95" cy="614.00" r="2.00" fill="#d4d4d4" stroke="none" stroke-width="1" />
<circle cx="274.57" cy="603.48" r="2.00" fill="#d4d4d4" stroke="none" stroke-width="1" />
<circle cx="309.19" cy="595.23" r="2.00" fill="#d4d4d4" stroke="none" stroke-width="1" />
<circle cx="266.76" cy="606.17" r="2.00" fill="#d4d4d4" stroke="none" stroke-width="1" />
<circle cx="305.27" cy="590.29" r="2.00" fill="#d4d4d4" stroke="none" stroke-width="1" />
<circle cx="273.10" cy="610.87" r="2.00" fill="#d4d4d4" stroke="none" stroke-width="1" />
<circle cx="285.94" cy="614.61" r="2.00" fill="#d4d4d4" stroke="none" stroke-width="1" />
<circle cx="276.57" cy="614.61" r="2.00" fill="#d4d4d4" stroke="none" stroke-width="1" />
<circle cx="261.11" cy="607.69" r="2.00" fill="#d4d4d4" stroke="none" stroke-width="1" />
<circle cx="277.47" cy="597.36" r="2.00" fill="#d4d4d4" stroke="none" stroke-width="1" />
<circle cx="294.14" cy="609.17" r="2.00" fill="#d4d4d4" stroke="none" stroke-width="1" />
<circle cx="292.30" cy="577.81" r="2.00" fill="#d4d4d4" stroke="none" stroke-width="1" />
<circle cx="279.85" cy="603.61" r="2.00" fill="#d4d4d4" stroke="none" stroke-width="1" />
<circle cx="283.40" cy="596.49" r="2.00" fill="#d4d4d4" stroke="none" stroke-width="1" />
<circle cx="283.01" cy="601.48" r="2.00" fill="#d4d4d4" stroke="none" stroke-width="1" />
<circle cx="276.55" cy="602.65" r="2.00" fill="#d4d4d4" stroke="none" stroke-width="1" />
<circle cx="278.34" cy="603.29" r="2.00" fill="#d4d4d4" stroke="none" stroke-width="1" />
<circle cx="281.40" cy="601.18" r="2.00" fill="#d4d4d4" stroke="none" stroke-width="1" />
<circle cx="285.22" cy="605.60" r="2.00" fill="#d4d4d4" stroke="none" stroke-width="1" />
<circle cx="285.10" cy="609.02" r="2.00" fill="#d4d4d4" stroke="none" stroke-width="1" />
<circle cx="272.76" cy="585.82" r="2.00" fill="#d4d4d4" stroke="none" stroke-width="1" />
<circle cx="279.61" cy="569.15" r="2.00" fill="#d4d4d4" stroke="none" stroke-width="1" />
<circle cx="277.14" cy="598.77" r="2.00" fill="#d4d4d4" stroke="none" stroke-width="1" />
<circle cx="261.81" cy="605.95" r="2.00" fill="#d4d4d4" stroke="none" stroke-width="1" />
<circle cx="267.57" cy="600.59" r="2.00" fill="#d4d4d4" stroke="none" stroke-width="1" />
<circle cx="288.68" cy="596.59" r="2.00" fill="#d4d4d4" stroke="none" stroke-width="1" />
<circle cx="285.62" cy="602.33" r="2.00" fill="#d4d4d4" stroke="none" stroke-width="1" />
<circle cx="280.09" cy="602.88" r="2.00" fill="#d4d4d4" stroke="none" stroke-width="1" />
<circle cx="287.18" cy="602.22" r="2.00" fill="#d4d4d4" stroke="none" stroke-width="1" />
<circle cx="282.46" cy="611.87" r="2.00" fill="#d4d4d4" stroke="none" stroke-width="1" />
<circle cx="272.11" cy="608.33" r="2.00" fill="#d4d4d4" stroke="none" stroke-width="1" />
<circle cx="275.90" cy="606.29" r="2.00" fill="#d4d4d4" stroke="none" stroke-width="1" />
<circle cx="288.47" cy="611.37" r="2.00" fill="#d4d4d4" stroke="none" stroke-width="1" />
<circle cx="277.80" cy="614.01" r="2.00" fill="#d4d4d4" stroke="none" stroke-width="1" />
<circle cx="272.39" cy="611.05" r="2.00" fill="#d4d4d4" stroke="none" stroke-width="1" />
<circle cx="275.11" cy="611.23" r="2.00" fill="#d4d4d4" stroke="none" stroke-width="1" />
<circle cx="270.73" cy="598.43" r="2.00" fill="#d4d4d4" stroke="none" stroke-width="1" />
<circle cx="280.01" cy="602.69" r="2.00" fill="#d4d4d4" stroke="none" stroke-width="1" />
<circle cx="291.07" cy="604.29" r="2.00" fill="#d4d4d4" stroke="none" stroke-width="1" />
<circle cx="285.90" cy="591.52" r="2.00" fill="#d4d4d4" stroke="none" stroke-width="1" />
<circle cx="274.50" cy="614.14" r="2.00" fill="#d4d4d4" stroke="none" stroke-width="1" />
<circle cx="263.28" cy="579.08" r="2.00" fill="#d4d4d4" stroke="none" stroke-width="1" />
<circle cx="270.13" cy="613.94" r="2.00" fill="#d4d4d4" stroke="none" stroke-width="1" />
<circle cx="271.33" cy="601.88" r="2.00" fill="#d4d4d4" stroke="none" stroke-width="1" />
<circle cx="296.18" cy="614.85" r="2.00" fill="#d4d4d4" stroke="none" stroke-width="1" />
<circle cx="296.95" cy="605.89" r="2.00" fill="#d4d4d4" stroke="none" stroke-width="1" />
<circle cx="272.93" cy="605.38" r="2.00" fill="#d4d4d4" stroke="none" stroke-width="1" />
<circle cx="270.02" cy="592.39" r="2.00" fill="#d4d4d4" stroke="none" stroke-width="1" />
<circle cx="273.93" cy="611.82" r="2.00" fill="#d4d4d4" stroke="none" stroke-width="1" />
<circle cx="293.16" cy="610.06" r="2.00" fill="#d4d4d4" stroke="none" stroke-width="1" />
<circle cx="280.68" cy="612.22" r="2.00" fill="#d4d4d4" stroke="none" stroke-width="1" />
<circle cx="296.03" cy="606.09" r="2.00" fill="#d4d4d4" stroke="none" stroke-width="1" />
<circle cx="280.14" cy="596.45" r="2.00" fill="#d4d4d4" stroke="none" stroke-width="1" />
<circle cx="278.69" cy="596.02" r="2.00" fill="#d4d4d4" stroke="none" stroke-width="1" />
<circle cx="268.62" cy="591.20" r="2.00" fill="#d4d4d4" stroke="none" stroke-width="1" />
<circle cx="280.42" cy="564.86" r="2.00" fill="#d4d4d4" stroke="none" stroke-width="1" />
<circle cx="270.87" cy="601.90" r="2.00" fill="#d4d4d4" stroke="none" stroke-width="1" />
<circle cx="290.58" cy="606.39" r="2.00" fill="#d4d4d4" stroke="none" stroke-width="1" />
<circle cx="292.30" cy="581.83" r="2.00" fill="#d4d4d4" stroke="none" stroke-width="1" />
<circle cx="287.23" cy="607.01" r="2.00" fill="#d4d4d4" stroke="none" stroke-width="1" />
<circle cx="276.94" cy="592.64" r="2.00" fill="#d4d4d4" stroke="none" stroke-width="1" />
<circle cx="289.61" cy="608.67" r="2.00" fill="#d4d4d4" stroke="none" stroke-width="1" />
<circle cx="287.46" cy="603.47" r="2.00" fill="#d4d4d4" stroke="none" stroke-width="1" />
<circle cx="278.55" cy="605.77" r="2.00" fill="#d4d4d4" stroke="none" stroke-width="1" />
<circle cx="289.45" cy="608.01" r="2.00" fill="#d4d4d4" stroke="none" stroke-width="1" />
<circle cx="297.34" cy="596.96" r="2.00" fill="#d4d4d4" stroke="none" stroke-width="1" />
<circle cx="287.71" cy="595.62" r="2.00" fill="#d4d4d4" stroke="none" stroke-width="1" />
<circle cx="271.19" cy="611.04" r="2.00" fill="#d4d4d4" stroke="none" stroke-width="1" />
<circle cx="279.16" cy="605.77" r="2.00" fill="#d4d4d4" stroke="none" stroke-width="1" />
<circle cx="296.14" cy="612.16" r="2.00" fill="#d4d4d4" stroke="none" stroke-width="1" />
<circle cx="274.05" cy="605.23" r="2.00" fill="#d4d4d4" stroke="none" stroke-width="1" />
<circle cx="284.96" cy="613.41" r="2.00" fill="#d4d4d4" stroke="none" stroke-width="1" />
<circle cx="296.83" cy="596.44" r="2.00" fill="#d4d4d4" stroke="none" stroke-width="1" />
<circle cx="267.61" cy="609.24" r="2.00" fill="#d4d4d4" stroke="none" stroke-width="1" />
<circle cx="268.99" cy="594.76" r="2.00" fill="#d4d4d4" stroke="none" stroke-width="1" />
<circle cx="295.79" cy="592.82" r="2.00" fill="#d4d4d4" stroke="none" stroke-width="1" />
<circle cx="275.57" cy="596.44" r="2.00" fill="#d4d4d4" stroke="none" stroke-width="1" />
<circle cx="289.41" cy="592.82" r="2.00" fill="#d4d4d4" stroke="none" stroke-width="1" />
<circle cx="264.39" cy="607.04" r="2.00" fill="#d4d4d4" stroke="none" stroke-width="1" />
<circle cx="301.13" cy="590.18" r="2.00" fill="#d4d4d4" stroke="none" stroke-width="1" />
<circle cx="287.11" cy="610.16" r="2.00" fill="#d4d4d4" stroke="none" stroke-width="1" />
<circle cx="303.45" cy="597.80" r="2.00" fill="#d4d4d4" stroke="none" stroke-width="1" />
<circle cx="291.66" cy="611.33" r="2.00" fill="#d4d4d4" stroke="none" stroke-width="1" />
<circle cx="261.11" cy="611.01" r="2.00" fill="#d4d4d4" stroke="none" stroke-width="1" />
<circle cx="285.59" cy="607.09" r="2.00" fill="#d4d4d4" stroke="none" stroke-width="1" />
<circle cx="290.59" cy="589.56" r="2.00" fill="#d4d4d4" stroke="none" stroke-width="1" />
<circle cx="304.96" cy="601.24" r="2.00" fill="#d4d4d4" stroke="none" stroke-width="1" />
<circle cx="279.99" cy="608.03" r="2.00" fill="#d4d4d4" stroke="none" stroke-width="1" />
<circle cx="279.14" cy="591.02" r="2.00" fill="#d4d4d4" stroke="none" stroke-width="1" />
<circle cx="330.17" cy="474.61" r="2.00" fill="#d4d4d4" stroke="none" stroke-width="1" />
<circle cx="228.85" cy="538.14" r="2.00" fill="#d4d4d4" stroke="none" stroke-width="1" />
<circle cx="236.30" cy="516.96" r="2.00" fill="#d4d4d4" stroke="none" stroke-width="1" />
<circle cx="224.38" cy="572.55" r="2.00" fill="#d4d4d4" stroke="none" stroke-width="1" />
<circle cx="309.31" cy="477.26" r="2.00" fill="#d4d4d4" stroke="none" stroke-width="1" />
<circle cx="310.80" cy="479.90" r="2.00" fill="#d4d4d4" stroke="none" stroke-width="1" />
<circle cx="300.37" cy="485.20" r="2.00" fill="#d4d4d4" stroke="none" stroke-width="1" />
<circle cx="263.12" cy="509.02" r="2.00" fill="#d4d4d4" stroke="none" stroke-width="1" />
<circle cx="257.16" cy="511.67" r="2.00" fill="#d4d4d4" stroke="none" stroke-width="1" />
<circle cx="345.07" cy="577.84" r="2.00" fill="#d4d4d4" stroke="none" stroke-width="1" />
<circle cx="346.56" cy="599.02" r="2.00" fill="#d4d4d4" stroke="none" stroke-width="1" />
<circle cx="348.05" cy="596.37" r="2.00" fill="#d4d4d4" stroke="none" stroke-width="1" />
<circle cx="319.74" cy="498.43" r="2.00" fill="#d4d4d4" stroke="none" stroke-width="1" />
<line x1="221.50" y1="456.10" x2="221.50" y2="614.90" stroke="#666" stroke-width="0.8" />
<line x1="218.50" y1="614.90" x2="221.50" y2="614.90" stroke="#666" stroke-width="0.8" />
<text transform="matrix(1,0,0,1.042,215.00,618.01)" text-anchor="end">0</text>
<line x1="218.50" y1="588.43" x2="221.50" y2="588.43" stroke="#666" stroke-width="0.8" />
<text transform="matrix(1,0,0,1.042,215.00,591.54)" text-anchor="end">1</text>
<line x1="218.50" y1="561.96" x2="221.50" y2="561.96" stroke="#666" stroke-width="0.8" />
<text transform="matrix(1,0,0,1.042,215.00,565.07)" text-anchor="end">2</text>
<line x1="218.50" y1="535.49" x2="221.50" y2="535.49" stroke="#666" stroke-width="0.8" />
<text transform="matrix(1,0,0,1.042,215.00,538.60)" text-anchor="end">3</text>
<line x1="218.50" y1="509.02" x2="221.50" y2="509.02" stroke="#666" stroke-width="0.8" />
<text transform="matrix(1,0,0,1.042,215.00,512.13)" text-anchor="end">4</text>
<line x1="218.50" y1="482.55" x2="221.50" y2="482.55" stroke="#666" stroke-width="0.8" />
<text transform="matrix(1,0,0,1.042,215.00,485.66)" text-anchor="end">5</text>
<line x1="218.50" y1="456.08" x2="221.50" y2="456.08" stroke="#666" stroke-width="0.8" />
<text transform="matrix(1,0,0,1.042,215.00,459.19)" text-anchor="end">6</text>
<line x1="221.50" y1="614.90" x2="370.40" y2="614.90" stroke="#666" stroke-width="0.8" />
<line x1="221.40" y1="614.90" x2="221.40" y2="617.90" stroke="#666" stroke-width="0.8" />
<text transform="matrix(1,0,0,1.042,221.40,628.31)" text-anchor="middle">−4</text>
<line x1="251.20" y1="614.90" x2="251.20" y2="617.90" stroke="#666" stroke-width="0.8" />
<text transform="matrix(1,0,0,1.042,251.20,628.31)" text-anchor="middle">−2</text>
<line x1="281.00" y1="614.90" x2="281.00" y2="617.90" stroke="#666" stroke-width="0.8" />
<text transform="matrix(1,0,0,1.042,281.00,628.31)" text-anchor="middle">0</text>
<line x1="310.80" y1="614.90" x2="310.80" y2="617.90" stroke="#666" stroke-width="0.8" />
<text transform="matrix(1,0,0,1.042,310.80,628.31)" text-anchor="middle">2</text>
<line x1="340.60" y1="614.90" x2="340.60" y2="617.90" stroke="#666" stroke-width="0.8" />
<text transform="matrix(1,0,0,1.042,340.60,628.31)" text-anchor="middle">4</text>
<line x1="370.40" y1="614.90" x2="370.40" y2="617.90" stroke="#666" stroke-width="0.8" />
<text transform="matrix(1,0,0,1.042,370.40,628.31)" text-anchor="middle">6</text>
<text transform="matrix(1,0,0,1.042,295.50,642.61)" text-anchor="middle">log<tspan font-size="6" dy="2">2</tspan><tspan dy="-2">(fold change)</tspan></text>
<text transform="translate(201.9,535.6) rotate(-90)" text-anchor="middle">−log<tspan font-size="6" dy="2">10</tspan><tspan dy="-2">(</tspan><tspan font-style="italic">P</tspan> value)</text>
<line x1="288.70" y1="456.50" x2="288.70" y2="614.90" stroke="#333" stroke-width="1.1" stroke-dasharray="2.8 2.0"/>
<line x1="221.50" y1="580.30" x2="370.40" y2="580.30" stroke="#333" stroke-width="1.1" stroke-dasharray="2.8 2.0"/>
<polyline points="350.30,516.20 354.60,522.00" fill="none" stroke="#1a1aff" stroke-width="0.8" />
<polyline points="312.60,509.60 316.00,512.40" fill="none" stroke="#ff1616" stroke-width="0.8" />
<polyline points="285.60,519.60 290.20,519.60 300.40,547.40" fill="none" stroke="#159a4e" stroke-width="0.8" />
<polyline points="314.30,529.80 317.80,526.60" fill="none" stroke="#ff1616" stroke-width="0.8" />
<polyline points="316.00,536.60 320.60,533.40" fill="none" stroke="#ff1616" stroke-width="0.8" />
<polyline points="316.60,552.60 321.40,547.60" fill="none" stroke="#ff1616" stroke-width="0.8" />
<polyline points="317.60,565.20 322.40,561.00" fill="none" stroke="#ff1616" stroke-width="0.8" />
<polyline points="327.60,570.20 332.40,568.20" fill="none" stroke="#ff1616" stroke-width="0.8" />
<polyline points="319.40,574.00 321.80,584.60" fill="none" stroke="#ff1616" stroke-width="0.8" />
<circle cx="317.00" cy="513.10" r="2.30" fill="#ff1616" stroke="none" stroke-width="1" />
<circle cx="312.70" cy="531.90" r="2.30" fill="#ff1616" stroke="none" stroke-width="1" />
<circle cx="314.30" cy="538.70" r="2.30" fill="#ff1616" stroke="none" stroke-width="1" />
<circle cx="314.90" cy="554.80" r="2.30" fill="#ff1616" stroke="none" stroke-width="1" />
<circle cx="315.80" cy="567.40" r="2.30" fill="#ff1616" stroke="none" stroke-width="1" />
<circle cx="325.70" cy="572.00" r="2.30" fill="#ff1616" stroke="none" stroke-width="1" />
<circle cx="318.90" cy="571.70" r="2.30" fill="#ff1616" stroke="none" stroke-width="1" />
<circle cx="355.90" cy="523.90" r="2.30" fill="#1a1aff" stroke="none" stroke-width="1" />
<circle cx="301.00" cy="549.50" r="2.30" fill="#159a4e" stroke="none" stroke-width="1" />
<text transform="matrix(1,0,0,1.042,303.50,507.01)" fill="#ff1616">POLR2E</text>
<text transform="matrix(1,0,0,1.042,325.70,514.71)" fill="#1a1aff">SUPT5H</text>
<text transform="matrix(1,0,0,1.042,266.50,522.71)" fill="#159a4e">GFP</text>
<text transform="matrix(1,0,0,1.042,317.00,527.01)" fill="#ff1616">POLR2A</text>
<text transform="matrix(1,0,0,1.042,322.00,535.61)" fill="#ff1616">POLR2B</text>
<text transform="matrix(1,0,0,1.042,322.60,548.01)" fill="#ff1616">POLR2J</text>
<text transform="matrix(1,0,0,1.042,323.50,561.91)" fill="#ff1616">POLR2L</text>
<text transform="matrix(1,0,0,1.042,334.30,570.51)" fill="#ff1616">POLR2D</text>
<text transform="matrix(1,0,0,1.042,321.00,592.11)" fill="#ff1616">POLR2H</text>
</svg></body></html>
